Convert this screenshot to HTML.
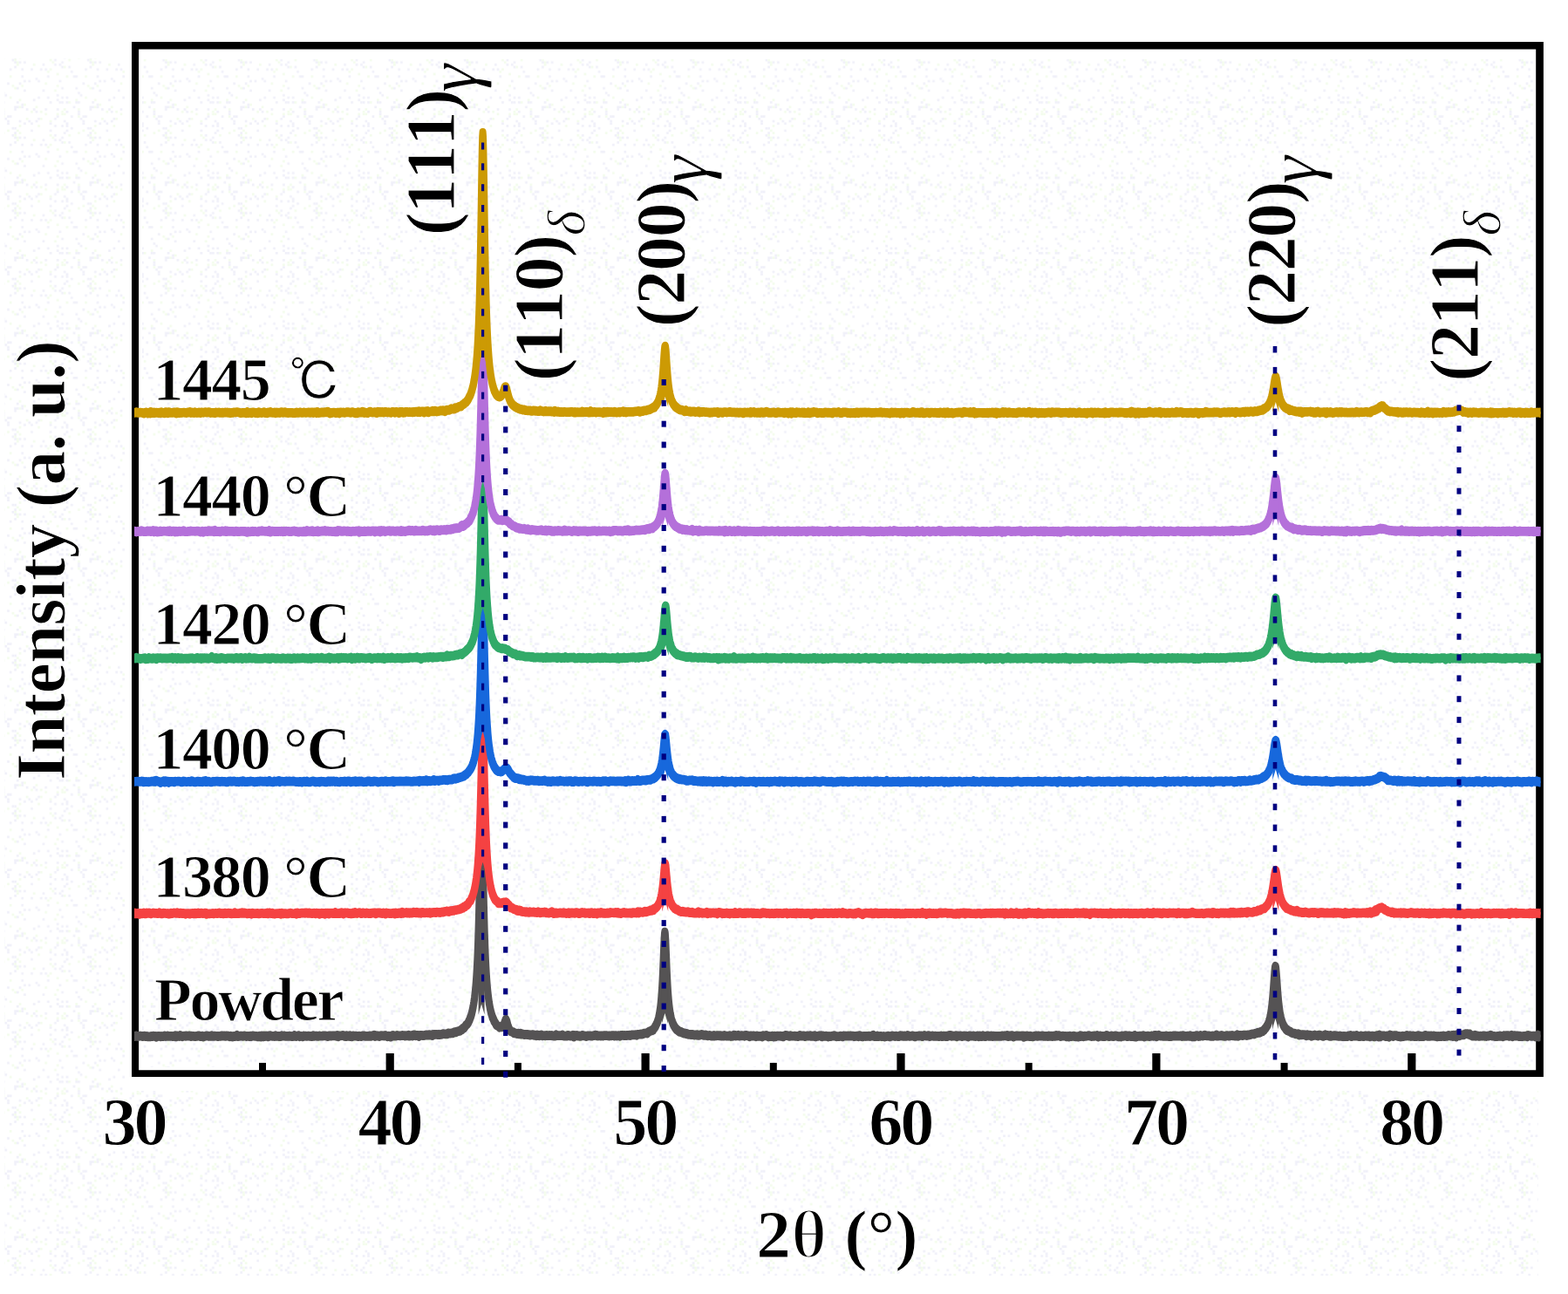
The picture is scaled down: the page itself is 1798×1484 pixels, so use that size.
<!DOCTYPE html>
<html lang="en"><head><meta charset="utf-8"><title>XRD patterns</title>
<style>html,body{margin:0;padding:0;background:#ffffff}body{width:1798px;height:1484px;overflow:hidden}svg{display:block}</style>
</head><body>
<svg width="1798" height="1484" viewBox="0 0 1798 1484">
<rect width="1798" height="1484" fill="#ffffff"/>
<defs><pattern id="dz" patternUnits="userSpaceOnUse" width="86.4" height="86.4"><rect x="0.0" y="0.0" width="2.7" height="2.7" fill="#f0f0f9"/><rect x="10.8" y="0.0" width="2.7" height="2.7" fill="#f3fcec"/><rect x="24.3" y="0.0" width="2.7" height="2.7" fill="#f0f0f9"/><rect x="54.0" y="0.0" width="2.7" height="2.7" fill="#f0f0f9"/><rect x="75.6" y="0.0" width="2.7" height="2.7" fill="#f3fcec"/><rect x="83.7" y="0.0" width="2.7" height="2.7" fill="#f0f0f9"/><rect x="40.5" y="2.7" width="2.7" height="2.7" fill="#f0f0f9"/><rect x="27.0" y="5.4" width="2.7" height="2.7" fill="#f0f0f9"/><rect x="32.4" y="5.4" width="2.7" height="2.7" fill="#f0f0f9"/><rect x="43.2" y="5.4" width="2.7" height="2.7" fill="#f0f0f9"/><rect x="67.5" y="5.4" width="2.7" height="2.7" fill="#f0f0f9"/><rect x="8.1" y="8.1" width="2.7" height="2.7" fill="#f0f0f9"/><rect x="21.6" y="8.1" width="2.7" height="2.7" fill="#f0f0f9"/><rect x="51.3" y="8.1" width="2.7" height="2.7" fill="#f3fcec"/><rect x="13.5" y="10.8" width="2.7" height="2.7" fill="#f3fcec"/><rect x="24.3" y="10.8" width="2.7" height="2.7" fill="#f3fcec"/><rect x="64.8" y="10.8" width="2.7" height="2.7" fill="#f3fcec"/><rect x="0.0" y="13.5" width="2.7" height="2.7" fill="#f0f0f9"/><rect x="16.2" y="13.5" width="2.7" height="2.7" fill="#f3fcec"/><rect x="18.9" y="13.5" width="2.7" height="2.7" fill="#f0f0f9"/><rect x="70.2" y="13.5" width="2.7" height="2.7" fill="#f0f0f9"/><rect x="27.0" y="16.2" width="2.7" height="2.7" fill="#f0f0f9"/><rect x="48.6" y="16.2" width="2.7" height="2.7" fill="#f0f0f9"/><rect x="62.1" y="16.2" width="2.7" height="2.7" fill="#f3fcec"/><rect x="2.7" y="18.9" width="2.7" height="2.7" fill="#f0f0f9"/><rect x="5.4" y="21.6" width="2.7" height="2.7" fill="#f0f0f9"/><rect x="64.8" y="21.6" width="2.7" height="2.7" fill="#f0f0f9"/><rect x="10.8" y="24.3" width="2.7" height="2.7" fill="#f3fcec"/><rect x="43.2" y="24.3" width="2.7" height="2.7" fill="#f0f0f9"/><rect x="54.0" y="24.3" width="2.7" height="2.7" fill="#f0f0f9"/><rect x="70.2" y="24.3" width="2.7" height="2.7" fill="#f0f0f9"/><rect x="75.6" y="24.3" width="2.7" height="2.7" fill="#f0f0f9"/><rect x="0.0" y="27.0" width="2.7" height="2.7" fill="#f3fcec"/><rect x="21.6" y="27.0" width="2.7" height="2.7" fill="#f3fcec"/><rect x="37.8" y="27.0" width="2.7" height="2.7" fill="#f0f0f9"/><rect x="64.8" y="27.0" width="2.7" height="2.7" fill="#f0f0f9"/><rect x="0.0" y="29.7" width="2.7" height="2.7" fill="#f0f0f9"/><rect x="2.7" y="29.7" width="2.7" height="2.7" fill="#f0f0f9"/><rect x="18.9" y="29.7" width="2.7" height="2.7" fill="#f0f0f9"/><rect x="56.7" y="29.7" width="2.7" height="2.7" fill="#f0f0f9"/><rect x="67.5" y="29.7" width="2.7" height="2.7" fill="#f0f0f9"/><rect x="70.2" y="29.7" width="2.7" height="2.7" fill="#f0f0f9"/><rect x="75.6" y="29.7" width="2.7" height="2.7" fill="#f0f0f9"/><rect x="78.3" y="29.7" width="2.7" height="2.7" fill="#f3fcec"/><rect x="24.3" y="32.4" width="2.7" height="2.7" fill="#f0f0f9"/><rect x="27.0" y="32.4" width="2.7" height="2.7" fill="#f3fcec"/><rect x="16.2" y="35.1" width="2.7" height="2.7" fill="#f0f0f9"/><rect x="18.9" y="35.1" width="2.7" height="2.7" fill="#f0f0f9"/><rect x="21.6" y="35.1" width="2.7" height="2.7" fill="#f3fcec"/><rect x="24.3" y="35.1" width="2.7" height="2.7" fill="#f0f0f9"/><rect x="40.5" y="35.1" width="2.7" height="2.7" fill="#f3fcec"/><rect x="83.7" y="35.1" width="2.7" height="2.7" fill="#f0f0f9"/><rect x="2.7" y="37.8" width="2.7" height="2.7" fill="#f3fcec"/><rect x="16.2" y="37.8" width="2.7" height="2.7" fill="#f0f0f9"/><rect x="29.7" y="37.8" width="2.7" height="2.7" fill="#f0f0f9"/><rect x="37.8" y="37.8" width="2.7" height="2.7" fill="#f0f0f9"/><rect x="51.3" y="37.8" width="2.7" height="2.7" fill="#f0f0f9"/><rect x="64.8" y="37.8" width="2.7" height="2.7" fill="#f0f0f9"/><rect x="72.9" y="37.8" width="2.7" height="2.7" fill="#f3fcec"/><rect x="2.7" y="40.5" width="2.7" height="2.7" fill="#f0f0f9"/><rect x="35.1" y="40.5" width="2.7" height="2.7" fill="#f3fcec"/><rect x="40.5" y="40.5" width="2.7" height="2.7" fill="#f0f0f9"/><rect x="45.9" y="40.5" width="2.7" height="2.7" fill="#f3fcec"/><rect x="70.2" y="40.5" width="2.7" height="2.7" fill="#f3fcec"/><rect x="75.6" y="40.5" width="2.7" height="2.7" fill="#f0f0f9"/><rect x="2.7" y="43.2" width="2.7" height="2.7" fill="#f0f0f9"/><rect x="51.3" y="43.2" width="2.7" height="2.7" fill="#f3fcec"/><rect x="64.8" y="43.2" width="2.7" height="2.7" fill="#f3fcec"/><rect x="70.2" y="43.2" width="2.7" height="2.7" fill="#f3fcec"/><rect x="72.9" y="43.2" width="2.7" height="2.7" fill="#f3fcec"/><rect x="2.7" y="45.9" width="2.7" height="2.7" fill="#f3fcec"/><rect x="8.1" y="45.9" width="2.7" height="2.7" fill="#f0f0f9"/><rect x="10.8" y="45.9" width="2.7" height="2.7" fill="#f0f0f9"/><rect x="64.8" y="45.9" width="2.7" height="2.7" fill="#f0f0f9"/><rect x="81.0" y="45.9" width="2.7" height="2.7" fill="#f0f0f9"/><rect x="5.4" y="48.6" width="2.7" height="2.7" fill="#f0f0f9"/><rect x="29.7" y="48.6" width="2.7" height="2.7" fill="#f3fcec"/><rect x="43.2" y="48.6" width="2.7" height="2.7" fill="#f0f0f9"/><rect x="45.9" y="48.6" width="2.7" height="2.7" fill="#f3fcec"/><rect x="62.1" y="48.6" width="2.7" height="2.7" fill="#f0f0f9"/><rect x="8.1" y="51.3" width="2.7" height="2.7" fill="#f0f0f9"/><rect x="21.6" y="51.3" width="2.7" height="2.7" fill="#f0f0f9"/><rect x="32.4" y="51.3" width="2.7" height="2.7" fill="#f0f0f9"/><rect x="40.5" y="51.3" width="2.7" height="2.7" fill="#f0f0f9"/><rect x="56.7" y="51.3" width="2.7" height="2.7" fill="#f3fcec"/><rect x="72.9" y="51.3" width="2.7" height="2.7" fill="#f0f0f9"/><rect x="8.1" y="54.0" width="2.7" height="2.7" fill="#f0f0f9"/><rect x="27.0" y="54.0" width="2.7" height="2.7" fill="#f0f0f9"/><rect x="35.1" y="54.0" width="2.7" height="2.7" fill="#f0f0f9"/><rect x="56.7" y="54.0" width="2.7" height="2.7" fill="#f0f0f9"/><rect x="75.6" y="54.0" width="2.7" height="2.7" fill="#f0f0f9"/><rect x="21.6" y="56.7" width="2.7" height="2.7" fill="#f3fcec"/><rect x="43.2" y="56.7" width="2.7" height="2.7" fill="#f3fcec"/><rect x="62.1" y="56.7" width="2.7" height="2.7" fill="#f0f0f9"/><rect x="70.2" y="56.7" width="2.7" height="2.7" fill="#f0f0f9"/><rect x="75.6" y="56.7" width="2.7" height="2.7" fill="#f0f0f9"/><rect x="13.5" y="59.4" width="2.7" height="2.7" fill="#f0f0f9"/><rect x="16.2" y="59.4" width="2.7" height="2.7" fill="#f0f0f9"/><rect x="81.0" y="59.4" width="2.7" height="2.7" fill="#f0f0f9"/><rect x="8.1" y="62.1" width="2.7" height="2.7" fill="#f3fcec"/><rect x="18.9" y="62.1" width="2.7" height="2.7" fill="#f3fcec"/><rect x="35.1" y="62.1" width="2.7" height="2.7" fill="#f0f0f9"/><rect x="56.7" y="62.1" width="2.7" height="2.7" fill="#f0f0f9"/><rect x="75.6" y="62.1" width="2.7" height="2.7" fill="#f0f0f9"/><rect x="2.7" y="64.8" width="2.7" height="2.7" fill="#f3fcec"/><rect x="16.2" y="64.8" width="2.7" height="2.7" fill="#f0f0f9"/><rect x="21.6" y="64.8" width="2.7" height="2.7" fill="#f3fcec"/><rect x="72.9" y="64.8" width="2.7" height="2.7" fill="#f0f0f9"/><rect x="13.5" y="67.5" width="2.7" height="2.7" fill="#f0f0f9"/><rect x="16.2" y="67.5" width="2.7" height="2.7" fill="#f3fcec"/><rect x="56.7" y="67.5" width="2.7" height="2.7" fill="#f3fcec"/><rect x="62.1" y="67.5" width="2.7" height="2.7" fill="#f0f0f9"/><rect x="78.3" y="67.5" width="2.7" height="2.7" fill="#f3fcec"/><rect x="16.2" y="70.2" width="2.7" height="2.7" fill="#f0f0f9"/><rect x="18.9" y="70.2" width="2.7" height="2.7" fill="#f3fcec"/><rect x="21.6" y="70.2" width="2.7" height="2.7" fill="#f0f0f9"/><rect x="27.0" y="70.2" width="2.7" height="2.7" fill="#f0f0f9"/><rect x="59.4" y="70.2" width="2.7" height="2.7" fill="#f3fcec"/><rect x="70.2" y="70.2" width="2.7" height="2.7" fill="#f0f0f9"/><rect x="18.9" y="72.9" width="2.7" height="2.7" fill="#f3fcec"/><rect x="37.8" y="72.9" width="2.7" height="2.7" fill="#f3fcec"/><rect x="48.6" y="72.9" width="2.7" height="2.7" fill="#f0f0f9"/><rect x="62.1" y="72.9" width="2.7" height="2.7" fill="#f0f0f9"/><rect x="67.5" y="72.9" width="2.7" height="2.7" fill="#f0f0f9"/><rect x="16.2" y="75.6" width="2.7" height="2.7" fill="#f0f0f9"/><rect x="70.2" y="75.6" width="2.7" height="2.7" fill="#f0f0f9"/><rect x="72.9" y="75.6" width="2.7" height="2.7" fill="#f3fcec"/><rect x="78.3" y="75.6" width="2.7" height="2.7" fill="#f0f0f9"/><rect x="10.8" y="78.3" width="2.7" height="2.7" fill="#f0f0f9"/><rect x="24.3" y="78.3" width="2.7" height="2.7" fill="#f0f0f9"/><rect x="35.1" y="78.3" width="2.7" height="2.7" fill="#f0f0f9"/><rect x="45.9" y="78.3" width="2.7" height="2.7" fill="#f0f0f9"/><rect x="51.3" y="78.3" width="2.7" height="2.7" fill="#f0f0f9"/><rect x="56.7" y="78.3" width="2.7" height="2.7" fill="#f3fcec"/><rect x="54.0" y="81.0" width="2.7" height="2.7" fill="#f3fcec"/><rect x="81.0" y="81.0" width="2.7" height="2.7" fill="#f0f0f9"/><rect x="64.8" y="83.7" width="2.7" height="2.7" fill="#f3fcec"/></pattern></defs>
<path d="M5,67H143V1251H1764V1463H5ZM163,68H1758V1224H163Z" fill="url(#dz)"/>
<path d="M151,48H1769.9V1235H151ZM159.1,56.6V1227.2H1761.2V56.6Z" fill="#000" fill-rule="evenodd"/>
<rect x="297.0" y="1218.9" width="8" height="10" fill="#000"/>
<rect x="442.6" y="1208" width="9.2" height="20" fill="#000"/>
<rect x="589.9" y="1218.9" width="8" height="10" fill="#000"/>
<rect x="735.5" y="1208" width="9.2" height="20" fill="#000"/>
<rect x="882.8" y="1218.9" width="8" height="10" fill="#000"/>
<rect x="1028.4" y="1208" width="9.2" height="20" fill="#000"/>
<rect x="1175.7" y="1218.9" width="8" height="10" fill="#000"/>
<rect x="1321.3" y="1208" width="9.2" height="20" fill="#000"/>
<rect x="1468.6" y="1218.9" width="8" height="10" fill="#000"/>
<rect x="1614.2" y="1208" width="9.2" height="20" fill="#000"/>
<clipPath id="cc"><rect x="154" y="40" width="1612.6" height="1200"/></clipPath>
<g clip-path="url(#cc)">
<path d="M148,1186.9L149.2,1186.8L150.4,1187L151.6,1187.3L152.8,1187.1L154,1187.3L155.2,1186.9L156.4,1186.4L157.6,1187.1L158.8,1187.2L160,1186.7L161.2,1186.8L162.4,1186.9L163.6,1187.3L164.8,1186.9L166,1186.7L167.2,1187.4L168.4,1187.1L169.6,1187.6L170.8,1187.4L172,1187.6L173.2,1187L174.4,1187.4L175.6,1186.8L176.8,1186.9L178,1187L179.2,1187.9L180.4,1187.1L181.6,1186.9L182.8,1186.9L184,1187.5L185.2,1187.1L186.4,1187.3L187.6,1187.2L188.8,1186.5L190,1187.2L191.2,1186.9L192.4,1186.6L193.6,1187.1L194.8,1187L196,1186.9L197.2,1186.9L198.4,1187.4L199.6,1186.9L200.8,1186.4L202,1187.5L203.2,1186.6L204.4,1186.9L205.6,1187.2L206.8,1186.1L208,1186.6L209.2,1187.4L210.4,1186.9L211.6,1186.7L212.8,1187L214,1186.6L215.2,1186.9L216.4,1186.7L217.6,1186.4L218.8,1187.2L220,1186.8L221.2,1187.1L222.4,1186.9L223.6,1187.4L224.8,1187.1L226,1187L227.2,1186.6L228.4,1186.5L229.6,1187.4L230.8,1187.2L232,1186.7L233.2,1187.7L234.4,1187.1L235.6,1186.9L236.8,1186.4L238,1186.6L239.2,1187L240.4,1187L241.6,1187L242.8,1186.3L244,1187.1L245.2,1187L246.4,1186.8L247.6,1186.9L248.8,1187L250,1187.3L251.2,1186.9L252.4,1187.1L253.6,1186.5L254.8,1186.6L256,1186.9L257.2,1186.6L258.4,1187L259.6,1186.5L260.8,1186.9L262,1186.7L263.2,1187.4L264.4,1186.8L265.6,1187.5L266.8,1187.7L268,1187L269.2,1187.2L270.4,1186.8L271.6,1186L272.8,1187.2L274,1187.1L275.2,1186.8L276.4,1186.7L277.6,1187L278.8,1187L280,1186.6L281.2,1186.7L282.4,1187.3L283.6,1186.9L284.8,1186.9L286,1187.3L287.2,1186.8L288.4,1187.2L289.6,1186.5L290.8,1186.8L292,1186.8L293.2,1187.1L294.4,1186.9L295.6,1187.6L296.8,1187.3L298,1186.7L299.2,1187.7L300.4,1186.6L301.6,1187.5L302.8,1186.6L304,1187.2L305.2,1186.6L306.4,1186.8L307.6,1187.5L308.8,1186.4L310,1186.3L311.2,1186.9L312.4,1187L313.6,1186.9L314.8,1187.2L316,1186.4L317.2,1187.1L318.4,1186.9L319.6,1187.2L320.8,1187.1L322,1187.3L323.2,1186.4L324.4,1186.9L325.6,1186.5L326.8,1186.8L328,1187.1L329.2,1187L330.4,1187.1L331.6,1186.8L332.8,1187L334,1187L335.2,1187.4L336.4,1187.2L337.6,1186.2L338.8,1187.1L340,1187.2L341.2,1186.7L342.4,1186.3L343.6,1187.4L344.8,1186.9L346,1187.1L347.2,1187.5L348.4,1186.6L349.6,1186.8L350.8,1186.8L352,1187.1L353.2,1186.7L354.4,1187L355.6,1186.9L356.8,1187.2L358,1187.3L359.2,1186.3L360.4,1187L361.6,1186.7L362.8,1186.8L364,1187L365.2,1187L366.4,1186.6L367.6,1186.9L368.8,1186.9L370,1186.8L371.2,1186.4L372.4,1186.5L373.6,1186.7L374.8,1187L376,1187.3L377.2,1186.4L378.4,1186.4L379.6,1186.8L380.8,1186.6L382,1186.5L383.2,1186.5L384.4,1186.4L385.6,1187L386.8,1186.2L388,1187.3L389.2,1186.4L390.4,1186.6L391.6,1186.4L392.8,1186.1L394,1186.2L395.2,1187.2L396.4,1187.4L397.6,1186.4L398.8,1187.1L400,1186.8L401.2,1186.4L402.4,1187.4L403.6,1187.5L404.8,1186.6L406,1186.7L407.2,1186.8L408.4,1186.7L409.6,1187.1L410.8,1187.3L412,1186.8L413.2,1187.1L414.4,1187.3L415.6,1186.5L416.8,1186.7L418,1186.5L419.2,1187.1L420.4,1186.9L421.6,1187.1L422.8,1187L424,1186.6L425.2,1187L426.4,1186.5L427.6,1186.5L428.8,1185.9L430,1187.2L431.2,1186.3L432.4,1186.7L433.6,1186.6L434.8,1187.2L436,1186.8L437.2,1186.3L438.4,1186.6L439.6,1186.6L440.8,1186.7L442,1186.1L443.2,1186.6L444.4,1187.4L445.6,1186.8L446.8,1187.3L448,1187.8L449.2,1186.7L450.4,1186L451.6,1186.5L452.8,1186.9L454,1186.8L455.2,1186L456.4,1186.4L457.6,1186.4L458.8,1186.5L460,1186.4L461.2,1186.1L462.4,1186.2L463.6,1186.3L464.8,1186.8L466,1186.2L467.2,1186.6L468.4,1185.9L469.6,1186.8L470.8,1186.3L472,1186.3L473.2,1186.7L474.4,1185.6L475.6,1185.6L476.8,1186.4L478,1185.9L479.2,1186L480.4,1187.1L481.6,1186L482.8,1186.1L484,1186L485.2,1186.4L486.4,1186L487.6,1186L488.8,1185.4L490,1185.7L491.2,1185.8L492.4,1185.2L493.6,1185.9L494.8,1185.8L496,1186.3L497.2,1184.9L498.4,1185.1L499.6,1185L500.8,1185.1L502,1185.2L503.2,1185.1L504.4,1185.2L505.6,1185.1L506.8,1184.9L508,1184.2L509.2,1184.4L510.4,1184.5L511.6,1184.6L512.8,1184.5L514,1183.5L515.2,1183.7L516.4,1183.7L517.6,1183.6L518.8,1183.6L520,1183L521.2,1182.3L522.4,1182.5L523.6,1182L524.8,1181.6L526,1181L527.2,1181.1L528.4,1180L529.6,1179.5L530.8,1178L532,1177.7L533.2,1176L534.4,1174.3L535.6,1173.4L536.8,1171.6L538,1169L538.1,1168.9L538.5,1168.2L538.9,1166.9L539.2,1165.7L539.3,1166L539.7,1164.8L540.1,1163.8L540.4,1162.5L540.5,1162.5L540.9,1161L541.3,1159L541.6,1158.1L541.7,1157.4L542.1,1155.5L542.5,1153.6L542.8,1151.9L542.9,1151.2L543.3,1148.9L543.7,1146.2L544,1144L544.1,1143.1L544.5,1139.7L544.9,1136L545.2,1132.9L545.3,1131.8L545.7,1127L546.1,1121.5L546.4,1117L546.5,1115.4L546.9,1108.3L547.3,1100.2L547.6,1093.3L547.7,1090.9L548.1,1080.1L548.5,1067.6L548.8,1057L548.9,1053.3L549.3,1036.9L549.7,1018.6L550,1003.7L550.1,998.6L550.5,977.8L550.9,957.8L551.2,944.5L551.3,940.7L551.7,929L552.1,924.8L552.4,927.2L552.5,929L552.9,940.7L553.3,957.8L553.6,972.7L553.7,977.8L554.1,998.6L554.5,1018.5L554.8,1032.5L554.9,1036.9L555.3,1053.2L555.7,1067.5L556,1077L556.1,1080L556.5,1090.8L556.9,1100.1L557.2,1106.3L557.3,1108.2L557.7,1115.3L558.1,1121.5L558.4,1125.6L558.5,1126.8L558.9,1131.6L559.3,1135.8L559.6,1138.7L559.7,1139.7L560.1,1143L560.5,1146L560.8,1148L560.9,1148.8L561.3,1151.1L561.7,1153.4L562,1155.1L562.1,1155.6L562.5,1157.2L562.9,1158.9L563.2,1160.5L563.3,1160.3L563.7,1161.9L564.1,1163L564.4,1164.3L564.5,1164.5L564.9,1165.9L565.3,1166L565.6,1167.4L565.7,1167.2L566.8,1170.1L568,1171.8L569.2,1174.1L570.4,1174.9L571.6,1175.4L572.8,1176.9L574,1176.4L575.2,1176.6L576.4,1176.4L577.6,1174.2L578.8,1170.8L580,1167.8L581.2,1170.3L582.4,1174.9L583.6,1178L584.8,1180.3L586,1181.6L587.2,1182L588.4,1182.2L589.6,1183.6L590.8,1183.4L592,1183.9L593.2,1184.3L594.4,1183.8L595.6,1184.5L596.8,1183.9L598,1184.9L599.2,1184.6L600.4,1185L601.6,1185.3L602.8,1184.9L604,1185.2L605.2,1185L606.4,1185.4L607.6,1185.8L608.8,1185.5L610,1185.5L611.2,1185.2L612.4,1186L613.6,1185.7L614.8,1186.4L616,1185.5L617.2,1186.2L618.4,1186.5L619.6,1185.9L620.8,1185.5L622,1186.5L623.2,1186.4L624.4,1186.3L625.6,1186.5L626.8,1185.9L628,1186.4L629.2,1186.4L630.4,1185.9L631.6,1186.4L632.8,1186L634,1186.6L635.2,1186.7L636.4,1186.9L637.6,1185.5L638.8,1186.4L640,1186.2L641.2,1186.3L642.4,1186.2L643.6,1186.3L644.8,1185.6L646,1186.7L647.2,1186.9L648.4,1186.7L649.6,1186.9L650.8,1186.1L652,1186.1L653.2,1186.7L654.4,1186.9L655.6,1186.5L656.8,1185.9L658,1187.5L659.2,1186.2L660.4,1186.8L661.6,1186L662.8,1186.8L664,1186.5L665.2,1187L666.4,1186.8L667.6,1185.9L668.8,1186.1L670,1186.6L671.2,1186.8L672.4,1187.2L673.6,1186.6L674.8,1186.5L676,1186.5L677.2,1186.5L678.4,1186.9L679.6,1186.5L680.8,1186.4L682,1185.9L683.2,1185.7L684.4,1186.5L685.6,1186.7L686.8,1186.4L688,1186.6L689.2,1186.7L690.4,1186.4L691.6,1186.8L692.8,1186.2L694,1186.4L695.2,1186.3L696.4,1186.4L697.6,1186.6L698.8,1186.7L700,1186.4L701.2,1186.5L702.4,1186.2L703.6,1186.3L704.8,1186.8L706,1186.2L707.2,1186.7L708.4,1186.4L709.6,1186.3L710.8,1186.9L712,1186.1L713.2,1186L714.4,1186.1L715.6,1186.2L716.8,1186.1L718,1186.3L719.2,1186L720.4,1186.1L721.6,1185.8L722.8,1186.2L724,1185.6L725.2,1185.6L726.4,1185.6L727.6,1185.6L728.8,1185.2L730,1185.9L731.2,1185L732.4,1184.9L733.6,1184.8L734.8,1184.6L736,1184.8L737.2,1184.4L738.4,1183.8L739.6,1183.6L740.8,1183.4L742,1183.7L743.2,1182.5L744.4,1181.7L745.6,1181.2L746.8,1180.7L748,1180.4L748.4,1179.3L748.8,1179.2L749.2,1179.4L749.6,1178.3L750,1178.2L750.4,1177.6L750.8,1177L751.2,1176L751.6,1175.7L752,1174.9L752.4,1173.9L752.8,1173.1L753.2,1172.4L753.6,1171.3L754,1170.3L754.4,1168.9L754.8,1167.5L755.2,1165.9L755.6,1164.1L756,1162.1L756.4,1159.8L756.8,1157.2L757.2,1154.2L757.6,1150.7L758,1146.6L758.4,1141.9L758.8,1136.4L759.2,1130L759.6,1122.6L760,1114.1L760.4,1104.7L760.8,1094.6L761.2,1084.7L761.6,1076L762,1070L762.4,1067.8L762.8,1070L763.2,1076L763.6,1084.7L764,1094.6L764.4,1104.7L764.8,1114.1L765.2,1122.6L765.6,1130L766,1136.4L766.4,1141.9L766.8,1146.6L767.2,1150.7L767.6,1154.2L768,1157.2L768.4,1159.8L768.8,1162.1L769.2,1164.1L769.6,1165.9L770,1167.5L770.4,1168.9L770.8,1170.1L771.2,1171.3L771.6,1172.4L772,1173.3L772.4,1174L772.8,1174.9L773.2,1175.4L773.6,1176.4L774,1176.9L774.4,1177.5L774.8,1177.8L775.2,1178.1L775.6,1179.2L776,1179.5L776.8,1179.8L778,1181.1L779.2,1182.1L780.4,1181.8L781.6,1182.5L782.8,1183L784,1183.7L785.2,1183.5L786.4,1184.2L787.6,1184L788.8,1184.9L790,1185.1L791.2,1184.9L792.4,1185.3L793.6,1185L794.8,1185.2L796,1185.8L797.2,1185.5L798.4,1185.7L799.6,1185.3L800.8,1186L802,1186L803.2,1185.4L804.4,1185.1L805.6,1185.2L806.8,1186L808,1186L809.2,1185.5L810.4,1186.2L811.6,1186.6L812.8,1186.2L814,1186.1L815.2,1186.6L816.4,1186.9L817.6,1186.9L818.8,1186.1L820,1186.7L821.2,1186.5L822.4,1186.3L823.6,1186.2L824.8,1186.6L826,1186.3L827.2,1186.8L828.4,1186.6L829.6,1186.9L830.8,1186.1L832,1186.6L833.2,1186.8L834.4,1186.7L835.6,1186.7L836.8,1186.3L838,1187.2L839.2,1187L840.4,1186.8L841.6,1185.7L842.8,1186.3L844,1186.7L845.2,1186.4L846.4,1185.9L847.6,1186.8L848.8,1186.8L850,1186.2L851.2,1186.5L852.4,1186.4L853.6,1186.9L854.8,1186L856,1186.1L857.2,1186.5L858.4,1186.5L859.6,1187.5L860.8,1186.5L862,1186.8L863.2,1186.6L864.4,1186.5L865.6,1186.9L866.8,1187.4L868,1186.6L869.2,1187L870.4,1186.9L871.6,1187L872.8,1186.9L874,1187.6L875.2,1186.3L876.4,1186.7L877.6,1186.4L878.8,1186L880,1186.8L881.2,1187.5L882.4,1187.1L883.6,1187.3L884.8,1187L886,1186.8L887.2,1187.6L888.4,1186.7L889.6,1187.4L890.8,1186.7L892,1186.8L893.2,1186.9L894.4,1186.8L895.6,1187L896.8,1187L898,1187.5L899.2,1186.8L900.4,1186.1L901.6,1186.1L902.8,1186.3L904,1186.6L905.2,1187.1L906.4,1186.3L907.6,1186.9L908.8,1186.9L910,1186.9L911.2,1186.8L912.4,1187L913.6,1186.9L914.8,1187.3L916,1187L917.2,1186L918.4,1186.9L919.6,1186.9L920.8,1186.6L922,1186.6L923.2,1187.3L924.4,1186.9L925.6,1186.5L926.8,1186.7L928,1186.8L929.2,1186.3L930.4,1187.1L931.6,1186.8L932.8,1187.1L934,1186.3L935.2,1187.6L936.4,1187.1L937.6,1187.1L938.8,1186.6L940,1186.6L941.2,1186.3L942.4,1187.5L943.6,1186.6L944.8,1187L946,1187.1L947.2,1186.7L948.4,1187.2L949.6,1187.7L950.8,1187L952,1187.4L953.2,1187.1L954.4,1186.7L955.6,1186.8L956.8,1186.3L958,1186.9L959.2,1187.5L960.4,1187.2L961.6,1187.2L962.8,1187.3L964,1186.7L965.2,1187.1L966.4,1187.6L967.6,1186.6L968.8,1186.9L970,1186.7L971.2,1186.8L972.4,1186.6L973.6,1186.9L974.8,1186.4L976,1186.7L977.2,1186.7L978.4,1186.7L979.6,1187.4L980.8,1186.9L982,1187L983.2,1186.8L984.4,1187.4L985.6,1186.3L986.8,1186.8L988,1187.3L989.2,1187.5L990.4,1187L991.6,1186.9L992.8,1187.2L994,1186.9L995.2,1187.1L996.4,1186.7L997.6,1187.2L998.8,1186.9L1000,1186.5L1001.2,1185.9L1002.4,1187.3L1003.6,1187.1L1004.8,1187.2L1006,1186.6L1007.2,1187.3L1008.4,1187.1L1009.6,1186.9L1010.8,1187.3L1012,1187.3L1013.2,1187.1L1014.4,1187.7L1015.6,1187.4L1016.8,1187.1L1018,1186.8L1019.2,1187L1020.4,1187.6L1021.6,1187.1L1022.8,1186.6L1024,1186.7L1025.2,1186.9L1026.4,1187.2L1027.6,1186.7L1028.8,1187.1L1030,1187.3L1031.2,1187.2L1032.4,1186.3L1033.6,1186.8L1034.8,1186.5L1036,1187.1L1037.2,1186.5L1038.4,1187.1L1039.6,1187L1040.8,1186L1042,1186.6L1043.2,1187.1L1044.4,1186.9L1045.6,1186.8L1046.8,1186.4L1048,1187.1L1049.2,1187.6L1050.4,1187L1051.6,1186.9L1052.8,1186.9L1054,1186.4L1055.2,1186.8L1056.4,1186.6L1057.6,1187.3L1058.8,1186.6L1060,1186.1L1061.2,1186.6L1062.4,1186.8L1063.6,1186.8L1064.8,1186.2L1066,1187.3L1067.2,1186.9L1068.4,1186.7L1069.6,1186.6L1070.8,1187.1L1072,1186.8L1073.2,1187L1074.4,1186.9L1075.6,1187L1076.8,1187.3L1078,1186.9L1079.2,1186.6L1080.4,1187.3L1081.6,1187L1082.8,1186.7L1084,1187.3L1085.2,1186.8L1086.4,1187.3L1087.6,1186.5L1088.8,1186L1090,1186.1L1091.2,1187L1092.4,1186.6L1093.6,1186.9L1094.8,1186.9L1096,1186.3L1097.2,1187.4L1098.4,1186.5L1099.6,1186.9L1100.8,1186.4L1102,1186.8L1103.2,1187.2L1104.4,1186.8L1105.6,1186.6L1106.8,1186.9L1108,1186.7L1109.2,1187.1L1110.4,1187.7L1111.6,1186.6L1112.8,1186.6L1114,1186.9L1115.2,1186.9L1116.4,1186.5L1117.6,1187.1L1118.8,1187.2L1120,1187L1121.2,1186.5L1122.4,1187.4L1123.6,1186.5L1124.8,1187.2L1126,1187.3L1127.2,1186.4L1128.4,1186.9L1129.6,1187.4L1130.8,1187L1132,1186.6L1133.2,1186.5L1134.4,1187.1L1135.6,1186.8L1136.8,1186.6L1138,1187.2L1139.2,1186.8L1140.4,1186.9L1141.6,1187.1L1142.8,1187.1L1144,1186.9L1145.2,1186.9L1146.4,1187.1L1147.6,1187.1L1148.8,1186.5L1150,1186.8L1151.2,1186.6L1152.4,1186.5L1153.6,1186.7L1154.8,1186L1156,1187.2L1157.2,1186.6L1158.4,1187L1159.6,1186.2L1160.8,1186.3L1162,1187.7L1163.2,1187.3L1164.4,1186.7L1165.6,1186.6L1166.8,1186.6L1168,1186.9L1169.2,1186.7L1170.4,1186.7L1171.6,1186.9L1172.8,1186.5L1174,1187.8L1175.2,1186.7L1176.4,1187.3L1177.6,1186.5L1178.8,1187L1180,1187.2L1181.2,1186.8L1182.4,1187.3L1183.6,1187.3L1184.8,1187.5L1186,1186.9L1187.2,1186.7L1188.4,1186.5L1189.6,1187L1190.8,1186.5L1192,1186.9L1193.2,1186.9L1194.4,1186.7L1195.6,1186.5L1196.8,1187L1198,1187L1199.2,1187L1200.4,1186.9L1201.6,1187.2L1202.8,1186.5L1204,1187.1L1205.2,1186.7L1206.4,1187.2L1207.6,1186.8L1208.8,1186.8L1210,1187.1L1211.2,1186.1L1212.4,1186.8L1213.6,1186.2L1214.8,1186.5L1216,1187.2L1217.2,1187.1L1218.4,1186.7L1219.6,1186.9L1220.8,1186.9L1222,1187L1223.2,1187.6L1224.4,1187L1225.6,1187.7L1226.8,1186.8L1228,1187.2L1229.2,1187.2L1230.4,1187L1231.6,1186.8L1232.8,1187.4L1234,1187.6L1235.2,1187.3L1236.4,1187.7L1237.6,1187.3L1238.8,1186.3L1240,1187.3L1241.2,1186.7L1242.4,1187.4L1243.6,1186.8L1244.8,1187L1246,1186.9L1247.2,1186.7L1248.4,1186.2L1249.6,1186.8L1250.8,1186.9L1252,1187.3L1253.2,1186.7L1254.4,1187L1255.6,1186.6L1256.8,1186.9L1258,1186.2L1259.2,1187.6L1260.4,1187L1261.6,1186.6L1262.8,1187L1264,1187.2L1265.2,1187L1266.4,1187.4L1267.6,1186.8L1268.8,1186L1270,1186.5L1271.2,1187.3L1272.4,1187.2L1273.6,1187L1274.8,1186.5L1276,1187.2L1277.2,1187.2L1278.4,1186.6L1279.6,1186.6L1280.8,1187L1282,1187.3L1283.2,1187.5L1284.4,1187.2L1285.6,1187.7L1286.8,1186.6L1288,1187.1L1289.2,1186.7L1290.4,1186.2L1291.6,1186.4L1292.8,1187.3L1294,1186.6L1295.2,1186.4L1296.4,1187.2L1297.6,1187.2L1298.8,1186.9L1300,1187.5L1301.2,1186.3L1302.4,1187.8L1303.6,1187.3L1304.8,1187L1306,1187L1307.2,1186.8L1308.4,1186.8L1309.6,1187L1310.8,1186.4L1312,1187.7L1313.2,1186.9L1314.4,1187.1L1315.6,1186.8L1316.8,1186.8L1318,1187.2L1319.2,1187.1L1320.4,1186.6L1321.6,1186.7L1322.8,1187.1L1324,1186.1L1325.2,1186L1326.4,1187.4L1327.6,1186.7L1328.8,1185.9L1330,1186.6L1331.2,1186.8L1332.4,1186.9L1333.6,1187L1334.8,1186.9L1336,1187L1337.2,1186.6L1338.4,1187L1339.6,1187L1340.8,1187.3L1342,1186.8L1343.2,1187.2L1344.4,1186.9L1345.6,1186.4L1346.8,1186.7L1348,1186.6L1349.2,1186.7L1350.4,1186.8L1351.6,1186.9L1352.8,1186.9L1354,1186.5L1355.2,1187.2L1356.4,1186.3L1357.6,1186.8L1358.8,1187.1L1360,1187L1361.2,1187L1362.4,1186.7L1363.6,1187.1L1364.8,1186.3L1366,1187.1L1367.2,1187.6L1368.4,1187L1369.6,1187.5L1370.8,1186.8L1372,1186.3L1373.2,1186.5L1374.4,1187.2L1375.6,1187L1376.8,1186.1L1378,1186.6L1379.2,1186.7L1380.4,1186.3L1381.6,1185.8L1382.8,1186.2L1384,1186.6L1385.2,1186.5L1386.4,1186.4L1387.6,1186.9L1388.8,1187.1L1390,1186.6L1391.2,1187L1392.4,1186.6L1393.6,1186.6L1394.8,1185.7L1396,1186.9L1397.2,1186.6L1398.4,1186.6L1399.6,1186.4L1400.8,1186.1L1402,1186.7L1403.2,1186.8L1404.4,1187.1L1405.6,1186.8L1406.8,1186.2L1408,1186.4L1409.2,1186.8L1410.4,1186.5L1411.6,1186.3L1412.8,1186.1L1414,1186.5L1415.2,1186.4L1416.4,1186.9L1417.6,1186.6L1418.8,1185.5L1420,1186.9L1421.2,1186.2L1422.4,1185.9L1423.6,1186.1L1424.8,1186.2L1426,1185.8L1427.2,1185.7L1428.4,1185.7L1429.6,1186.3L1430.8,1185.5L1432,1185.7L1433.2,1185.4L1434.4,1185L1435.6,1184.7L1436.8,1184.4L1438,1184.7L1439.2,1183.9L1440.4,1183.6L1441.6,1183.3L1442.8,1182.8L1444,1183L1445.2,1182.5L1446.4,1181.6L1447.6,1181.6L1448.5,1180.4L1448.8,1180.4L1448.9,1180.3L1449.3,1180.3L1449.7,1179.7L1450,1179.2L1450.1,1178.9L1450.5,1178.4L1450.9,1178.2L1451.2,1177.8L1451.3,1177.8L1451.7,1177.1L1452.1,1176.6L1452.4,1176L1452.5,1175.7L1452.9,1175.2L1453.3,1174.6L1453.6,1173.9L1453.7,1173.7L1454.1,1172.7L1454.5,1171.6L1454.8,1170.8L1454.9,1170.5L1455.3,1169.2L1455.7,1167.7L1456,1166.6L1456.1,1166.2L1456.5,1164.4L1456.9,1162.3L1457.2,1160.6L1457.3,1160L1457.7,1157.3L1458.1,1154.3L1458.4,1151.8L1458.5,1150.9L1458.9,1147L1459.3,1142.6L1459.6,1138.9L1459.7,1137.7L1460.1,1132.3L1460.5,1126.6L1460.8,1122.3L1460.9,1120.8L1461.3,1115.5L1461.7,1111L1462,1108.6L1462.1,1108L1462.5,1106.9L1462.9,1108L1463.2,1110.1L1463.3,1111L1463.7,1115.5L1464.1,1120.8L1464.4,1125.1L1464.5,1126.6L1464.9,1132.3L1465.3,1137.7L1465.6,1141.4L1465.7,1142.6L1466.1,1147L1466.5,1150.9L1466.8,1153.5L1466.9,1154.3L1467.3,1157.4L1467.7,1160L1468,1161.8L1468.1,1162.3L1468.5,1164.4L1468.9,1166.2L1469.2,1167.4L1469.3,1167.7L1469.7,1169.2L1470.1,1170.4L1470.4,1171.4L1470.5,1171.6L1470.9,1172.6L1471.3,1173.5L1471.6,1174.1L1471.7,1174.4L1472.1,1175.3L1472.5,1176L1472.8,1176.3L1472.9,1176.5L1473.3,1176.9L1473.7,1177.6L1474,1177.9L1474.1,1177.9L1474.5,1178.6L1474.9,1179.4L1475.2,1179.6L1475.3,1179.8L1475.7,1179.4L1476.1,1180.4L1476.4,1180.1L1477.6,1181.1L1478.8,1181.4L1480,1182.2L1481.2,1183.1L1482.4,1183.5L1483.6,1183.7L1484.8,1184L1486,1184.5L1487.2,1184.6L1488.4,1184.2L1489.6,1185.6L1490.8,1185L1492,1185.6L1493.2,1185.3L1494.4,1185.2L1495.6,1185.6L1496.8,1185.4L1498,1186.4L1499.2,1185.4L1500.4,1186.1L1501.6,1185.7L1502.8,1185.9L1504,1187L1505.2,1186.4L1506.4,1186.1L1507.6,1185.6L1508.8,1186.1L1510,1186.2L1511.2,1186.8L1512.4,1185.8L1513.6,1185.7L1514.8,1186.4L1516,1186.5L1517.2,1187L1518.4,1186.1L1519.6,1185.4L1520.8,1186.2L1522,1186L1523.2,1186.3L1524.4,1186.9L1525.6,1186L1526.8,1187L1528,1186.7L1529.2,1186.5L1530.4,1186.3L1531.6,1186.5L1532.8,1186.5L1534,1186.9L1535.2,1187.1L1536.4,1186.6L1537.6,1186.9L1538.8,1187.2L1540,1187.2L1541.2,1186.9L1542.4,1187.4L1543.6,1187.2L1544.8,1187.3L1546,1186.6L1547.2,1186.6L1548.4,1186L1549.6,1187.3L1550.8,1187L1552,1186.4L1553.2,1186.8L1554.4,1186.9L1555.6,1186.1L1556.8,1186.9L1558,1187.2L1559.2,1187.3L1560.4,1186.6L1561.6,1186.7L1562.8,1187.3L1564,1187.2L1565.2,1186.6L1566.4,1186.6L1567.6,1187L1568.8,1186.6L1570,1186.6L1571.2,1187.5L1572.4,1186.9L1573.6,1186.7L1574.8,1187L1576,1187.6L1577.2,1186.9L1578.4,1186.5L1579.6,1186.2L1580.8,1187.7L1582,1185.8L1583.2,1187.3L1584.4,1186.5L1585.6,1186.4L1586.8,1186.5L1588,1186.8L1589.2,1187.3L1590.4,1186.6L1591.6,1187.1L1592.8,1187.8L1594,1185.8L1595.2,1186.6L1596.4,1186.2L1597.6,1187.2L1598.8,1186.3L1600,1186.2L1601.2,1186.3L1602.4,1186.9L1603.6,1187.3L1604.8,1186.9L1606,1187.7L1607.2,1187.5L1608.4,1186.8L1609.6,1187.2L1610.8,1186.9L1612,1186.9L1613.2,1186.1L1614.4,1186.4L1615.6,1186.9L1616.8,1186.4L1618,1187.2L1619.2,1187L1620.4,1186.5L1621.6,1187.3L1622.8,1187L1624,1187.4L1625.2,1186.8L1626.4,1186.2L1627.6,1187.2L1628.8,1186.8L1630,1187.2L1631.2,1187.3L1632.4,1187.3L1633.6,1186.3L1634.8,1186L1636,1186.7L1637.2,1187.1L1638.4,1186.6L1639.6,1187L1640.8,1186.6L1642,1186.7L1643.2,1186.7L1644.4,1186.6L1645.6,1187.1L1646.8,1187L1648,1187.5L1649.2,1187L1650.4,1187.4L1651.6,1186.9L1652.8,1187.2L1654,1186.8L1655.2,1186.6L1656.4,1187.3L1657.6,1187.1L1658.8,1187.1L1660,1186.5L1661.2,1186.1L1662.4,1186.4L1663.6,1186.8L1664.8,1186.1L1666,1187.2L1667.2,1186L1668.4,1186.8L1669.6,1187.6L1670.8,1185.4L1672,1185.7L1673.2,1186.6L1674.4,1185.9L1675.6,1185.8L1676.8,1185.4L1678,1185.6L1679.2,1185L1680.4,1184.3L1681.6,1184.4L1682.8,1184.2L1684,1185L1685.2,1184.6L1686.4,1186L1687.6,1185.9L1688.8,1186.9L1690,1186.8L1691.2,1185.9L1692.4,1186.9L1693.6,1186.4L1694.8,1186.6L1696,1187.1L1697.2,1186.8L1698.4,1186.9L1699.6,1186.9L1700.8,1186.5L1702,1186.5L1703.2,1187L1704.4,1187.2L1705.6,1186.7L1706.8,1186.9L1708,1186.4L1709.2,1185.8L1710.4,1186.5L1711.6,1186.9L1712.8,1186.9L1714,1187.2L1715.2,1187.2L1716.4,1187.3L1717.6,1187L1718.8,1187L1720,1186.6L1721.2,1187L1722.4,1187L1723.6,1187.4L1724.8,1186.3L1726,1186.7L1727.2,1186.2L1728.4,1186.6L1729.6,1186.3L1730.8,1187L1732,1186.6L1733.2,1185.9L1734.4,1187.4L1735.6,1186.5L1736.8,1186.3L1738,1186.7L1739.2,1186.6L1740.4,1186.4L1741.6,1187.2L1742.8,1186.8L1744,1187.2L1745.2,1187.2L1746.4,1187.2L1747.6,1187L1748.8,1186.9L1750,1186.7L1751.2,1187.5L1752.4,1186.1L1753.6,1186.5L1754.8,1186.6L1756,1187.1L1757.2,1187L1758.4,1186.7L1759.6,1186.8L1760.8,1187.6L1762,1186.6L1763.2,1185.8L1764.4,1187.6L1765.6,1186.5L1766.8,1186.8L1768,1187L1769.2,1186.4L1770.4,1187.4L1771.6,1186.9L1772.8,1186.4L1772.8,1189.1L1771.6,1189.6L1770.4,1190.1L1769.2,1189.1L1768,1189.7L1766.8,1189.5L1765.6,1189.2L1764.4,1190.3L1763.2,1188.5L1762,1189.3L1760.8,1190.3L1759.6,1189.5L1758.4,1189.4L1757.2,1189.7L1756,1189.8L1754.8,1189.3L1753.6,1189.2L1752.4,1188.8L1751.2,1190.2L1750,1189.4L1748.8,1189.6L1747.6,1189.7L1746.4,1189.9L1745.2,1189.9L1744,1189.9L1742.8,1189.5L1741.6,1189.9L1740.4,1189.1L1739.2,1189.3L1738,1189.4L1736.8,1189L1735.6,1189.2L1734.4,1190.1L1733.2,1188.6L1732,1189.3L1730.8,1189.7L1729.6,1189L1728.4,1189.3L1727.2,1188.9L1726,1189.4L1724.8,1189L1723.6,1190.1L1722.4,1189.7L1721.2,1189.7L1720,1189.3L1718.8,1189.7L1717.6,1189.7L1716.4,1190L1715.2,1189.9L1714,1189.9L1712.8,1189.6L1711.6,1189.6L1710.4,1189.2L1709.2,1188.5L1708,1189.1L1706.8,1189.6L1705.6,1189.4L1704.4,1189.9L1703.2,1189.7L1702,1189.2L1700.8,1189.2L1699.6,1189.6L1698.4,1189.6L1697.2,1189.5L1696,1189.8L1694.8,1189.3L1693.6,1189.1L1692.4,1189.6L1691.2,1188.6L1690,1189.5L1688.8,1189.6L1687.6,1188.6L1686.4,1188.7L1685.2,1187.3L1684,1187.7L1682.8,1186.9L1681.6,1187.1L1680.4,1187L1679.2,1187.7L1678,1188.3L1676.8,1188.1L1675.6,1188.5L1674.4,1188.6L1673.2,1189.3L1672,1188.4L1670.8,1188.1L1669.6,1190.3L1668.4,1189.5L1667.2,1188.7L1666,1189.9L1664.8,1188.8L1663.6,1189.5L1662.4,1189.1L1661.2,1188.8L1660,1189.2L1658.8,1189.8L1657.6,1189.8L1656.4,1190L1655.2,1189.3L1654,1189.5L1652.8,1189.9L1651.6,1189.6L1650.4,1190.1L1649.2,1189.7L1648,1190.2L1646.8,1189.7L1645.6,1189.8L1644.4,1189.3L1643.2,1189.4L1642,1189.4L1640.8,1189.3L1639.6,1189.7L1638.4,1189.3L1637.2,1189.8L1636,1189.4L1634.8,1188.7L1633.6,1189L1632.4,1190L1631.2,1190L1630,1189.9L1628.8,1189.5L1627.6,1189.9L1626.4,1188.9L1625.2,1189.5L1624,1190.1L1622.8,1189.7L1621.6,1190L1620.4,1189.2L1619.2,1189.7L1618,1189.9L1616.8,1189.1L1615.6,1189.6L1614.4,1189.1L1613.2,1188.8L1612,1189.6L1610.8,1189.6L1609.6,1189.9L1608.4,1189.5L1607.2,1190.2L1606,1190.4L1604.8,1189.6L1603.6,1190L1602.4,1189.6L1601.2,1189L1600,1188.9L1598.8,1189L1597.6,1189.9L1596.4,1188.9L1595.2,1189.3L1594,1188.5L1592.8,1190.5L1591.6,1189.8L1590.4,1189.3L1589.2,1190L1588,1189.5L1586.8,1189.2L1585.6,1189.1L1584.4,1189.2L1583.2,1190L1582,1188.5L1580.8,1190.4L1579.6,1188.9L1578.4,1189.2L1577.2,1189.6L1576,1190.3L1574.8,1189.7L1573.6,1189.4L1572.4,1189.6L1571.2,1190.2L1570,1189.3L1568.8,1189.3L1567.6,1189.7L1566.4,1189.3L1565.2,1189.3L1564,1189.9L1562.8,1190L1561.6,1189.4L1560.4,1189.3L1559.2,1190L1558,1189.9L1556.8,1189.6L1555.6,1188.8L1554.4,1189.6L1553.2,1189.5L1552,1189.1L1550.8,1189.7L1549.6,1190L1548.4,1188.7L1547.2,1189.3L1546,1189.3L1544.8,1190L1543.6,1189.9L1542.4,1190.1L1541.2,1189.6L1540,1189.9L1538.8,1189.9L1537.6,1189.6L1536.4,1189.3L1535.2,1189.8L1534,1189.6L1532.8,1189.2L1531.6,1189.2L1530.4,1189L1529.2,1189.2L1528,1189.4L1526.8,1189.7L1525.6,1188.7L1524.4,1189.6L1523.2,1189L1522,1188.7L1520.8,1188.9L1519.6,1188.1L1518.4,1188.8L1517.2,1189.7L1516,1189.2L1514.8,1189.1L1513.6,1188.4L1512.4,1188.5L1511.2,1189.5L1510,1188.9L1508.8,1188.8L1507.6,1188.3L1506.4,1188.8L1505.2,1189.1L1504,1189.7L1502.8,1188.6L1501.6,1188.4L1500.4,1188.8L1499.2,1188.1L1498,1189.1L1496.8,1188.1L1495.6,1188.3L1494.4,1187.9L1493.2,1188L1492,1188.3L1490.8,1187.7L1489.6,1188.3L1488.4,1186.9L1487.2,1187.3L1486,1187.2L1484.8,1186.7L1483.6,1186.4L1482.4,1186.2L1481.2,1185.8L1480,1184.9L1478.8,1184.1L1477.6,1183.8L1476.4,1182.8L1476.1,1183.1L1475.7,1182.1L1475.3,1182.5L1475.2,1182.3L1474.9,1182.1L1474.5,1181.3L1474.1,1180.6L1474,1180.6L1473.7,1180.3L1473.3,1179.6L1472.9,1179.2L1472.8,1179L1472.5,1178.7L1472.1,1178L1471.7,1177.1L1471.6,1176.8L1471.3,1176.2L1470.9,1175.3L1470.5,1174.3L1470.4,1174.1L1470.1,1173.1L1469.7,1171.9L1469.3,1170.4L1469.2,1170.1L1468.9,1168.9L1468.5,1167.1L1468.1,1165L1468,1164.5L1467.7,1162.7L1467.3,1160.1L1466.9,1157L1466.8,1156.2L1466.5,1153.6L1466.1,1149.7L1465.7,1145.3L1465.6,1144.1L1465.3,1140.4L1464.9,1135L1464.5,1129.3L1464.4,1127.8L1464.1,1123.5L1463.7,1118.2L1463.3,1113.7L1463.2,1112.8L1462.9,1110.7L1462.5,1109.6L1462.1,1110.7L1462,1111.3L1461.7,1113.7L1461.3,1118.2L1460.9,1123.5L1460.8,1125L1460.5,1129.3L1460.1,1135L1459.7,1140.4L1459.6,1141.6L1459.3,1145.3L1458.9,1149.7L1458.5,1153.6L1458.4,1154.5L1458.1,1157L1457.7,1160L1457.3,1162.7L1457.2,1163.3L1456.9,1165L1456.5,1167.1L1456.1,1168.9L1456,1169.3L1455.7,1170.4L1455.3,1171.9L1454.9,1173.2L1454.8,1173.5L1454.5,1174.3L1454.1,1175.4L1453.7,1176.4L1453.6,1176.6L1453.3,1177.3L1452.9,1177.9L1452.5,1178.4L1452.4,1178.7L1452.1,1179.3L1451.7,1179.8L1451.3,1180.5L1451.2,1180.5L1450.9,1180.9L1450.5,1181.1L1450.1,1181.6L1450,1181.9L1449.7,1182.4L1449.3,1183L1448.9,1183L1448.8,1183.1L1448.5,1183.1L1447.6,1184.3L1446.4,1184.3L1445.2,1185.2L1444,1185.7L1442.8,1185.5L1441.6,1186L1440.4,1186.3L1439.2,1186.6L1438,1187.4L1436.8,1187.1L1435.6,1187.4L1434.4,1187.7L1433.2,1188.1L1432,1188.4L1430.8,1188.2L1429.6,1189L1428.4,1188.4L1427.2,1188.4L1426,1188.5L1424.8,1188.9L1423.6,1188.8L1422.4,1188.6L1421.2,1188.9L1420,1189.6L1418.8,1188.2L1417.6,1189.3L1416.4,1189.6L1415.2,1189.1L1414,1189.2L1412.8,1188.8L1411.6,1189L1410.4,1189.2L1409.2,1189.5L1408,1189.1L1406.8,1188.9L1405.6,1189.5L1404.4,1189.8L1403.2,1189.5L1402,1189.4L1400.8,1188.8L1399.6,1189.1L1398.4,1189.3L1397.2,1189.3L1396,1189.6L1394.8,1188.4L1393.6,1189.3L1392.4,1189.3L1391.2,1189.7L1390,1189.3L1388.8,1189.8L1387.6,1189.6L1386.4,1189.1L1385.2,1189.2L1384,1189.3L1382.8,1188.9L1381.6,1188.5L1380.4,1189L1379.2,1189.4L1378,1189.3L1376.8,1188.8L1375.6,1189.7L1374.4,1189.9L1373.2,1189.2L1372,1189L1370.8,1189.5L1369.6,1190.2L1368.4,1189.7L1367.2,1190.3L1366,1189.8L1364.8,1189L1363.6,1189.8L1362.4,1189.4L1361.2,1189.7L1360,1189.7L1358.8,1189.8L1357.6,1189.5L1356.4,1189L1355.2,1189.9L1354,1189.2L1352.8,1189.6L1351.6,1189.6L1350.4,1189.5L1349.2,1189.4L1348,1189.3L1346.8,1189.4L1345.6,1189.1L1344.4,1189.6L1343.2,1189.9L1342,1189.5L1340.8,1190L1339.6,1189.7L1338.4,1189.7L1337.2,1189.3L1336,1189.7L1334.8,1189.6L1333.6,1189.7L1332.4,1189.6L1331.2,1189.5L1330,1189.3L1328.8,1188.6L1327.6,1189.4L1326.4,1190.1L1325.2,1188.7L1324,1188.8L1322.8,1189.8L1321.6,1189.4L1320.4,1189.3L1319.2,1189.8L1318,1189.9L1316.8,1189.5L1315.6,1189.5L1314.4,1189.8L1313.2,1189.6L1312,1190.4L1310.8,1189.1L1309.6,1189.7L1308.4,1189.5L1307.2,1189.5L1306,1189.7L1304.8,1189.7L1303.6,1190L1302.4,1190.5L1301.2,1189L1300,1190.2L1298.8,1189.6L1297.6,1189.9L1296.4,1189.9L1295.2,1189.1L1294,1189.3L1292.8,1190L1291.6,1189.1L1290.4,1188.9L1289.2,1189.4L1288,1189.8L1286.8,1189.3L1285.6,1190.4L1284.4,1189.9L1283.2,1190.2L1282,1190L1280.8,1189.7L1279.6,1189.3L1278.4,1189.3L1277.2,1189.9L1276,1189.9L1274.8,1189.2L1273.6,1189.7L1272.4,1189.9L1271.2,1190L1270,1189.2L1268.8,1188.7L1267.6,1189.5L1266.4,1190.1L1265.2,1189.7L1264,1189.9L1262.8,1189.7L1261.6,1189.3L1260.4,1189.7L1259.2,1190.3L1258,1188.9L1256.8,1189.6L1255.6,1189.3L1254.4,1189.7L1253.2,1189.4L1252,1190L1250.8,1189.6L1249.6,1189.5L1248.4,1188.9L1247.2,1189.4L1246,1189.6L1244.8,1189.7L1243.6,1189.5L1242.4,1190.1L1241.2,1189.4L1240,1190L1238.8,1189L1237.6,1190L1236.4,1190.4L1235.2,1190L1234,1190.3L1232.8,1190.1L1231.6,1189.5L1230.4,1189.7L1229.2,1189.9L1228,1189.9L1226.8,1189.5L1225.6,1190.4L1224.4,1189.7L1223.2,1190.3L1222,1189.7L1220.8,1189.6L1219.6,1189.6L1218.4,1189.4L1217.2,1189.8L1216,1189.9L1214.8,1189.2L1213.6,1188.9L1212.4,1189.5L1211.2,1188.8L1210,1189.8L1208.8,1189.5L1207.6,1189.5L1206.4,1189.9L1205.2,1189.4L1204,1189.8L1202.8,1189.2L1201.6,1189.9L1200.4,1189.6L1199.2,1189.7L1198,1189.7L1196.8,1189.7L1195.6,1189.2L1194.4,1189.4L1193.2,1189.6L1192,1189.6L1190.8,1189.2L1189.6,1189.7L1188.4,1189.2L1187.2,1189.4L1186,1189.6L1184.8,1190.2L1183.6,1190L1182.4,1190L1181.2,1189.5L1180,1189.9L1178.8,1189.7L1177.6,1189.2L1176.4,1190L1175.2,1189.4L1174,1190.5L1172.8,1189.2L1171.6,1189.6L1170.4,1189.4L1169.2,1189.4L1168,1189.6L1166.8,1189.3L1165.6,1189.3L1164.4,1189.4L1163.2,1190L1162,1190.4L1160.8,1189L1159.6,1188.9L1158.4,1189.7L1157.2,1189.3L1156,1189.9L1154.8,1188.7L1153.6,1189.4L1152.4,1189.2L1151.2,1189.3L1150,1189.5L1148.8,1189.2L1147.6,1189.8L1146.4,1189.8L1145.2,1189.6L1144,1189.6L1142.8,1189.8L1141.6,1189.8L1140.4,1189.6L1139.2,1189.5L1138,1189.9L1136.8,1189.3L1135.6,1189.5L1134.4,1189.8L1133.2,1189.2L1132,1189.3L1130.8,1189.7L1129.6,1190.1L1128.4,1189.6L1127.2,1189.1L1126,1190L1124.8,1189.9L1123.6,1189.2L1122.4,1190.1L1121.2,1189.2L1120,1189.7L1118.8,1189.9L1117.6,1189.8L1116.4,1189.2L1115.2,1189.6L1114,1189.6L1112.8,1189.3L1111.6,1189.3L1110.4,1190.4L1109.2,1189.8L1108,1189.4L1106.8,1189.6L1105.6,1189.3L1104.4,1189.5L1103.2,1189.9L1102,1189.5L1100.8,1189.1L1099.6,1189.6L1098.4,1189.2L1097.2,1190.1L1096,1189L1094.8,1189.6L1093.6,1189.6L1092.4,1189.3L1091.2,1189.7L1090,1188.8L1088.8,1188.7L1087.6,1189.2L1086.4,1190L1085.2,1189.5L1084,1190L1082.8,1189.4L1081.6,1189.7L1080.4,1190L1079.2,1189.3L1078,1189.6L1076.8,1190L1075.6,1189.7L1074.4,1189.6L1073.2,1189.7L1072,1189.5L1070.8,1189.8L1069.6,1189.3L1068.4,1189.4L1067.2,1189.6L1066,1190L1064.8,1188.9L1063.6,1189.5L1062.4,1189.5L1061.2,1189.3L1060,1188.8L1058.8,1189.3L1057.6,1190L1056.4,1189.3L1055.2,1189.5L1054,1189.1L1052.8,1189.6L1051.6,1189.6L1050.4,1189.7L1049.2,1190.3L1048,1189.8L1046.8,1189.1L1045.6,1189.5L1044.4,1189.6L1043.2,1189.8L1042,1189.3L1040.8,1188.7L1039.6,1189.7L1038.4,1189.8L1037.2,1189.2L1036,1189.8L1034.8,1189.2L1033.6,1189.5L1032.4,1189L1031.2,1189.9L1030,1190L1028.8,1189.8L1027.6,1189.4L1026.4,1189.9L1025.2,1189.6L1024,1189.4L1022.8,1189.3L1021.6,1189.8L1020.4,1190.3L1019.2,1189.7L1018,1189.5L1016.8,1189.8L1015.6,1190.1L1014.4,1190.4L1013.2,1189.8L1012,1190L1010.8,1190L1009.6,1189.6L1008.4,1189.8L1007.2,1190L1006,1189.3L1004.8,1189.9L1003.6,1189.8L1002.4,1190L1001.2,1188.6L1000,1189.2L998.8,1189.6L997.6,1189.9L996.4,1189.4L995.2,1189.8L994,1189.6L992.8,1189.9L991.6,1189.6L990.4,1189.7L989.2,1190.2L988,1190L986.8,1189.5L985.6,1189L984.4,1190.1L983.2,1189.5L982,1189.7L980.8,1189.6L979.6,1190.1L978.4,1189.4L977.2,1189.4L976,1189.4L974.8,1189.1L973.6,1189.6L972.4,1189.3L971.2,1189.5L970,1189.4L968.8,1189.6L967.6,1189.3L966.4,1190.3L965.2,1189.8L964,1189.4L962.8,1190L961.6,1189.9L960.4,1189.9L959.2,1190.2L958,1189.6L956.8,1189L955.6,1189.5L954.4,1189.4L953.2,1189.8L952,1190.1L950.8,1189.7L949.6,1190.4L948.4,1189.9L947.2,1189.4L946,1189.8L944.8,1189.7L943.6,1189.3L942.4,1190.2L941.2,1189L940,1189.3L938.8,1189.3L937.6,1189.8L936.4,1189.8L935.2,1190.3L934,1189L932.8,1189.8L931.6,1189.5L930.4,1189.8L929.2,1189L928,1189.5L926.8,1189.4L925.6,1189.2L924.4,1189.6L923.2,1190L922,1189.3L920.8,1189.3L919.6,1189.6L918.4,1189.6L917.2,1188.7L916,1189.7L914.8,1190L913.6,1189.6L912.4,1189.7L911.2,1189.5L910,1189.6L908.8,1189.6L907.6,1189.6L906.4,1189L905.2,1189.8L904,1189.3L902.8,1189L901.6,1188.8L900.4,1188.8L899.2,1189.5L898,1190.2L896.8,1189.7L895.6,1189.7L894.4,1189.5L893.2,1189.6L892,1189.5L890.8,1189.4L889.6,1190.1L888.4,1189.4L887.2,1190.3L886,1189.5L884.8,1189.7L883.6,1190L882.4,1189.8L881.2,1190.2L880,1189.5L878.8,1188.7L877.6,1189.1L876.4,1189.4L875.2,1189L874,1190.3L872.8,1189.6L871.6,1189.7L870.4,1189.6L869.2,1189.7L868,1189.3L866.8,1190.1L865.6,1189.6L864.4,1189.2L863.2,1189.3L862,1189.5L860.8,1189.2L859.6,1190.2L858.4,1189.2L857.2,1189.2L856,1188.8L854.8,1188.7L853.6,1189.6L852.4,1189.1L851.2,1189.2L850,1188.9L848.8,1189.5L847.6,1189.5L846.4,1188.6L845.2,1189.1L844,1189.4L842.8,1189L841.6,1188.4L840.4,1189.5L839.2,1189.7L838,1189.9L836.8,1189L835.6,1189.4L834.4,1189.4L833.2,1189.5L832,1189.3L830.8,1188.8L829.6,1189.6L828.4,1189.3L827.2,1189.5L826,1189L824.8,1189.3L823.6,1188.9L822.4,1189L821.2,1189.2L820,1189.4L818.8,1188.8L817.6,1189.6L816.4,1189.6L815.2,1189.3L814,1188.8L812.8,1188.9L811.6,1189.3L810.4,1188.9L809.2,1188.2L808,1188.7L806.8,1188.7L805.6,1187.9L804.4,1187.8L803.2,1188.1L802,1188.7L800.8,1188.7L799.6,1188L798.4,1188.4L797.2,1188.2L796,1188.5L794.8,1187.9L793.6,1187.7L792.4,1188L791.2,1187.6L790,1187.8L788.8,1187.6L787.6,1186.7L786.4,1186.9L785.2,1186.2L784,1186.4L782.8,1185.7L781.6,1185.2L780.4,1184.5L779.2,1184.8L778,1183.8L776.8,1182.5L776,1182.2L775.6,1181.9L775.2,1180.8L774.8,1180.5L774.4,1180.2L774,1179.6L773.6,1179.1L773.2,1178.1L772.8,1177.6L772.4,1176.7L772,1176L771.6,1175.1L771.2,1174L770.8,1172.8L770.4,1171.6L770,1170.2L769.6,1168.6L769.2,1166.8L768.8,1164.8L768.4,1162.5L768,1159.9L767.6,1156.9L767.2,1153.4L766.8,1149.3L766.4,1144.6L766,1139.1L765.6,1132.7L765.2,1125.3L764.8,1116.8L764.4,1107.4L764,1097.3L763.6,1087.4L763.2,1078.7L762.8,1072.7L762.4,1070.5L762,1072.7L761.6,1078.7L761.2,1087.4L760.8,1097.3L760.4,1107.4L760,1116.8L759.6,1125.3L759.2,1132.7L758.8,1139.1L758.4,1144.6L758,1149.3L757.6,1153.4L757.2,1156.9L756.8,1159.9L756.4,1162.5L756,1164.8L755.6,1166.8L755.2,1168.6L754.8,1170.2L754.4,1171.6L754,1173L753.6,1174L753.2,1175.1L752.8,1175.8L752.4,1176.6L752,1177.6L751.6,1178.4L751.2,1178.7L750.8,1179.7L750.4,1180.3L750,1180.9L749.6,1181L749.2,1182.1L748.8,1181.9L748.4,1182L748,1183.1L746.8,1183.4L745.6,1183.9L744.4,1184.4L743.2,1185.2L742,1186.4L740.8,1186.1L739.6,1186.3L738.4,1186.5L737.2,1187.1L736,1187.5L734.8,1187.3L733.6,1187.5L732.4,1187.6L731.2,1187.7L730,1188.6L728.8,1187.9L727.6,1188.3L726.4,1188.3L725.2,1188.3L724,1188.3L722.8,1188.9L721.6,1188.5L720.4,1188.8L719.2,1188.7L718,1189L716.8,1188.8L715.6,1188.9L714.4,1188.8L713.2,1188.7L712,1188.8L710.8,1189.6L709.6,1189L708.4,1189.1L707.2,1189.4L706,1188.9L704.8,1189.5L703.6,1189L702.4,1188.9L701.2,1189.2L700,1189.1L698.8,1189.4L697.6,1189.3L696.4,1189.1L695.2,1189L694,1189.1L692.8,1188.9L691.6,1189.5L690.4,1189.1L689.2,1189.4L688,1189.3L686.8,1189.1L685.6,1189.4L684.4,1189.2L683.2,1188.4L682,1188.6L680.8,1189.1L679.6,1189.2L678.4,1189.6L677.2,1189.2L676,1189.2L674.8,1189.2L673.6,1189.3L672.4,1189.9L671.2,1189.5L670,1189.3L668.8,1188.8L667.6,1188.6L666.4,1189.5L665.2,1189.7L664,1189.2L662.8,1189.5L661.6,1188.7L660.4,1189.5L659.2,1188.9L658,1190.2L656.8,1188.6L655.6,1189.2L654.4,1189.6L653.2,1189.4L652,1188.8L650.8,1188.8L649.6,1189.6L648.4,1189.4L647.2,1189.6L646,1189.4L644.8,1188.3L643.6,1189L642.4,1188.9L641.2,1189L640,1188.9L638.8,1189.1L637.6,1188.2L636.4,1189.6L635.2,1189.4L634,1189.3L632.8,1188.7L631.6,1189.1L630.4,1188.6L629.2,1189.1L628,1189.1L626.8,1188.6L625.6,1189.2L624.4,1189L623.2,1189.1L622,1189.2L620.8,1188.2L619.6,1188.6L618.4,1189.2L617.2,1188.9L616,1188.2L614.8,1189.1L613.6,1188.4L612.4,1188.7L611.2,1187.9L610,1188.2L608.8,1188.2L607.6,1188.5L606.4,1188.1L605.2,1187.7L604,1187.9L602.8,1187.6L601.6,1188L600.4,1187.7L599.2,1187.3L598,1187.6L596.8,1186.6L595.6,1187.2L594.4,1186.5L593.2,1187L592,1186.6L590.8,1186.1L589.6,1186.3L588.4,1184.9L587.2,1184.7L586,1184.3L584.8,1183L583.6,1180.7L582.4,1177.6L581.2,1173L580,1170.5L578.8,1173.5L577.6,1176.9L576.4,1179.1L575.2,1179.3L574,1179.1L572.8,1179.6L571.6,1178.1L570.4,1177.6L569.2,1176.8L568,1174.5L566.8,1172.8L565.7,1169.9L565.6,1170.1L565.3,1168.7L564.9,1168.6L564.5,1167.2L564.4,1167L564.1,1165.7L563.7,1164.6L563.3,1163L563.2,1163.2L562.9,1161.6L562.5,1159.9L562.1,1158.3L562,1157.8L561.7,1156.1L561.3,1153.8L560.9,1151.5L560.8,1150.7L560.5,1148.7L560.1,1145.7L559.7,1142.4L559.6,1141.4L559.3,1138.5L558.9,1134.3L558.5,1129.5L558.4,1128.3L558.1,1124.2L557.7,1118L557.3,1110.9L557.2,1109L556.9,1102.8L556.5,1093.5L556.1,1082.7L556,1079.7L555.7,1070.2L555.3,1055.9L554.9,1039.6L554.8,1035.2L554.5,1021.2L554.1,1001.3L553.7,980.5L553.6,975.4L553.3,960.5L552.9,943.4L552.5,931.7L552.4,929.9L552.1,927.5L551.7,931.7L551.3,943.4L551.2,947.2L550.9,960.5L550.5,980.5L550.1,1001.3L550,1006.4L549.7,1021.3L549.3,1039.6L548.9,1056L548.8,1059.7L548.5,1070.3L548.1,1082.8L547.7,1093.6L547.6,1096L547.3,1102.9L546.9,1111L546.5,1118.1L546.4,1119.7L546.1,1124.2L545.7,1129.7L545.3,1134.5L545.2,1135.6L544.9,1138.7L544.5,1142.4L544.1,1145.8L544,1146.7L543.7,1148.9L543.3,1151.6L542.9,1153.9L542.8,1154.6L542.5,1156.3L542.1,1158.2L541.7,1160.1L541.6,1160.8L541.3,1161.7L540.9,1163.7L540.5,1165.2L540.4,1165.2L540.1,1166.5L539.7,1167.5L539.3,1168.7L539.2,1168.4L538.9,1169.6L538.5,1170.9L538.1,1171.6L538,1171.7L536.8,1174.3L535.6,1176.1L534.4,1177L533.2,1178.7L532,1180.4L530.8,1180.7L529.6,1182.2L528.4,1182.7L527.2,1183.8L526,1183.7L524.8,1184.3L523.6,1184.7L522.4,1185.2L521.2,1185L520,1185.7L518.8,1186.3L517.6,1186.3L516.4,1186.4L515.2,1186.4L514,1186.2L512.8,1187.2L511.6,1187.3L510.4,1187.2L509.2,1187.1L508,1186.9L506.8,1187.6L505.6,1187.8L504.4,1187.9L503.2,1187.8L502,1187.9L500.8,1187.8L499.6,1187.7L498.4,1187.8L497.2,1187.6L496,1189L494.8,1188.5L493.6,1188.6L492.4,1187.9L491.2,1188.5L490,1188.4L488.8,1188.1L487.6,1188.7L486.4,1188.7L485.2,1189.1L484,1188.7L482.8,1188.8L481.6,1188.7L480.4,1189.8L479.2,1188.7L478,1188.6L476.8,1189.1L475.6,1188.3L474.4,1188.3L473.2,1189.4L472,1189L470.8,1189L469.6,1189.5L468.4,1188.6L467.2,1189.3L466,1188.9L464.8,1189.5L463.6,1189L462.4,1188.9L461.2,1188.8L460,1189.1L458.8,1189.2L457.6,1189.1L456.4,1189.1L455.2,1188.7L454,1189.5L452.8,1189.6L451.6,1189.2L450.4,1188.7L449.2,1189.4L448,1190.5L446.8,1190L445.6,1189.5L444.4,1190.1L443.2,1189.3L442,1188.8L440.8,1189.4L439.6,1189.3L438.4,1189.3L437.2,1189L436,1189.5L434.8,1189.9L433.6,1189.3L432.4,1189.4L431.2,1189L430,1189.9L428.8,1188.6L427.6,1189.2L426.4,1189.2L425.2,1189.7L424,1189.3L422.8,1189.7L421.6,1189.8L420.4,1189.6L419.2,1189.8L418,1189.2L416.8,1189.4L415.6,1189.2L414.4,1190L413.2,1189.8L412,1189.5L410.8,1190L409.6,1189.8L408.4,1189.4L407.2,1189.5L406,1189.4L404.8,1189.3L403.6,1190.2L402.4,1190.1L401.2,1189.1L400,1189.5L398.8,1189.8L397.6,1189.1L396.4,1190.1L395.2,1189.9L394,1188.9L392.8,1188.8L391.6,1189.1L390.4,1189.3L389.2,1189.1L388,1190L386.8,1188.9L385.6,1189.7L384.4,1189.1L383.2,1189.2L382,1189.2L380.8,1189.3L379.6,1189.5L378.4,1189.1L377.2,1189.1L376,1190L374.8,1189.7L373.6,1189.4L372.4,1189.2L371.2,1189.1L370,1189.5L368.8,1189.6L367.6,1189.6L366.4,1189.3L365.2,1189.7L364,1189.7L362.8,1189.5L361.6,1189.4L360.4,1189.7L359.2,1189L358,1190L356.8,1189.9L355.6,1189.6L354.4,1189.7L353.2,1189.4L352,1189.8L350.8,1189.5L349.6,1189.5L348.4,1189.3L347.2,1190.2L346,1189.8L344.8,1189.6L343.6,1190.1L342.4,1189L341.2,1189.4L340,1189.9L338.8,1189.8L337.6,1188.9L336.4,1189.9L335.2,1190.1L334,1189.7L332.8,1189.7L331.6,1189.5L330.4,1189.8L329.2,1189.7L328,1189.8L326.8,1189.5L325.6,1189.2L324.4,1189.6L323.2,1189.1L322,1190L320.8,1189.8L319.6,1189.9L318.4,1189.6L317.2,1189.8L316,1189.1L314.8,1189.9L313.6,1189.6L312.4,1189.7L311.2,1189.6L310,1189L308.8,1189.1L307.6,1190.2L306.4,1189.5L305.2,1189.3L304,1189.9L302.8,1189.3L301.6,1190.2L300.4,1189.3L299.2,1190.4L298,1189.4L296.8,1190L295.6,1190.3L294.4,1189.6L293.2,1189.8L292,1189.5L290.8,1189.5L289.6,1189.2L288.4,1189.9L287.2,1189.5L286,1190L284.8,1189.6L283.6,1189.6L282.4,1190L281.2,1189.4L280,1189.3L278.8,1189.7L277.6,1189.7L276.4,1189.4L275.2,1189.5L274,1189.8L272.8,1189.9L271.6,1188.7L270.4,1189.5L269.2,1189.9L268,1189.7L266.8,1190.4L265.6,1190.2L264.4,1189.5L263.2,1190.1L262,1189.4L260.8,1189.6L259.6,1189.2L258.4,1189.7L257.2,1189.3L256,1189.6L254.8,1189.3L253.6,1189.2L252.4,1189.8L251.2,1189.6L250,1190L248.8,1189.7L247.6,1189.6L246.4,1189.5L245.2,1189.7L244,1189.8L242.8,1189L241.6,1189.7L240.4,1189.7L239.2,1189.7L238,1189.3L236.8,1189.1L235.6,1189.6L234.4,1189.8L233.2,1190.4L232,1189.4L230.8,1189.9L229.6,1190.1L228.4,1189.2L227.2,1189.3L226,1189.7L224.8,1189.8L223.6,1190.1L222.4,1189.6L221.2,1189.8L220,1189.5L218.8,1189.9L217.6,1189.1L216.4,1189.4L215.2,1189.6L214,1189.3L212.8,1189.7L211.6,1189.4L210.4,1189.6L209.2,1190.1L208,1189.3L206.8,1188.8L205.6,1189.9L204.4,1189.6L203.2,1189.3L202,1190.2L200.8,1189.1L199.6,1189.6L198.4,1190.1L197.2,1189.6L196,1189.6L194.8,1189.7L193.6,1189.8L192.4,1189.3L191.2,1189.6L190,1189.9L188.8,1189.2L187.6,1189.9L186.4,1190L185.2,1189.8L184,1190.2L182.8,1189.6L181.6,1189.6L180.4,1189.8L179.2,1190.6L178,1189.7L176.8,1189.6L175.6,1189.5L174.4,1190.1L173.2,1189.7L172,1190.3L170.8,1190.1L169.6,1190.3L168.4,1189.8L167.2,1190.1L166,1189.4L164.8,1189.6L163.6,1190L162.4,1189.6L161.2,1189.5L160,1189.4L158.8,1189.9L157.6,1189.8L156.4,1189.1L155.2,1189.6L154,1190L152.8,1189.8L151.6,1190L150.4,1189.7L149.2,1189.5L148,1189.6Z" fill="#555354" stroke="#555354" stroke-width="8.0" stroke-linejoin="round"/>
<path d="M548.6,926.3H555.6V1163.6L552.1,1151.6L548.6,1163.6Z" fill="#555354"/>
<path d="M758.9,1069.3H765.9V1174.1L762.4,1162.1L758.9,1174.1Z" fill="#555354"/>
<path d="M1459.0,1108.3H1466.0V1180.3L1462.5,1168.3L1459.0,1180.3Z" fill="#555354"/>
<path d="M148,1046.2L149.2,1046.3L150.4,1046.1L151.6,1046.3L152.8,1045.5L154,1046.5L155.2,1045.8L156.4,1046.6L157.6,1045.9L158.8,1046.2L160,1047.1L161.2,1046.1L162.4,1046.5L163.6,1046.3L164.8,1045.5L166,1046.6L167.2,1046.5L168.4,1045.6L169.6,1046.1L170.8,1045.5L172,1046L173.2,1046.5L174.4,1046.1L175.6,1045.6L176.8,1045.8L178,1046.1L179.2,1046.1L180.4,1046.2L181.6,1046.3L182.8,1045.4L184,1046.1L185.2,1046.6L186.4,1046.3L187.6,1045.8L188.8,1045.9L190,1046.2L191.2,1046.4L192.4,1046.1L193.6,1046.8L194.8,1046.6L196,1045.8L197.2,1046.3L198.4,1046L199.6,1045.6L200.8,1045.9L202,1046.1L203.2,1045.3L204.4,1045.9L205.6,1046.3L206.8,1045.8L208,1046L209.2,1046.4L210.4,1046.1L211.6,1046.2L212.8,1046.9L214,1046.2L215.2,1046.2L216.4,1046.3L217.6,1046.8L218.8,1046.3L220,1046.1L221.2,1046.1L222.4,1046.6L223.6,1045.9L224.8,1046.6L226,1046.2L227.2,1045.6L228.4,1046.4L229.6,1046.3L230.8,1045.7L232,1046.3L233.2,1046.2L234.4,1046L235.6,1045.7L236.8,1047L238,1046.4L239.2,1046.5L240.4,1046.5L241.6,1046.4L242.8,1046.4L244,1046L245.2,1046.5L246.4,1046.1L247.6,1045.9L248.8,1046.4L250,1046.1L251.2,1045.5L252.4,1046L253.6,1046.4L254.8,1046.1L256,1046.5L257.2,1046L258.4,1045.8L259.6,1046.4L260.8,1046.2L262,1045.7L263.2,1046.3L264.4,1046L265.6,1046.5L266.8,1046.4L268,1046.3L269.2,1045.3L270.4,1046.3L271.6,1046.3L272.8,1046.3L274,1046.2L275.2,1045.8L276.4,1046L277.6,1045.3L278.8,1046L280,1045.5L281.2,1046L282.4,1045.9L283.6,1046.6L284.8,1046.1L286,1046.1L287.2,1046.2L288.4,1046.9L289.6,1045.8L290.8,1046.2L292,1046.3L293.2,1046.2L294.4,1046.2L295.6,1045.9L296.8,1046.6L298,1046.4L299.2,1046L300.4,1046L301.6,1046.2L302.8,1046.3L304,1046.4L305.2,1046.1L306.4,1045.6L307.6,1046.5L308.8,1045.5L310,1045.8L311.2,1046.3L312.4,1045.8L313.6,1046.6L314.8,1046.7L316,1046.6L317.2,1046.2L318.4,1046.2L319.6,1046.3L320.8,1046L322,1046.9L323.2,1045.9L324.4,1046.6L325.6,1046.3L326.8,1046.2L328,1046.5L329.2,1046.6L330.4,1046.5L331.6,1046.1L332.8,1045.8L334,1045.9L335.2,1046.4L336.4,1046.4L337.6,1046.4L338.8,1045.9L340,1046.8L341.2,1045.6L342.4,1046.2L343.6,1046.4L344.8,1045.9L346,1045.7L347.2,1045.9L348.4,1045.7L349.6,1046L350.8,1045.6L352,1045.6L353.2,1046.1L354.4,1045.5L355.6,1046L356.8,1046L358,1046.4L359.2,1046.2L360.4,1045.7L361.6,1046.5L362.8,1045.8L364,1045.9L365.2,1045.9L366.4,1046.9L367.6,1046.1L368.8,1045.8L370,1046.3L371.2,1046L372.4,1046.9L373.6,1045.8L374.8,1046.3L376,1045.7L377.2,1046.7L378.4,1045.8L379.6,1046.1L380.8,1045.7L382,1046.4L383.2,1046.3L384.4,1045.2L385.6,1046.3L386.8,1046.3L388,1046.1L389.2,1046.4L390.4,1045.6L391.6,1045.3L392.8,1046.3L394,1046.7L395.2,1045.6L396.4,1045.6L397.6,1045.7L398.8,1045.6L400,1046.3L401.2,1046L402.4,1046.5L403.6,1046.5L404.8,1045.6L406,1046.2L407.2,1045.1L408.4,1045.9L409.6,1046.2L410.8,1045.7L412,1045.3L413.2,1045.8L414.4,1046.4L415.6,1045.8L416.8,1045.4L418,1046.1L419.2,1046.2L420.4,1045.6L421.6,1045.9L422.8,1046.3L424,1046.1L425.2,1046.2L426.4,1045.8L427.6,1045.9L428.8,1045.5L430,1045.6L431.2,1046.5L432.4,1045.7L433.6,1045.5L434.8,1045.7L436,1045.5L437.2,1046.1L438.4,1046.2L439.6,1045.5L440.8,1046.3L442,1046.7L443.2,1045.5L444.4,1046.1L445.6,1045.9L446.8,1046.4L448,1046.3L449.2,1046.2L450.4,1045.9L451.6,1045.7L452.8,1046.7L454,1045.5L455.2,1046.2L456.4,1046.2L457.6,1045.5L458.8,1045.8L460,1046.3L461.2,1045L462.4,1046L463.6,1045.6L464.8,1045.6L466,1045.1L467.2,1045.8L468.4,1045.3L469.6,1045.9L470.8,1045.2L472,1045.9L473.2,1045.7L474.4,1044.8L475.6,1045.4L476.8,1045.5L478,1044.7L479.2,1045.4L480.4,1045.8L481.6,1045.2L482.8,1045.9L484,1045L485.2,1044.9L486.4,1045.6L487.6,1045.6L488.8,1045.2L490,1045.3L491.2,1045.6L492.4,1045L493.6,1045.9L494.8,1045.3L496,1045.2L497.2,1045.1L498.4,1044.9L499.6,1045.4L500.8,1044.7L502,1044.9L503.2,1045L504.4,1045.2L505.6,1045.1L506.8,1044.4L508,1044.8L509.2,1044.4L510.4,1043.9L511.6,1043.8L512.8,1043.5L514,1044.1L515.2,1044.2L516.4,1043.3L517.6,1043.4L518.8,1042.9L520,1043.1L521.2,1042.5L522.4,1042.4L523.6,1042.1L524.8,1041.9L526,1041.6L527.2,1041.3L528.4,1040.9L529.6,1040.1L530.8,1040.1L532,1038.6L533.2,1038.5L534.4,1037.2L535.6,1036.6L536.8,1035.4L538,1033.1L539.2,1032.1L539.6,1031.6L540,1030.7L540.4,1029.8L540.8,1028.4L541.2,1027.9L541.6,1026.7L542,1026L542.4,1024.6L542.8,1023.3L543.2,1021.7L543.6,1020.5L544,1018.6L544.4,1016.8L544.8,1014.9L545.2,1012.5L545.6,1010L546,1007.3L546.4,1004.1L546.8,1000.5L547.2,996.6L547.6,992L548,986.8L548.4,980.9L548.8,974.1L549.2,966.2L549.6,957.1L550,946.5L550.4,934.2L550.8,920.1L551.2,904.1L551.6,886.5L552,868L552.4,849.9L552.8,834.3L553.2,823.6L553.6,819.7L554,823.6L554.4,834.3L554.8,849.8L555.2,867.9L555.6,886.4L556,903.9L556.4,919.9L556.8,934L557.2,946.3L557.6,956.8L558,966L558.4,973.8L558.8,980.6L559.2,986.5L559.6,991.6L560,996.1L560.4,1000.1L560.8,1003.5L561.2,1006.7L561.6,1009.4L562,1012L562.4,1014L562.8,1016.2L563.2,1018L563.6,1019.5L564,1021L564.4,1022.6L564.8,1023.8L565.2,1025.1L565.6,1025.9L566,1026.9L566.4,1027.8L566.8,1028.7L567.2,1029.3L568,1030.7L569.2,1031.8L570.4,1032.6L571.6,1034.6L572.8,1034.3L574,1034.6L575.2,1034.1L576.4,1034.2L577.6,1033.5L578.8,1033.6L580,1033.2L581.2,1034.3L582.4,1035.6L583.6,1036.7L584.8,1038.2L586,1039.8L587.2,1039.8L588.4,1040.7L589.6,1041.5L590.8,1041.5L592,1041.9L593.2,1043.1L594.4,1043.3L595.6,1042.6L596.8,1042.9L598,1043.9L599.2,1044.3L600.4,1044.2L601.6,1044.3L602.8,1044.8L604,1044.3L605.2,1044.9L606.4,1045L607.6,1044.3L608.8,1044.9L610,1044.8L611.2,1044.6L612.4,1044.6L613.6,1045.1L614.8,1045L616,1045.3L617.2,1044.4L618.4,1044.9L619.6,1045.6L620.8,1045.2L622,1044.9L623.2,1045.1L624.4,1044.6L625.6,1044.8L626.8,1045.5L628,1045.4L629.2,1045.9L630.4,1045.3L631.6,1045.4L632.8,1044.4L634,1045.4L635.2,1046.3L636.4,1045.8L637.6,1045.5L638.8,1046L640,1045.9L641.2,1045.7L642.4,1045.5L643.6,1045.7L644.8,1045.9L646,1045.3L647.2,1045.8L648.4,1045.8L649.6,1046.2L650.8,1046L652,1045.4L653.2,1046.3L654.4,1045.7L655.6,1045.4L656.8,1045.8L658,1045.6L659.2,1046.1L660.4,1045.2L661.6,1045.3L662.8,1045.6L664,1046.4L665.2,1046.1L666.4,1045.4L667.6,1045.1L668.8,1045.6L670,1045.3L671.2,1046L672.4,1045.8L673.6,1045.8L674.8,1045.6L676,1046.3L677.2,1045.4L678.4,1045.3L679.6,1046.2L680.8,1046.3L682,1045.6L683.2,1046L684.4,1046.7L685.6,1045.5L686.8,1045.7L688,1046L689.2,1045L690.4,1045.7L691.6,1046.1L692.8,1045.7L694,1046.2L695.2,1046L696.4,1045.6L697.6,1046L698.8,1045.9L700,1045.1L701.2,1045.4L702.4,1045.4L703.6,1045.5L704.8,1045.5L706,1045.1L707.2,1045.7L708.4,1045L709.6,1046L710.8,1045.8L712,1046.2L713.2,1045.8L714.4,1045.4L715.6,1045L716.8,1045.8L718,1045.6L719.2,1045.7L720.4,1045.8L721.6,1045.9L722.8,1045.4L724,1046.1L725.2,1045.3L726.4,1045.3L727.6,1045.5L728.8,1045.6L730,1045.7L731.2,1044.4L732.4,1045.6L733.6,1044.4L734.8,1044.7L736,1044.9L737.2,1045.1L738.4,1044.2L739.6,1043.8L740.8,1044.6L742,1044.2L743.2,1043.5L744.4,1043.5L745.6,1042.6L746.8,1043.1L748,1042.3L748.7,1042.5L749.1,1041.4L749.2,1042.1L749.5,1042.3L749.9,1041.5L750.3,1041.3L750.4,1040.8L750.7,1041L751.1,1040.7L751.5,1040.3L751.6,1040L751.9,1040L752.3,1039.5L752.7,1039.2L752.8,1039.2L753.1,1038.8L753.5,1038.3L753.9,1037.9L754,1037.6L754.3,1037.3L754.7,1036.5L755.1,1035.8L755.2,1035.6L755.5,1035L755.9,1034.1L756.3,1033L756.4,1032.7L756.7,1031.8L757.1,1030.5L757.5,1029L757.6,1028.6L757.9,1027.2L758.3,1025.2L758.7,1022.8L758.8,1022.2L759.1,1020.1L759.5,1017L759.9,1013.4L760,1012.5L760.3,1009.5L760.7,1005.1L761.1,1000.6L761.2,999.5L761.5,996.2L761.9,992.5L762.3,990L762.4,989.6L762.7,989.1L763.1,990L763.5,992.5L763.6,993.4L763.9,996.2L764.3,1000.6L764.7,1005.1L764.8,1006.2L765.1,1009.5L765.5,1013.4L765.9,1017L766,1017.8L766.3,1020.1L766.7,1022.8L767.1,1025.2L767.2,1025.7L767.5,1027.2L767.9,1029L768.3,1030.5L768.4,1030.9L768.7,1031.8L769.1,1033L769.5,1034.1L769.6,1034.3L769.9,1035L770.3,1035.8L770.7,1036.6L770.8,1036.8L771.1,1037.2L771.5,1037.9L771.9,1038.3L772,1038.6L772.3,1038.7L772.7,1039.3L773.1,1039.7L773.2,1039.9L773.5,1040.2L773.9,1040.6L774.3,1040.8L774.4,1040.8L774.7,1041L775.1,1041.6L775.5,1041.6L775.6,1041.8L775.9,1041.7L776.3,1041.5L776.8,1042L778,1042.8L779.2,1043.7L780.4,1044L781.6,1044.4L782.8,1043.7L784,1044.5L785.2,1044.4L786.4,1044.8L787.6,1044.7L788.8,1044.3L790,1045.2L791.2,1045.1L792.4,1045.4L793.6,1044.8L794.8,1045.6L796,1045.7L797.2,1045.9L798.4,1045.9L799.6,1045.2L800.8,1044.5L802,1045.9L803.2,1045.2L804.4,1045.5L805.6,1046L806.8,1045.7L808,1045.7L809.2,1045.9L810.4,1045L811.6,1046.4L812.8,1045.6L814,1045.6L815.2,1046L816.4,1045.7L817.6,1045.5L818.8,1045.7L820,1045.7L821.2,1045.6L822.4,1046.6L823.6,1045.3L824.8,1045L826,1045.5L827.2,1045.5L828.4,1046.4L829.6,1045.9L830.8,1046.2L832,1046.1L833.2,1045.5L834.4,1046.2L835.6,1046L836.8,1046.7L838,1046L839.2,1045.9L840.4,1046.2L841.6,1046.2L842.8,1045.2L844,1046.4L845.2,1046.4L846.4,1046.3L847.6,1045.5L848.8,1045.2L850,1045.9L851.2,1046.3L852.4,1046.2L853.6,1045.6L854.8,1046.3L856,1045.4L857.2,1045.5L858.4,1046L859.6,1045.8L860.8,1045.7L862,1045.4L863.2,1046.4L864.4,1045.6L865.6,1046.2L866.8,1046.3L868,1046L869.2,1046.1L870.4,1046.4L871.6,1046.6L872.8,1046.4L874,1045.5L875.2,1045.3L876.4,1045.8L877.6,1045.6L878.8,1046.2L880,1046.1L881.2,1045.9L882.4,1046.5L883.6,1046.4L884.8,1046L886,1046.2L887.2,1046.5L888.4,1045.9L889.6,1046.2L890.8,1045.7L892,1046.1L893.2,1046.2L894.4,1046L895.6,1046.1L896.8,1046.3L898,1046.2L899.2,1045.8L900.4,1045.8L901.6,1045.6L902.8,1046.7L904,1046.2L905.2,1046.2L906.4,1046L907.6,1046.2L908.8,1046.3L910,1045.8L911.2,1046L912.4,1046.5L913.6,1045.6L914.8,1045.7L916,1046.3L917.2,1045.8L918.4,1046.4L919.6,1045.7L920.8,1046.2L922,1046.4L923.2,1046.2L924.4,1046.4L925.6,1046L926.8,1046L928,1046.1L929.2,1046.3L930.4,1047.5L931.6,1046.1L932.8,1046.8L934,1046L935.2,1045.7L936.4,1046L937.6,1046.2L938.8,1046.2L940,1046.1L941.2,1046.3L942.4,1046.3L943.6,1046.4L944.8,1045.6L946,1046.1L947.2,1045.7L948.4,1046.2L949.6,1046.1L950.8,1046.2L952,1045.9L953.2,1045.8L954.4,1046L955.6,1046.4L956.8,1046.4L958,1045.5L959.2,1046.2L960.4,1046.2L961.6,1045.5L962.8,1045.7L964,1045.9L965.2,1046.3L966.4,1045.2L967.6,1046L968.8,1045.9L970,1046.2L971.2,1046.6L972.4,1046.6L973.6,1045.9L974.8,1046L976,1046.2L977.2,1046.5L978.4,1046.7L979.6,1046.2L980.8,1046.7L982,1045.8L983.2,1045.7L984.4,1045L985.6,1045.8L986.8,1046.3L988,1046.4L989.2,1047.4L990.4,1046.3L991.6,1046.2L992.8,1045.7L994,1045.9L995.2,1045.9L996.4,1046L997.6,1045.9L998.8,1045.6L1000,1046.5L1001.2,1046.3L1002.4,1046.6L1003.6,1045.5L1004.8,1045.6L1006,1045.8L1007.2,1046.6L1008.4,1046L1009.6,1046.2L1010.8,1046.1L1012,1046.2L1013.2,1045.9L1014.4,1046.3L1015.6,1045.8L1016.8,1046L1018,1046.2L1019.2,1046.2L1020.4,1046.3L1021.6,1045.8L1022.8,1046.2L1024,1046L1025.2,1046.3L1026.4,1046.7L1027.6,1045.8L1028.8,1046.5L1030,1045.9L1031.2,1046L1032.4,1046.7L1033.6,1046.5L1034.8,1046.3L1036,1046.4L1037.2,1046.6L1038.4,1045.8L1039.6,1046.2L1040.8,1046L1042,1046.3L1043.2,1046L1044.4,1046.4L1045.6,1046.1L1046.8,1045.9L1048,1046.1L1049.2,1046.3L1050.4,1046.5L1051.6,1046.1L1052.8,1046L1054,1046.2L1055.2,1046.4L1056.4,1045.9L1057.6,1045.2L1058.8,1046.2L1060,1046L1061.2,1046L1062.4,1047.1L1063.6,1046.1L1064.8,1046.4L1066,1045.6L1067.2,1046.2L1068.4,1046.4L1069.6,1046.2L1070.8,1046.1L1072,1046.3L1073.2,1046.1L1074.4,1046.6L1075.6,1046.2L1076.8,1045.8L1078,1045.4L1079.2,1045.8L1080.4,1046L1081.6,1045.7L1082.8,1045.7L1084,1045.5L1085.2,1045.7L1086.4,1046.2L1087.6,1046L1088.8,1046L1090,1046L1091.2,1046L1092.4,1046.4L1093.6,1046.9L1094.8,1046.4L1096,1046.9L1097.2,1046.1L1098.4,1046.1L1099.6,1046.8L1100.8,1045.9L1102,1045.8L1103.2,1046.1L1104.4,1045.5L1105.6,1045.4L1106.8,1046.6L1108,1045.7L1109.2,1046L1110.4,1046L1111.6,1045.8L1112.8,1046.4L1114,1046.3L1115.2,1046.4L1116.4,1046.4L1117.6,1046.2L1118.8,1046.7L1120,1046.5L1121.2,1045.9L1122.4,1046.1L1123.6,1046L1124.8,1046.8L1126,1046.4L1127.2,1046.3L1128.4,1046.1L1129.6,1046.3L1130.8,1045.8L1132,1046.1L1133.2,1046.1L1134.4,1046.1L1135.6,1045.8L1136.8,1046.3L1138,1045.7L1139.2,1045.9L1140.4,1046.1L1141.6,1046.1L1142.8,1045.9L1144,1045.7L1145.2,1045.8L1146.4,1046L1147.6,1045.8L1148.8,1046.1L1150,1045.6L1151.2,1046.1L1152.4,1046.9L1153.6,1045.6L1154.8,1046.1L1156,1046.6L1157.2,1046.2L1158.4,1046.5L1159.6,1045.3L1160.8,1045.9L1162,1046.7L1163.2,1045.9L1164.4,1046.3L1165.6,1045.4L1166.8,1046.5L1168,1047L1169.2,1046.1L1170.4,1046.2L1171.6,1046.3L1172.8,1046.9L1174,1046L1175.2,1045.5L1176.4,1046.8L1177.6,1045.7L1178.8,1046.3L1180,1045.2L1181.2,1046L1182.4,1046.2L1183.6,1045.7L1184.8,1045.9L1186,1046.3L1187.2,1045.8L1188.4,1046.3L1189.6,1046.8L1190.8,1045.3L1192,1046.2L1193.2,1046.3L1194.4,1046L1195.6,1046.7L1196.8,1046.6L1198,1046.3L1199.2,1046.3L1200.4,1046.1L1201.6,1045.7L1202.8,1046.3L1204,1045.9L1205.2,1045.9L1206.4,1046.5L1207.6,1046L1208.8,1046.5L1210,1045.7L1211.2,1045.9L1212.4,1046.1L1213.6,1046.6L1214.8,1046.1L1216,1046.4L1217.2,1045.8L1218.4,1046.2L1219.6,1046.4L1220.8,1045.8L1222,1045.8L1223.2,1046.3L1224.4,1045.7L1225.6,1046.2L1226.8,1046.2L1228,1046.1L1229.2,1046.4L1230.4,1046.3L1231.6,1046.2L1232.8,1045.5L1234,1045.5L1235.2,1046.2L1236.4,1045.5L1237.6,1046.1L1238.8,1046L1240,1045.8L1241.2,1046L1242.4,1045.2L1243.6,1046L1244.8,1046.6L1246,1045.6L1247.2,1046.3L1248.4,1046.2L1249.6,1047.2L1250.8,1045.7L1252,1045.8L1253.2,1045.8L1254.4,1045.7L1255.6,1045.5L1256.8,1046.1L1258,1045.7L1259.2,1046.4L1260.4,1046.2L1261.6,1045.7L1262.8,1046L1264,1046.6L1265.2,1046L1266.4,1046.2L1267.6,1046.4L1268.8,1045.9L1270,1046.3L1271.2,1046.7L1272.4,1046.5L1273.6,1045.4L1274.8,1046.7L1276,1046L1277.2,1045.9L1278.4,1045.9L1279.6,1046.6L1280.8,1046.2L1282,1046L1283.2,1045.8L1284.4,1046.3L1285.6,1046.5L1286.8,1045.7L1288,1045.7L1289.2,1046L1290.4,1046.3L1291.6,1045.9L1292.8,1046L1294,1045.8L1295.2,1046.6L1296.4,1046L1297.6,1046.1L1298.8,1046.5L1300,1046L1301.2,1046.1L1302.4,1046.2L1303.6,1045.9L1304.8,1046.6L1306,1046.1L1307.2,1045.9L1308.4,1046L1309.6,1045.7L1310.8,1046.5L1312,1046.6L1313.2,1046L1314.4,1045.9L1315.6,1045.3L1316.8,1045.8L1318,1046.4L1319.2,1045.8L1320.4,1046.4L1321.6,1046.6L1322.8,1045.1L1324,1045.9L1325.2,1045.8L1326.4,1045.8L1327.6,1045.4L1328.8,1046L1330,1045.6L1331.2,1046.4L1332.4,1046.6L1333.6,1045.5L1334.8,1045.5L1336,1045.9L1337.2,1046L1338.4,1046L1339.6,1046.3L1340.8,1045.5L1342,1045.8L1343.2,1045.8L1344.4,1045.9L1345.6,1045.6L1346.8,1045.8L1348,1045.7L1349.2,1046.5L1350.4,1045.8L1351.6,1045.2L1352.8,1046.2L1354,1046.1L1355.2,1045.7L1356.4,1045.7L1357.6,1045.8L1358.8,1046.6L1360,1045.8L1361.2,1046.5L1362.4,1046.3L1363.6,1045.8L1364.8,1046.1L1366,1045.7L1367.2,1044.8L1368.4,1045.7L1369.6,1045.7L1370.8,1046.3L1372,1046.2L1373.2,1046.4L1374.4,1046.2L1375.6,1046.4L1376.8,1046.2L1378,1046L1379.2,1046.3L1380.4,1046.5L1381.6,1046.4L1382.8,1045.7L1384,1045.9L1385.2,1045.5L1386.4,1045.5L1387.6,1046L1388.8,1045.6L1390,1046.4L1391.2,1045L1392.4,1045.4L1393.6,1045.9L1394.8,1046.3L1396,1045.7L1397.2,1046.5L1398.4,1046.1L1399.6,1045.5L1400.8,1045.7L1402,1045.9L1403.2,1045.4L1404.4,1046.1L1405.6,1045.6L1406.8,1045.9L1408,1046L1409.2,1045.5L1410.4,1046L1411.6,1044.9L1412.8,1045.8L1414,1044.8L1415.2,1045.9L1416.4,1045.3L1417.6,1045.9L1418.8,1045.9L1420,1045.3L1421.2,1045.1L1422.4,1045.8L1423.6,1044.8L1424.8,1045.5L1426,1045.1L1427.2,1044.9L1428.4,1044.8L1429.6,1045.6L1430.8,1044.2L1432,1044.5L1433.2,1044.8L1434.4,1044.9L1435.6,1045L1436.8,1044.8L1438,1043.9L1439.2,1044L1440.4,1044.1L1441.6,1043.6L1442.8,1042.5L1444,1042.9L1445.2,1042.6L1446.4,1041.5L1447.6,1041.2L1448.8,1040.7L1449.2,1040.6L1449.6,1040.6L1450,1040.2L1450.4,1039.7L1450.8,1039.3L1451.2,1038.8L1451.6,1038.4L1452,1038.1L1452.4,1037.6L1452.8,1037.3L1453.2,1036.8L1453.6,1036.1L1454,1035.5L1454.4,1034.7L1454.8,1033.9L1455.2,1033.1L1455.6,1032.2L1456,1031.1L1456.4,1029.9L1456.8,1028.7L1457.2,1027.2L1457.6,1025.6L1458,1023.8L1458.4,1021.9L1458.8,1019.7L1459.2,1017.3L1459.6,1014.7L1460,1011.9L1460.4,1009L1460.8,1006.1L1461.2,1003.3L1461.6,1000.8L1462,998.8L1462.4,997.6L1462.8,997.1L1463.2,997.6L1463.6,998.8L1464,1000.8L1464.4,1003.3L1464.8,1006.1L1465.2,1009L1465.6,1011.9L1466,1014.7L1466.4,1017.3L1466.8,1019.7L1467.2,1021.9L1467.6,1023.8L1468,1025.6L1468.4,1027.2L1468.8,1028.6L1469.2,1030L1469.6,1031.1L1470,1032.1L1470.4,1033.1L1470.8,1034L1471.2,1034.6L1471.6,1035.3L1472,1035.9L1472.4,1036.7L1472.8,1037.2L1473.2,1037.5L1473.6,1038.2L1474,1038.6L1474.4,1038.8L1474.8,1039L1475.2,1039.8L1475.6,1040.5L1476,1040.6L1476.4,1040.7L1477.6,1041.2L1478.8,1041.6L1480,1042.3L1481.2,1042.9L1482.4,1043L1483.6,1043.7L1484.8,1043.6L1486,1044.1L1487.2,1043L1488.4,1043.9L1489.6,1044.7L1490.8,1044.9L1492,1044.8L1493.2,1045.3L1494.4,1045.1L1495.6,1045.2L1496.8,1044.6L1498,1045.2L1499.2,1045.4L1500.4,1045.7L1501.6,1045.7L1502.8,1045.3L1504,1045.4L1505.2,1044.9L1506.4,1045.6L1507.6,1045L1508.8,1045.4L1510,1045.5L1511.2,1046.3L1512.4,1046L1513.6,1045.3L1514.8,1045.1L1516,1045.5L1517.2,1045.3L1518.4,1045.8L1519.6,1045.8L1520.8,1045.9L1522,1045.3L1523.2,1045.6L1524.4,1045.8L1525.6,1045.9L1526.8,1045.5L1528,1045.6L1529.2,1046.1L1530.4,1045.1L1531.6,1045.7L1532.8,1045.8L1534,1045.2L1535.2,1045.4L1536.4,1045.8L1537.6,1045.6L1538.8,1046.2L1540,1046.1L1541.2,1046.7L1542.4,1045.3L1543.6,1046.5L1544.8,1045.6L1546,1046.1L1547.2,1046.2L1548.4,1045.9L1549.6,1045.7L1550.8,1045.6L1552,1045.1L1553.2,1045.6L1554.4,1045.4L1555.6,1046L1556.8,1045.5L1558,1045.7L1559.2,1045.9L1560.4,1045.7L1561.6,1045.7L1562.8,1045.5L1564,1045.4L1565.2,1045.7L1566.4,1045.7L1567.6,1045.1L1568.8,1045.9L1570,1045.4L1571.2,1044.4L1572.4,1045.9L1573.6,1044.9L1574.8,1044.1L1576,1044.6L1577.2,1042.5L1578.4,1043.8L1579.6,1041.5L1580.8,1040.6L1582,1040L1583.2,1039.8L1584.4,1039.4L1585.6,1040.4L1586.8,1040.6L1588,1042.2L1589.2,1042.7L1590.4,1042.9L1591.6,1044.2L1592.8,1044.4L1594,1044.5L1595.2,1045.3L1596.4,1044.6L1597.6,1045L1598.8,1045.9L1600,1045.4L1601.2,1045.8L1602.4,1045.8L1603.6,1045.6L1604.8,1045.9L1606,1045.3L1607.2,1046L1608.4,1045.4L1609.6,1045.8L1610.8,1045.5L1612,1046L1613.2,1046.1L1614.4,1046.3L1615.6,1045.7L1616.8,1045.6L1618,1045.1L1619.2,1045.4L1620.4,1045.8L1621.6,1046L1622.8,1045.8L1624,1046L1625.2,1045.4L1626.4,1045.6L1627.6,1046.3L1628.8,1046.3L1630,1045.5L1631.2,1045.9L1632.4,1046.1L1633.6,1045.6L1634.8,1046.2L1636,1046.1L1637.2,1046.2L1638.4,1046.8L1639.6,1045.7L1640.8,1046.5L1642,1046.3L1643.2,1046.3L1644.4,1045.8L1645.6,1046.1L1646.8,1046L1648,1046.7L1649.2,1046.1L1650.4,1046.6L1651.6,1045.9L1652.8,1045.9L1654,1046.1L1655.2,1045.3L1656.4,1045.9L1657.6,1045.8L1658.8,1046L1660,1046.1L1661.2,1045.7L1662.4,1045.7L1663.6,1046.6L1664.8,1045.7L1666,1045.9L1667.2,1045.7L1668.4,1045.9L1669.6,1046.6L1670.8,1046.5L1672,1045.4L1673.2,1046L1674.4,1046.6L1675.6,1046L1676.8,1046.2L1678,1046.8L1679.2,1047L1680.4,1046.7L1681.6,1046L1682.8,1046.1L1684,1046.2L1685.2,1046L1686.4,1045.9L1687.6,1046.9L1688.8,1046.2L1690,1046.4L1691.2,1046.6L1692.4,1046.3L1693.6,1046.1L1694.8,1046.2L1696,1046.7L1697.2,1046.3L1698.4,1045.3L1699.6,1046.5L1700.8,1046.7L1702,1046L1703.2,1045.9L1704.4,1045.9L1705.6,1046.5L1706.8,1045.7L1708,1046.4L1709.2,1046.5L1710.4,1046.3L1711.6,1046.2L1712.8,1045.8L1714,1045.9L1715.2,1046.1L1716.4,1045.8L1717.6,1046.1L1718.8,1045.8L1720,1046.6L1721.2,1046.7L1722.4,1045.8L1723.6,1046.6L1724.8,1046.2L1726,1046.2L1727.2,1046.3L1728.4,1046.3L1729.6,1045.6L1730.8,1047.1L1732,1045.8L1733.2,1045.2L1734.4,1046.1L1735.6,1046.1L1736.8,1045.8L1738,1045.4L1739.2,1046.6L1740.4,1046.1L1741.6,1046.2L1742.8,1045.9L1744,1046.1L1745.2,1045.9L1746.4,1046.3L1747.6,1046.1L1748.8,1046.4L1750,1046.4L1751.2,1046.2L1752.4,1046.2L1753.6,1046.6L1754.8,1045.5L1756,1046.2L1757.2,1046.6L1758.4,1045.7L1759.6,1046.4L1760.8,1045.9L1762,1046.1L1763.2,1046L1764.4,1046.1L1765.6,1046.3L1766.8,1046.1L1768,1045.4L1769.2,1047L1770.4,1046.1L1771.6,1046L1772.8,1046.5L1772.8,1049.2L1771.6,1048.7L1770.4,1048.8L1769.2,1049.7L1768,1048.1L1766.8,1048.8L1765.6,1049L1764.4,1048.8L1763.2,1048.7L1762,1048.8L1760.8,1048.6L1759.6,1049.1L1758.4,1048.4L1757.2,1049.3L1756,1048.9L1754.8,1048.2L1753.6,1049.3L1752.4,1048.9L1751.2,1048.9L1750,1049.1L1748.8,1049.1L1747.6,1048.8L1746.4,1049L1745.2,1048.6L1744,1048.8L1742.8,1048.6L1741.6,1048.9L1740.4,1048.8L1739.2,1049.3L1738,1048.1L1736.8,1048.5L1735.6,1048.8L1734.4,1048.8L1733.2,1047.9L1732,1048.5L1730.8,1049.8L1729.6,1048.3L1728.4,1049L1727.2,1049L1726,1048.9L1724.8,1048.9L1723.6,1049.3L1722.4,1048.5L1721.2,1049.4L1720,1049.3L1718.8,1048.5L1717.6,1048.8L1716.4,1048.5L1715.2,1048.8L1714,1048.6L1712.8,1048.5L1711.6,1048.9L1710.4,1049L1709.2,1049.2L1708,1049.1L1706.8,1048.4L1705.6,1049.2L1704.4,1048.6L1703.2,1048.6L1702,1048.7L1700.8,1049.4L1699.6,1049.2L1698.4,1048L1697.2,1049L1696,1049.4L1694.8,1048.9L1693.6,1048.8L1692.4,1049L1691.2,1049.3L1690,1049.1L1688.8,1048.9L1687.6,1049.6L1686.4,1048.6L1685.2,1048.7L1684,1048.9L1682.8,1048.8L1681.6,1048.7L1680.4,1049.4L1679.2,1049.7L1678,1049.5L1676.8,1048.9L1675.6,1048.7L1674.4,1049.3L1673.2,1048.7L1672,1048.1L1670.8,1049.2L1669.6,1049.3L1668.4,1048.6L1667.2,1048.4L1666,1048.6L1664.8,1048.4L1663.6,1049.3L1662.4,1048.4L1661.2,1048.4L1660,1048.8L1658.8,1048.7L1657.6,1048.5L1656.4,1048.6L1655.2,1048L1654,1048.8L1652.8,1048.6L1651.6,1048.6L1650.4,1049.3L1649.2,1048.8L1648,1049.4L1646.8,1048.7L1645.6,1048.8L1644.4,1048.5L1643.2,1049L1642,1049L1640.8,1049.2L1639.6,1048.4L1638.4,1049.5L1637.2,1048.9L1636,1048.8L1634.8,1048.9L1633.6,1048.3L1632.4,1048.8L1631.2,1048.6L1630,1048.2L1628.8,1049L1627.6,1049L1626.4,1048.3L1625.2,1048.1L1624,1048.7L1622.8,1048.5L1621.6,1048.7L1620.4,1048.5L1619.2,1048.1L1618,1047.8L1616.8,1048.3L1615.6,1048.4L1614.4,1049L1613.2,1048.8L1612,1048.7L1610.8,1048.2L1609.6,1048.5L1608.4,1048.1L1607.2,1048.7L1606,1048L1604.8,1048.6L1603.6,1048.3L1602.4,1048.5L1601.2,1048.5L1600,1048.1L1598.8,1048.6L1597.6,1047.7L1596.4,1047.3L1595.2,1048L1594,1047.2L1592.8,1047.1L1591.6,1046.9L1590.4,1045.6L1589.2,1045.4L1588,1044.9L1586.8,1043.3L1585.6,1043.1L1584.4,1042.1L1583.2,1042.5L1582,1042.7L1580.8,1043.3L1579.6,1044.2L1578.4,1046.5L1577.2,1045.2L1576,1047.3L1574.8,1046.8L1573.6,1047.6L1572.4,1048.6L1571.2,1047.1L1570,1048.1L1568.8,1048.6L1567.6,1047.8L1566.4,1048.4L1565.2,1048.4L1564,1048.1L1562.8,1048.2L1561.6,1048.4L1560.4,1048.4L1559.2,1048.6L1558,1048.4L1556.8,1048.2L1555.6,1048.7L1554.4,1048.1L1553.2,1048.3L1552,1047.8L1550.8,1048.3L1549.6,1048.4L1548.4,1048.6L1547.2,1048.9L1546,1048.8L1544.8,1048.3L1543.6,1049.2L1542.4,1048L1541.2,1049.4L1540,1048.8L1538.8,1048.9L1537.6,1048.3L1536.4,1048.5L1535.2,1048.1L1534,1047.9L1532.8,1048.5L1531.6,1048.4L1530.4,1047.8L1529.2,1048.8L1528,1048.3L1526.8,1048.2L1525.6,1048.6L1524.4,1048.5L1523.2,1048.3L1522,1048L1520.8,1048.6L1519.6,1048.5L1518.4,1048.5L1517.2,1048L1516,1048.2L1514.8,1047.8L1513.6,1048L1512.4,1048.7L1511.2,1049L1510,1048.2L1508.8,1048.1L1507.6,1047.7L1506.4,1048.3L1505.2,1047.6L1504,1048.1L1502.8,1048L1501.6,1048.4L1500.4,1048.4L1499.2,1048.1L1498,1047.9L1496.8,1047.3L1495.6,1047.9L1494.4,1047.8L1493.2,1048L1492,1047.5L1490.8,1047.6L1489.6,1047.4L1488.4,1046.6L1487.2,1045.7L1486,1046.8L1484.8,1046.3L1483.6,1046.4L1482.4,1045.7L1481.2,1045.6L1480,1045L1478.8,1044.3L1477.6,1043.9L1476.4,1043.4L1476,1043.3L1475.6,1043.2L1475.2,1042.5L1474.8,1041.7L1474.4,1041.5L1474,1041.3L1473.6,1040.9L1473.2,1040.2L1472.8,1039.9L1472.4,1039.4L1472,1038.6L1471.6,1038L1471.2,1037.3L1470.8,1036.7L1470.4,1035.8L1470,1034.8L1469.6,1033.8L1469.2,1032.7L1468.8,1031.3L1468.4,1029.9L1468,1028.3L1467.6,1026.5L1467.2,1024.6L1466.8,1022.4L1466.4,1020L1466,1017.4L1465.6,1014.6L1465.2,1011.7L1464.8,1008.8L1464.4,1006L1464,1003.5L1463.6,1001.5L1463.2,1000.3L1462.8,999.8L1462.4,1000.3L1462,1001.5L1461.6,1003.5L1461.2,1006L1460.8,1008.8L1460.4,1011.7L1460,1014.6L1459.6,1017.4L1459.2,1020L1458.8,1022.4L1458.4,1024.6L1458,1026.5L1457.6,1028.3L1457.2,1029.9L1456.8,1031.4L1456.4,1032.6L1456,1033.8L1455.6,1034.9L1455.2,1035.8L1454.8,1036.6L1454.4,1037.4L1454,1038.2L1453.6,1038.8L1453.2,1039.5L1452.8,1040L1452.4,1040.3L1452,1040.8L1451.6,1041.1L1451.2,1041.5L1450.8,1042L1450.4,1042.4L1450,1042.9L1449.6,1043.3L1449.2,1043.3L1448.8,1043.4L1447.6,1043.9L1446.4,1044.2L1445.2,1045.3L1444,1045.6L1442.8,1045.2L1441.6,1046.3L1440.4,1046.8L1439.2,1046.7L1438,1046.6L1436.8,1047.5L1435.6,1047.7L1434.4,1047.6L1433.2,1047.5L1432,1047.2L1430.8,1046.9L1429.6,1048.3L1428.4,1047.5L1427.2,1047.6L1426,1047.8L1424.8,1048.2L1423.6,1047.5L1422.4,1048.5L1421.2,1047.8L1420,1048L1418.8,1048.6L1417.6,1048.6L1416.4,1048L1415.2,1048.6L1414,1047.5L1412.8,1048.5L1411.6,1047.6L1410.4,1048.7L1409.2,1048.2L1408,1048.7L1406.8,1048.6L1405.6,1048.3L1404.4,1048.8L1403.2,1048.1L1402,1048.6L1400.8,1048.4L1399.6,1048.2L1398.4,1048.8L1397.2,1049.2L1396,1048.4L1394.8,1049L1393.6,1048.6L1392.4,1048.1L1391.2,1047.7L1390,1049.1L1388.8,1048.3L1387.6,1048.7L1386.4,1048.2L1385.2,1048.2L1384,1048.6L1382.8,1048.4L1381.6,1049.1L1380.4,1049.2L1379.2,1049L1378,1048.7L1376.8,1048.9L1375.6,1049.1L1374.4,1048.9L1373.2,1049.1L1372,1048.9L1370.8,1049L1369.6,1048.4L1368.4,1048.4L1367.2,1047.5L1366,1048.4L1364.8,1048.8L1363.6,1048.5L1362.4,1049L1361.2,1049.2L1360,1048.5L1358.8,1049.3L1357.6,1048.5L1356.4,1048.4L1355.2,1048.4L1354,1048.8L1352.8,1048.9L1351.6,1047.9L1350.4,1048.5L1349.2,1049.2L1348,1048.4L1346.8,1048.5L1345.6,1048.3L1344.4,1048.6L1343.2,1048.5L1342,1048.5L1340.8,1048.2L1339.6,1049L1338.4,1048.7L1337.2,1048.7L1336,1048.6L1334.8,1048.2L1333.6,1048.2L1332.4,1049.3L1331.2,1049.1L1330,1048.3L1328.8,1048.7L1327.6,1048.1L1326.4,1048.5L1325.2,1048.5L1324,1048.6L1322.8,1047.8L1321.6,1049.3L1320.4,1049.1L1319.2,1048.5L1318,1049.1L1316.8,1048.5L1315.6,1048L1314.4,1048.6L1313.2,1048.7L1312,1049.3L1310.8,1049.2L1309.6,1048.4L1308.4,1048.7L1307.2,1048.6L1306,1048.8L1304.8,1049.3L1303.6,1048.6L1302.4,1048.9L1301.2,1048.8L1300,1048.7L1298.8,1049.2L1297.6,1048.8L1296.4,1048.7L1295.2,1049.3L1294,1048.5L1292.8,1048.7L1291.6,1048.6L1290.4,1049L1289.2,1048.7L1288,1048.4L1286.8,1048.4L1285.6,1049.2L1284.4,1049L1283.2,1048.5L1282,1048.7L1280.8,1048.9L1279.6,1049.3L1278.4,1048.6L1277.2,1048.6L1276,1048.7L1274.8,1049.4L1273.6,1048.1L1272.4,1049.2L1271.2,1049.4L1270,1049L1268.8,1048.6L1267.6,1049.1L1266.4,1048.9L1265.2,1048.7L1264,1049.3L1262.8,1048.7L1261.6,1048.4L1260.4,1048.9L1259.2,1049.1L1258,1048.4L1256.8,1048.8L1255.6,1048.2L1254.4,1048.4L1253.2,1048.5L1252,1048.5L1250.8,1048.4L1249.6,1049.9L1248.4,1048.9L1247.2,1049L1246,1048.3L1244.8,1049.3L1243.6,1048.7L1242.4,1047.9L1241.2,1048.7L1240,1048.5L1238.8,1048.7L1237.6,1048.8L1236.4,1048.2L1235.2,1048.9L1234,1048.2L1232.8,1048.2L1231.6,1048.9L1230.4,1049L1229.2,1049.1L1228,1048.8L1226.8,1048.9L1225.6,1048.9L1224.4,1048.4L1223.2,1049L1222,1048.5L1220.8,1048.5L1219.6,1049.1L1218.4,1048.9L1217.2,1048.5L1216,1049.1L1214.8,1048.8L1213.6,1049.3L1212.4,1048.8L1211.2,1048.6L1210,1048.4L1208.8,1049.2L1207.6,1048.7L1206.4,1049.2L1205.2,1048.6L1204,1048.6L1202.8,1049L1201.6,1048.4L1200.4,1048.8L1199.2,1049L1198,1049L1196.8,1049.3L1195.6,1049.4L1194.4,1048.7L1193.2,1049L1192,1048.9L1190.8,1048L1189.6,1049.5L1188.4,1049L1187.2,1048.5L1186,1049L1184.8,1048.6L1183.6,1048.4L1182.4,1048.9L1181.2,1048.7L1180,1047.9L1178.8,1049L1177.6,1048.4L1176.4,1049.5L1175.2,1048.2L1174,1048.7L1172.8,1049.6L1171.6,1049L1170.4,1048.9L1169.2,1048.8L1168,1049.7L1166.8,1049.2L1165.6,1048.1L1164.4,1049L1163.2,1048.6L1162,1049.4L1160.8,1048.6L1159.6,1048L1158.4,1049.2L1157.2,1048.9L1156,1049.3L1154.8,1048.8L1153.6,1048.3L1152.4,1049.6L1151.2,1048.8L1150,1048.3L1148.8,1048.8L1147.6,1048.5L1146.4,1048.7L1145.2,1048.5L1144,1048.4L1142.8,1048.6L1141.6,1048.8L1140.4,1048.8L1139.2,1048.6L1138,1048.4L1136.8,1049L1135.6,1048.5L1134.4,1048.8L1133.2,1048.8L1132,1048.8L1130.8,1048.5L1129.6,1049L1128.4,1048.8L1127.2,1049L1126,1049.1L1124.8,1049.5L1123.6,1048.7L1122.4,1048.8L1121.2,1048.6L1120,1049.2L1118.8,1049.4L1117.6,1048.9L1116.4,1049.1L1115.2,1049.1L1114,1049L1112.8,1049.1L1111.6,1048.5L1110.4,1048.7L1109.2,1048.7L1108,1048.4L1106.8,1049.3L1105.6,1048.1L1104.4,1048.2L1103.2,1048.8L1102,1048.5L1100.8,1048.6L1099.6,1049.5L1098.4,1048.8L1097.2,1048.8L1096,1049.6L1094.8,1049.1L1093.6,1049.6L1092.4,1049.1L1091.2,1048.7L1090,1048.7L1088.8,1048.7L1087.6,1048.7L1086.4,1048.9L1085.2,1048.4L1084,1048.2L1082.8,1048.4L1081.6,1048.4L1080.4,1048.7L1079.2,1048.5L1078,1048.1L1076.8,1048.5L1075.6,1048.9L1074.4,1049.3L1073.2,1048.8L1072,1049L1070.8,1048.8L1069.6,1048.9L1068.4,1049.1L1067.2,1048.9L1066,1048.3L1064.8,1049.1L1063.6,1048.8L1062.4,1049.8L1061.2,1048.7L1060,1048.7L1058.8,1048.9L1057.6,1047.9L1056.4,1048.6L1055.2,1049.1L1054,1048.9L1052.8,1048.7L1051.6,1048.8L1050.4,1049.2L1049.2,1049L1048,1048.8L1046.8,1048.6L1045.6,1048.8L1044.4,1049.1L1043.2,1048.7L1042,1049L1040.8,1048.7L1039.6,1048.9L1038.4,1048.5L1037.2,1049.3L1036,1049.1L1034.8,1049L1033.6,1049.2L1032.4,1049.4L1031.2,1048.7L1030,1048.6L1028.8,1049.2L1027.6,1048.5L1026.4,1049.4L1025.2,1049L1024,1048.7L1022.8,1048.9L1021.6,1048.5L1020.4,1049L1019.2,1048.9L1018,1048.9L1016.8,1048.7L1015.6,1048.5L1014.4,1049L1013.2,1048.6L1012,1048.9L1010.8,1048.8L1009.6,1048.9L1008.4,1048.7L1007.2,1049.3L1006,1048.5L1004.8,1048.3L1003.6,1048.2L1002.4,1049.3L1001.2,1049L1000,1049.2L998.8,1048.3L997.6,1048.6L996.4,1048.7L995.2,1048.6L994,1048.6L992.8,1048.4L991.6,1048.9L990.4,1049L989.2,1050.1L988,1049.1L986.8,1049L985.6,1048.5L984.4,1047.7L983.2,1048.4L982,1048.5L980.8,1049.4L979.6,1048.9L978.4,1049.4L977.2,1049.2L976,1048.9L974.8,1048.7L973.6,1048.6L972.4,1049.3L971.2,1049.3L970,1048.9L968.8,1048.6L967.6,1048.7L966.4,1047.9L965.2,1049L964,1048.6L962.8,1048.4L961.6,1048.2L960.4,1048.9L959.2,1048.9L958,1048.2L956.8,1049.1L955.6,1049.1L954.4,1048.7L953.2,1048.5L952,1048.6L950.8,1048.9L949.6,1048.8L948.4,1048.9L947.2,1048.4L946,1048.8L944.8,1048.3L943.6,1049.1L942.4,1049L941.2,1049L940,1048.8L938.8,1048.9L937.6,1048.9L936.4,1048.7L935.2,1048.4L934,1048.7L932.8,1049.5L931.6,1048.8L930.4,1050.2L929.2,1049L928,1048.8L926.8,1048.7L925.6,1048.7L924.4,1049.1L923.2,1048.9L922,1049.1L920.8,1048.9L919.6,1048.4L918.4,1049.1L917.2,1048.5L916,1049L914.8,1048.4L913.6,1048.3L912.4,1049.2L911.2,1048.7L910,1048.5L908.8,1049L907.6,1048.9L906.4,1048.7L905.2,1048.9L904,1048.9L902.8,1049.4L901.6,1048.3L900.4,1048.5L899.2,1048.5L898,1048.9L896.8,1049L895.6,1048.8L894.4,1048.7L893.2,1048.9L892,1048.8L890.8,1048.4L889.6,1048.9L888.4,1048.6L887.2,1049.2L886,1048.9L884.8,1048.7L883.6,1049.1L882.4,1049.2L881.2,1048.6L880,1048.8L878.8,1048.9L877.6,1048.3L876.4,1048.5L875.2,1048L874,1048.2L872.8,1049.1L871.6,1049.3L870.4,1049.1L869.2,1048.8L868,1048.7L866.8,1049L865.6,1048.9L864.4,1048.3L863.2,1049.1L862,1048.1L860.8,1048.4L859.6,1048.5L858.4,1048.7L857.2,1048.2L856,1048.1L854.8,1049L853.6,1048.3L852.4,1048.9L851.2,1049L850,1048.6L848.8,1047.9L847.6,1048.2L846.4,1049L845.2,1049.1L844,1049.1L842.8,1047.9L841.6,1048.9L840.4,1048.9L839.2,1048.6L838,1048.7L836.8,1049.4L835.6,1048.7L834.4,1048.9L833.2,1048.2L832,1048.8L830.8,1048.9L829.6,1048.6L828.4,1049.1L827.2,1048.2L826,1048.2L824.8,1047.7L823.6,1048L822.4,1049.3L821.2,1048.3L820,1048.4L818.8,1048.4L817.6,1048.2L816.4,1048.4L815.2,1048.7L814,1048.3L812.8,1048.3L811.6,1049.1L810.4,1047.7L809.2,1048.6L808,1048.4L806.8,1048.4L805.6,1048.7L804.4,1048.2L803.2,1047.9L802,1048.6L800.8,1047.2L799.6,1047.9L798.4,1048.6L797.2,1048.6L796,1048.4L794.8,1048.3L793.6,1047.5L792.4,1048.1L791.2,1047.8L790,1047.9L788.8,1047L787.6,1047.4L786.4,1047.5L785.2,1047.1L784,1047.2L782.8,1046.4L781.6,1047.1L780.4,1046.7L779.2,1046.4L778,1045.5L776.8,1044.7L776.3,1044.2L775.9,1044.4L775.6,1044.5L775.5,1044.3L775.1,1044.3L774.7,1043.7L774.4,1043.5L774.3,1043.5L773.9,1043.3L773.5,1042.9L773.2,1042.6L773.1,1042.4L772.7,1042L772.3,1041.4L772,1041.3L771.9,1041L771.5,1040.6L771.1,1039.9L770.8,1039.5L770.7,1039.3L770.3,1038.5L769.9,1037.7L769.6,1037L769.5,1036.8L769.1,1035.7L768.7,1034.5L768.4,1033.6L768.3,1033.2L767.9,1031.7L767.5,1029.9L767.2,1028.4L767.1,1027.9L766.7,1025.5L766.3,1022.8L766,1020.5L765.9,1019.7L765.5,1016.1L765.1,1012.2L764.8,1008.9L764.7,1007.8L764.3,1003.3L763.9,998.9L763.6,996.1L763.5,995.2L763.1,992.7L762.7,991.8L762.4,992.3L762.3,992.7L761.9,995.2L761.5,998.9L761.2,1002.2L761.1,1003.3L760.7,1007.8L760.3,1012.2L760,1015.2L759.9,1016.1L759.5,1019.7L759.1,1022.8L758.8,1024.9L758.7,1025.5L758.3,1027.9L757.9,1029.9L757.6,1031.3L757.5,1031.7L757.1,1033.2L756.7,1034.5L756.4,1035.4L756.3,1035.7L755.9,1036.8L755.5,1037.7L755.2,1038.3L755.1,1038.5L754.7,1039.2L754.3,1040L754,1040.3L753.9,1040.6L753.5,1041L753.1,1041.5L752.8,1041.9L752.7,1041.9L752.3,1042.2L751.9,1042.7L751.6,1042.7L751.5,1043L751.1,1043.4L750.7,1043.7L750.4,1043.5L750.3,1044L749.9,1044.2L749.5,1045L749.2,1044.8L749.1,1044.1L748.7,1045.2L748,1045L746.8,1045.8L745.6,1045.3L744.4,1046.2L743.2,1046.2L742,1046.9L740.8,1047.3L739.6,1046.5L738.4,1046.9L737.2,1047.8L736,1047.6L734.8,1047.4L733.6,1047.1L732.4,1048.3L731.2,1047.1L730,1048.4L728.8,1048.3L727.6,1048.2L726.4,1048L725.2,1048L724,1048.8L722.8,1048.1L721.6,1048.6L720.4,1048.5L719.2,1048.4L718,1048.3L716.8,1048.5L715.6,1047.7L714.4,1048.1L713.2,1048.5L712,1048.9L710.8,1048.5L709.6,1048.7L708.4,1047.7L707.2,1048.4L706,1047.8L704.8,1048.2L703.6,1048.2L702.4,1048.1L701.2,1048.1L700,1047.8L698.8,1048.6L697.6,1048.7L696.4,1048.3L695.2,1048.7L694,1048.9L692.8,1048.4L691.6,1048.8L690.4,1048.4L689.2,1047.7L688,1048.7L686.8,1048.4L685.6,1048.2L684.4,1049.4L683.2,1048.7L682,1048.3L680.8,1049L679.6,1048.9L678.4,1048L677.2,1048.1L676,1049L674.8,1048.3L673.6,1048.5L672.4,1048.5L671.2,1048.7L670,1048L668.8,1048.3L667.6,1047.8L666.4,1048.1L665.2,1048.8L664,1049.1L662.8,1048.3L661.6,1048L660.4,1047.9L659.2,1048.8L658,1048.3L656.8,1048.5L655.6,1048.1L654.4,1048.4L653.2,1049L652,1048.1L650.8,1048.7L649.6,1048.9L648.4,1048.5L647.2,1048.5L646,1048L644.8,1048.6L643.6,1048.4L642.4,1048.2L641.2,1048.4L640,1048.6L638.8,1048.7L637.6,1048.2L636.4,1048.5L635.2,1049L634,1048.1L632.8,1047.1L631.6,1048.1L630.4,1048L629.2,1048.6L628,1048.1L626.8,1048.2L625.6,1047.5L624.4,1047.3L623.2,1047.8L622,1047.6L620.8,1047.9L619.6,1048.3L618.4,1047.6L617.2,1047.1L616,1048L614.8,1047.7L613.6,1047.8L612.4,1047.3L611.2,1047.3L610,1047.5L608.8,1047.6L607.6,1047L606.4,1047.7L605.2,1047.6L604,1047L602.8,1047.5L601.6,1047L600.4,1046.9L599.2,1047L598,1046.6L596.8,1045.6L595.6,1045.3L594.4,1046L593.2,1045.8L592,1044.6L590.8,1044.2L589.6,1044.2L588.4,1043.4L587.2,1042.5L586,1042.5L584.8,1040.9L583.6,1039.4L582.4,1038.3L581.2,1037L580,1035.9L578.8,1036.3L577.6,1036.2L576.4,1036.9L575.2,1036.8L574,1037.3L572.8,1037L571.6,1037.3L570.4,1035.3L569.2,1034.5L568,1033.4L567.2,1032L566.8,1031.4L566.4,1030.5L566,1029.6L565.6,1028.6L565.2,1027.8L564.8,1026.5L564.4,1025.3L564,1023.7L563.6,1022.2L563.2,1020.7L562.8,1018.9L562.4,1016.7L562,1014.7L561.6,1012.1L561.2,1009.4L560.8,1006.2L560.4,1002.8L560,998.8L559.6,994.3L559.2,989.2L558.8,983.3L558.4,976.5L558,968.7L557.6,959.5L557.2,949L556.8,936.7L556.4,922.6L556,906.6L555.6,889.1L555.2,870.6L554.8,852.5L554.4,837L554,826.3L553.6,822.4L553.2,826.3L552.8,837L552.4,852.6L552,870.7L551.6,889.2L551.2,906.8L550.8,922.8L550.4,936.9L550,949.2L549.6,959.8L549.2,968.9L548.8,976.8L548.4,983.6L548,989.5L547.6,994.7L547.2,999.3L546.8,1003.2L546.4,1006.8L546,1010L545.6,1012.7L545.2,1015.2L544.8,1017.6L544.4,1019.5L544,1021.3L543.6,1023.2L543.2,1024.4L542.8,1026L542.4,1027.3L542,1028.7L541.6,1029.4L541.2,1030.6L540.8,1031.1L540.4,1032.5L540,1033.4L539.6,1034.3L539.2,1034.8L538,1035.8L536.8,1038.1L535.6,1039.3L534.4,1039.9L533.2,1041.2L532,1041.3L530.8,1042.8L529.6,1042.8L528.4,1043.6L527.2,1044L526,1044.3L524.8,1044.6L523.6,1044.8L522.4,1045.1L521.2,1045.2L520,1045.8L518.8,1045.6L517.6,1046.1L516.4,1046L515.2,1046.9L514,1046.8L512.8,1046.2L511.6,1046.5L510.4,1046.6L509.2,1047.1L508,1047.5L506.8,1047.1L505.6,1047.8L504.4,1047.9L503.2,1047.7L502,1047.6L500.8,1047.4L499.6,1048.1L498.4,1047.6L497.2,1047.8L496,1047.9L494.8,1048L493.6,1048.6L492.4,1047.7L491.2,1048.3L490,1048L488.8,1047.9L487.6,1048.3L486.4,1048.3L485.2,1047.6L484,1047.7L482.8,1048.6L481.6,1047.9L480.4,1048.5L479.2,1048.1L478,1047.4L476.8,1048.2L475.6,1048.1L474.4,1047.5L473.2,1048.4L472,1048.6L470.8,1047.9L469.6,1048.6L468.4,1048L467.2,1048.5L466,1047.8L464.8,1048.3L463.6,1048.3L462.4,1048.7L461.2,1047.7L460,1049L458.8,1048.5L457.6,1048.2L456.4,1048.9L455.2,1048.9L454,1048.2L452.8,1049.4L451.6,1048.4L450.4,1048.6L449.2,1048.9L448,1049L446.8,1049.1L445.6,1048.6L444.4,1048.8L443.2,1048.2L442,1049.4L440.8,1049L439.6,1048.2L438.4,1048.9L437.2,1048.8L436,1048.2L434.8,1048.4L433.6,1048.2L432.4,1048.4L431.2,1049.2L430,1048.3L428.8,1048.2L427.6,1048.6L426.4,1048.5L425.2,1048.9L424,1048.8L422.8,1049L421.6,1048.6L420.4,1048.3L419.2,1048.9L418,1048.8L416.8,1048.1L415.6,1048.5L414.4,1049.1L413.2,1048.5L412,1048L410.8,1048.4L409.6,1048.9L408.4,1048.6L407.2,1047.8L406,1048.9L404.8,1048.3L403.6,1049.2L402.4,1049.2L401.2,1048.7L400,1049L398.8,1048.3L397.6,1048.4L396.4,1048.3L395.2,1048.3L394,1049.4L392.8,1049L391.6,1048L390.4,1048.3L389.2,1049.1L388,1048.8L386.8,1049L385.6,1049L384.4,1047.9L383.2,1049L382,1049.1L380.8,1048.4L379.6,1048.8L378.4,1048.5L377.2,1049.4L376,1048.4L374.8,1049L373.6,1048.5L372.4,1049.6L371.2,1048.7L370,1049L368.8,1048.5L367.6,1048.8L366.4,1049.6L365.2,1048.6L364,1048.6L362.8,1048.5L361.6,1049.2L360.4,1048.4L359.2,1048.9L358,1049.1L356.8,1048.7L355.6,1048.7L354.4,1048.2L353.2,1048.8L352,1048.3L350.8,1048.3L349.6,1048.7L348.4,1048.4L347.2,1048.6L346,1048.4L344.8,1048.6L343.6,1049.1L342.4,1048.9L341.2,1048.3L340,1049.5L338.8,1048.6L337.6,1049.1L336.4,1049.1L335.2,1049.1L334,1048.6L332.8,1048.5L331.6,1048.8L330.4,1049.2L329.2,1049.3L328,1049.2L326.8,1048.9L325.6,1049L324.4,1049.3L323.2,1048.6L322,1049.6L320.8,1048.7L319.6,1049L318.4,1048.9L317.2,1048.9L316,1049.3L314.8,1049.4L313.6,1049.3L312.4,1048.5L311.2,1049L310,1048.5L308.8,1048.2L307.6,1049.2L306.4,1048.3L305.2,1048.8L304,1049.1L302.8,1049L301.6,1048.9L300.4,1048.7L299.2,1048.7L298,1049.1L296.8,1049.3L295.6,1048.6L294.4,1048.9L293.2,1048.9L292,1049L290.8,1048.9L289.6,1048.5L288.4,1049.6L287.2,1048.9L286,1048.8L284.8,1048.8L283.6,1049.3L282.4,1048.6L281.2,1048.7L280,1048.2L278.8,1048.7L277.6,1048L276.4,1048.7L275.2,1048.5L274,1048.9L272.8,1049L271.6,1049L270.4,1049L269.2,1048L268,1049L266.8,1049.1L265.6,1049.2L264.4,1048.7L263.2,1049L262,1048.4L260.8,1048.9L259.6,1049.1L258.4,1048.5L257.2,1048.7L256,1049.2L254.8,1048.8L253.6,1049.1L252.4,1048.7L251.2,1048.2L250,1048.8L248.8,1049.1L247.6,1048.6L246.4,1048.8L245.2,1049.2L244,1048.7L242.8,1049.1L241.6,1049.1L240.4,1049.2L239.2,1049.2L238,1049.1L236.8,1049.7L235.6,1048.4L234.4,1048.7L233.2,1048.9L232,1049L230.8,1048.4L229.6,1049L228.4,1049.1L227.2,1048.3L226,1048.9L224.8,1049.3L223.6,1048.6L222.4,1049.3L221.2,1048.8L220,1048.8L218.8,1049L217.6,1049.5L216.4,1049L215.2,1048.9L214,1048.9L212.8,1049.6L211.6,1048.9L210.4,1048.8L209.2,1049.1L208,1048.7L206.8,1048.5L205.6,1049L204.4,1048.6L203.2,1048L202,1048.8L200.8,1048.6L199.6,1048.3L198.4,1048.7L197.2,1049L196,1048.5L194.8,1049.3L193.6,1049.5L192.4,1048.8L191.2,1049.1L190,1048.9L188.8,1048.6L187.6,1048.5L186.4,1049L185.2,1049.3L184,1048.8L182.8,1048.1L181.6,1049L180.4,1048.9L179.2,1048.8L178,1048.8L176.8,1048.5L175.6,1048.3L174.4,1048.8L173.2,1049.2L172,1048.7L170.8,1048.2L169.6,1048.8L168.4,1048.3L167.2,1049.2L166,1049.3L164.8,1048.2L163.6,1049L162.4,1049.2L161.2,1048.8L160,1049.8L158.8,1048.9L157.6,1048.6L156.4,1049.3L155.2,1048.5L154,1049.2L152.8,1048.2L151.6,1049L150.4,1048.8L149.2,1049L148,1048.9Z" fill="#f54242" stroke="#f54242" stroke-width="8.0" stroke-linejoin="round"/>
<path d="M550.1,821.5H557.1V1000.7L553.6,988.7L550.1,1000.7Z" fill="#f54242"/>
<path d="M759.2,990.5H766.2V1045.2L762.7,1033.2L759.2,1045.2Z" fill="#f54242"/>
<path d="M1459.3,998.5H1466.3V1044.8L1462.8,1032.8L1459.3,1044.8Z" fill="#f54242"/>
<path d="M148,895.6L149.2,894.3L150.4,895.3L151.6,894.3L152.8,894.9L154,895.1L155.2,894.9L156.4,894.9L157.6,894.7L158.8,895L160,895.1L161.2,895.1L162.4,894.6L163.6,894.8L164.8,895.5L166,895.4L167.2,895L168.4,895.4L169.6,895.3L170.8,895.5L172,895.2L173.2,895L174.4,894.7L175.6,895.1L176.8,894.3L178,895.2L179.2,893.9L180.4,894.7L181.6,894.9L182.8,895.3L184,896.2L185.2,895.2L186.4,895.1L187.6,894.4L188.8,895.6L190,894.4L191.2,895.2L192.4,894.8L193.6,896.1L194.8,895.1L196,895.2L197.2,894.9L198.4,895.1L199.6,895.6L200.8,894.8L202,894.9L203.2,894.9L204.4,894.7L205.6,894.7L206.8,895.1L208,895.6L209.2,895.6L210.4,894.6L211.6,894.8L212.8,895.1L214,895.3L215.2,895.1L216.4,895.1L217.6,895.2L218.8,895.4L220,894.3L221.2,895L222.4,895.3L223.6,895.6L224.8,895.4L226,894.8L227.2,894.8L228.4,895.2L229.6,895.1L230.8,895.2L232,895.5L233.2,894.6L234.4,895L235.6,894.2L236.8,895.4L238,895.2L239.2,894.8L240.4,895.2L241.6,895.6L242.8,895.5L244,895.1L245.2,895L246.4,895.1L247.6,894.7L248.8,894.7L250,895L251.2,895.1L252.4,895.2L253.6,894.9L254.8,894.8L256,895.1L257.2,894.9L258.4,895.2L259.6,895.6L260.8,895.5L262,894.8L263.2,894.9L264.4,894.5L265.6,895.1L266.8,894.8L268,894.6L269.2,894.7L270.4,895.3L271.6,895.2L272.8,895.1L274,895.5L275.2,894.9L276.4,894.7L277.6,895.3L278.8,894.3L280,895.2L281.2,895.2L282.4,895.2L283.6,895.4L284.8,894.9L286,895.1L287.2,894.5L288.4,894.9L289.6,894.9L290.8,895.2L292,895.6L293.2,895.1L294.4,895.4L295.6,894.7L296.8,895.1L298,894.5L299.2,894.8L300.4,894.8L301.6,895L302.8,895L304,894.8L305.2,894.7L306.4,895.4L307.6,894.9L308.8,894.1L310,895.1L311.2,895.2L312.4,895.3L313.6,895.6L314.8,894.6L316,895.1L317.2,895L318.4,894.4L319.6,894.1L320.8,895.4L322,894.7L323.2,894.8L324.4,894.9L325.6,894.9L326.8,895.1L328,894.5L329.2,894.8L330.4,894.9L331.6,894.6L332.8,894.7L334,894.9L335.2,894.9L336.4,894.4L337.6,894.9L338.8,895.1L340,895.4L341.2,895.2L342.4,895.5L343.6,895L344.8,895L346,895.8L347.2,895.1L348.4,894.8L349.6,895L350.8,895.4L352,894.6L353.2,895.3L354.4,895.5L355.6,895.5L356.8,895.1L358,894.7L359.2,894.6L360.4,895L361.6,895.5L362.8,895.3L364,895.4L365.2,895.1L366.4,895.7L367.6,895L368.8,894.8L370,895.1L371.2,894.9L372.4,895.4L373.6,895.6L374.8,895.3L376,894.6L377.2,894.6L378.4,895.2L379.6,894.6L380.8,895.1L382,894.4L383.2,894.8L384.4,895.2L385.6,894.7L386.8,895.3L388,895.4L389.2,895.6L390.4,894.9L391.6,895L392.8,895L394,895.2L395.2,894.5L396.4,895.2L397.6,895.3L398.8,894.5L400,894.5L401.2,894.9L402.4,895.6L403.6,895.2L404.8,894.7L406,895L407.2,894.4L408.4,895.5L409.6,894.7L410.8,895.2L412,894.5L413.2,895L414.4,894.6L415.6,895.2L416.8,895.5L418,895.4L419.2,895.2L420.4,895.3L421.6,894.5L422.8,894.4L424,894.8L425.2,895.3L426.4,895L427.6,895.2L428.8,894.4L430,894.8L431.2,894.7L432.4,895.1L433.6,895.7L434.8,895.2L436,895.3L437.2,894.7L438.4,894.8L439.6,895.2L440.8,895L442,894.3L443.2,895.2L444.4,895.2L445.6,894.9L446.8,895.1L448,895L449.2,894.6L450.4,894.2L451.6,895.5L452.8,894.8L454,894.8L455.2,894.8L456.4,894.8L457.6,894.9L458.8,894.4L460,894.9L461.2,894.8L462.4,894.7L463.6,894.7L464.8,894.8L466,894.3L467.2,894.7L468.4,894.6L469.6,894.7L470.8,895L472,894.9L473.2,895L474.4,894.5L475.6,894.8L476.8,894.9L478,894.4L479.2,894.3L480.4,895.2L481.6,893.8L482.8,894.4L484,894.5L485.2,894L486.4,894.3L487.6,894.6L488.8,893.5L490,894.7L491.2,894.3L492.4,893.9L493.6,894.6L494.8,894.2L496,894L497.2,893.1L498.4,894.3L499.6,894L500.8,893.7L502,893.8L503.2,894.2L504.4,893.6L505.6,893.6L506.8,893.4L508,893.1L509.2,893L510.4,893.2L511.6,893.1L512.8,893.5L514,893L515.2,892.8L516.4,892.9L517.6,892.5L518.8,892.7L520,891.6L521.2,891.2L522.4,891.9L523.6,891.3L524.8,891.3L526,890.4L527.2,890.3L528.4,890L529.6,889.7L530.8,889L532,888.8L533.2,887.4L534.4,887L535.6,885.5L536.8,884.5L538,882.7L539.2,881.3L539.6,880.3L540,880.1L540.4,878.9L540.8,878.2L541.2,877.2L541.6,876.3L542,875L542.4,874.4L542.8,872.7L543.2,871.6L543.6,869.7L544,868.4L544.4,866.5L544.8,864.5L545.2,862L545.6,859.7L546,856.9L546.4,853.9L546.8,850.4L547.2,846.5L547.6,842L548,836.9L548.4,831.1L548.8,824.4L549.2,816.7L549.6,807.7L550,797.3L550.4,785.2L550.8,771.3L551.2,755.6L551.6,738.3L552,720.2L552.4,702.4L552.8,687.1L553.2,676.6L553.6,672.8L554,676.5L554.4,687.1L554.8,702.4L555.2,720.1L555.6,738.2L556,755.5L556.4,771.2L556.8,785L557.2,797.1L557.6,807.5L558,816.4L558.4,824.1L558.8,830.8L559.2,836.6L559.6,841.7L560,846L560.4,850L560.8,853.4L561.2,856.5L561.6,859.2L562,861.7L562.4,863.7L562.8,865.7L563.2,867.8L563.6,869.3L564,870.4L564.4,872.1L564.8,873.4L565.2,874.3L565.6,875.4L566,876.3L566.4,877.3L566.8,878L567.2,878.8L568,879.8L569.2,881.7L570.4,882.7L571.6,883.4L572.8,883.2L574,883.7L575.2,883.6L576.4,882.6L577.6,881.6L578.8,880.1L580,879.6L581.2,879.4L582.4,880.9L583.6,883.3L584.8,885.4L586,886.5L587.2,888L588.4,889.2L589.6,890.5L590.8,891.3L592,891L593.2,891.2L594.4,891.5L595.6,892.6L596.8,892L598,892.8L599.2,892.6L600.4,892.8L601.6,893.4L602.8,893.4L604,894.1L605.2,893.8L606.4,894.2L607.6,893.4L608.8,893.7L610,893.4L611.2,893.7L612.4,894.1L613.6,893.8L614.8,894.1L616,893.8L617.2,894L618.4,894.5L619.6,894.2L620.8,894.2L622,894.3L623.2,893.9L624.4,893.6L625.6,894.5L626.8,894.5L628,895.2L629.2,894.4L630.4,894.6L631.6,895.3L632.8,894.4L634,894.3L635.2,894.8L636.4,894.7L637.6,894.9L638.8,894.3L640,895.1L641.2,894.7L642.4,893.9L643.6,894.6L644.8,894.4L646,894.7L647.2,895.1L648.4,894.7L649.6,894.5L650.8,895.1L652,894.5L653.2,894.2L654.4,894.3L655.6,895.3L656.8,895.1L658,895.3L659.2,894.3L660.4,894.5L661.6,894.5L662.8,895.1L664,895.2L665.2,894.7L666.4,894.7L667.6,895.1L668.8,894.7L670,894.5L671.2,894.7L672.4,895.2L673.6,895.6L674.8,894.9L676,894.7L677.2,894.9L678.4,894.9L679.6,895L680.8,894.5L682,894.8L683.2,894.7L684.4,895.2L685.6,895L686.8,894.7L688,895.2L689.2,895.3L690.4,894.9L691.6,894.3L692.8,894.7L694,894.2L695.2,894.8L696.4,894.9L697.6,895.3L698.8,895L700,894.2L701.2,894.6L702.4,894.5L703.6,894.5L704.8,894.7L706,894.8L707.2,894.7L708.4,894.4L709.6,894.5L710.8,894.5L712,894.6L713.2,894.9L714.4,894.7L715.6,895L716.8,894.2L718,895.4L719.2,894.6L720.4,893.6L721.6,894.6L722.8,894.9L724,894.5L725.2,893.9L726.4,894.4L727.6,894.1L728.8,894.3L730,894.4L731.2,893L732.4,894.1L733.6,894.3L734.8,894.2L736,893.7L737.2,893.6L738.4,893.4L739.6,893.5L740.8,893.9L742,893L743.2,893.1L744.4,892.8L745.6,893L746.8,892.3L748,891.9L748.7,891.3L749.1,891.5L749.2,891.1L749.5,890.9L749.9,891L750.3,890.6L750.4,890.6L750.7,890.1L751.1,890.4L751.5,889.7L751.6,889.9L751.9,889.4L752.3,888.9L752.7,888.7L752.8,888.5L753.1,888.3L753.5,887.6L753.9,887.2L754,887L754.3,886.8L754.7,886.1L755.1,885.3L755.2,885.2L755.5,884.6L755.9,883.7L756.3,882.7L756.4,882.4L756.7,881.6L757.1,880.3L757.5,878.9L757.6,878.5L757.9,877.2L758.3,875.3L758.7,873L758.8,872.4L759.1,870.5L759.5,867.5L759.9,864.2L760,863.3L760.3,860.4L760.7,856.3L761.1,852L761.2,850.9L761.5,847.9L761.9,844.3L762.3,841.9L762.4,841.5L762.7,841.1L763.1,841.9L763.5,844.3L763.6,845.1L763.9,847.9L764.3,852L764.7,856.3L764.8,857.3L765.1,860.4L765.5,864.2L765.9,867.5L766,868.3L766.3,870.5L766.7,873.1L767.1,875.3L767.2,875.8L767.5,877.2L767.9,878.9L768.3,880.3L768.4,880.7L768.7,881.6L769.1,882.7L769.5,883.7L769.6,883.9L769.9,884.7L770.3,885.4L770.7,886.1L770.8,886.1L771.1,886.6L771.5,887.3L771.9,887.7L772,888L772.3,888.3L772.7,888.8L773.1,888.8L773.2,889L773.5,889.5L773.9,889.7L774.3,889.8L774.4,890L774.7,890.2L775.1,890.7L775.5,890.9L775.6,890.8L775.9,890.7L776.3,891.4L776.8,891.7L778,891.5L779.2,892.6L780.4,892.2L781.6,892.8L782.8,892.8L784,892.7L785.2,893.2L786.4,893.3L787.6,894.1L788.8,894.1L790,893.7L791.2,893.5L792.4,893.6L793.6,893.3L794.8,894.2L796,894.2L797.2,894L798.4,894.4L799.6,894.5L800.8,894.9L802,894.2L803.2,895L804.4,894.4L805.6,895.2L806.8,894.2L808,895.1L809.2,894.4L810.4,895.3L811.6,894.9L812.8,894.3L814,895.1L815.2,894.8L816.4,895L817.6,895.7L818.8,894.7L820,894.7L821.2,895.3L822.4,894.6L823.6,895.2L824.8,895.3L826,894.9L827.2,895.1L828.4,894L829.6,895.5L830.8,894.6L832,894.5L833.2,895.7L834.4,895.6L835.6,894.7L836.8,895.1L838,894.8L839.2,894.5L840.4,895.1L841.6,895.4L842.8,896L844,894.9L845.2,895.3L846.4,894.9L847.6,894.9L848.8,895.5L850,894.3L851.2,894.6L852.4,894.7L853.6,895.4L854.8,895.2L856,895.2L857.2,895.2L858.4,895.4L859.6,894.8L860.8,894.9L862,894.9L863.2,895.2L864.4,894.5L865.6,895L866.8,896.1L868,895.3L869.2,895.1L870.4,894.7L871.6,895.2L872.8,895.1L874,895.3L875.2,894.8L876.4,895.2L877.6,895.3L878.8,895.3L880,894.8L881.2,895.3L882.4,895.7L883.6,894.8L884.8,895.3L886,894.9L887.2,894.9L888.4,894.6L889.6,894.7L890.8,895.3L892,895.1L893.2,895.6L894.4,894.4L895.6,894.9L896.8,894.5L898,895.2L899.2,895.8L900.4,894.5L901.6,895L902.8,895L904,895.1L905.2,894.8L906.4,894.9L907.6,895.7L908.8,894.7L910,895.3L911.2,895.3L912.4,894.4L913.6,894.7L914.8,895.2L916,895.8L917.2,895L918.4,894.9L919.6,895.1L920.8,895.6L922,895.4L923.2,895.6L924.4,895L925.6,894.8L926.8,894.7L928,895.4L929.2,895L930.4,894.9L931.6,895.3L932.8,895.1L934,894.3L935.2,895L936.4,894.8L937.6,895.3L938.8,895.1L940,895.7L941.2,895.1L942.4,894.6L943.6,894.3L944.8,894.6L946,894.8L947.2,895.1L948.4,895.3L949.6,895.2L950.8,894.9L952,895.4L953.2,894.7L954.4,895.5L955.6,895.8L956.8,895.5L958,895.7L959.2,895.6L960.4,894.7L961.6,895.2L962.8,895L964,894.7L965.2,894.6L966.4,895.3L967.6,894.6L968.8,895L970,895.1L971.2,894.9L972.4,895.6L973.6,895.4L974.8,895.1L976,894.9L977.2,895.2L978.4,895.2L979.6,894.7L980.8,894.6L982,894.8L983.2,894.6L984.4,895.3L985.6,895.2L986.8,895L988,895.2L989.2,895.3L990.4,894.5L991.6,895.2L992.8,895.5L994,894.9L995.2,894.4L996.4,895.1L997.6,894.6L998.8,895.3L1000,895.3L1001.2,895.4L1002.4,895.2L1003.6,894.4L1004.8,895.5L1006,894.5L1007.2,895.5L1008.4,895.2L1009.6,894.8L1010.8,894.9L1012,895L1013.2,895.7L1014.4,895L1015.6,895.5L1016.8,894.1L1018,895.2L1019.2,895L1020.4,895.5L1021.6,895.3L1022.8,895.6L1024,894.7L1025.2,895.2L1026.4,894.9L1027.6,895.4L1028.8,895.3L1030,894.6L1031.2,895.5L1032.4,895.8L1033.6,895L1034.8,895.5L1036,895.3L1037.2,894.8L1038.4,895.4L1039.6,894.8L1040.8,895.4L1042,894.5L1043.2,894.6L1044.4,895.3L1045.6,895.2L1046.8,895.4L1048,895L1049.2,894.7L1050.4,895.7L1051.6,894.8L1052.8,895.6L1054,895.4L1055.2,895.8L1056.4,894.3L1057.6,895.1L1058.8,895L1060,895.4L1061.2,894.7L1062.4,895.9L1063.6,895.1L1064.8,894.3L1066,895.3L1067.2,895.1L1068.4,894.9L1069.6,895.4L1070.8,895.1L1072,894.8L1073.2,895L1074.4,895L1075.6,895.3L1076.8,895L1078,895.1L1079.2,894.6L1080.4,894.8L1081.6,895.2L1082.8,896L1084,894.8L1085.2,894.8L1086.4,895.5L1087.6,895.9L1088.8,895.6L1090,894.8L1091.2,895.5L1092.4,895.3L1093.6,895L1094.8,894.7L1096,895.1L1097.2,895.2L1098.4,895.3L1099.6,894.5L1100.8,894.7L1102,895.2L1103.2,895.6L1104.4,895.4L1105.6,894.9L1106.8,895.4L1108,894.8L1109.2,895L1110.4,895L1111.6,894.9L1112.8,894.9L1114,895.4L1115.2,895.2L1116.4,894.2L1117.6,895.6L1118.8,895.3L1120,894.7L1121.2,895.2L1122.4,895.4L1123.6,895.6L1124.8,894.9L1126,894.7L1127.2,894.6L1128.4,895.1L1129.6,894.7L1130.8,895.5L1132,895.1L1133.2,895.4L1134.4,895.1L1135.6,894.8L1136.8,894.7L1138,895.5L1139.2,894.6L1140.4,895.3L1141.6,895.5L1142.8,895.2L1144,895.7L1145.2,895.1L1146.4,895L1147.6,895.2L1148.8,894.9L1150,895.2L1151.2,895.1L1152.4,895.7L1153.6,895.1L1154.8,895.4L1156,895.3L1157.2,895.2L1158.4,895L1159.6,895.7L1160.8,895.7L1162,895.2L1163.2,894.9L1164.4,895L1165.6,894.8L1166.8,894.6L1168,894.9L1169.2,895.1L1170.4,895.5L1171.6,895.5L1172.8,895.3L1174,895L1175.2,895L1176.4,895.1L1177.6,895.2L1178.8,894.9L1180,895L1181.2,895L1182.4,895L1183.6,895.3L1184.8,895.5L1186,894.9L1187.2,895L1188.4,895.2L1189.6,895.3L1190.8,894.3L1192,895.4L1193.2,895.2L1194.4,895L1195.6,895.6L1196.8,895.1L1198,894.4L1199.2,894.8L1200.4,894.9L1201.6,894.9L1202.8,895.1L1204,894.8L1205.2,895.2L1206.4,895.3L1207.6,895.1L1208.8,894.8L1210,895L1211.2,894.9L1212.4,895.9L1213.6,894.7L1214.8,894.2L1216,894.6L1217.2,895.2L1218.4,895.4L1219.6,895L1220.8,895.5L1222,894.8L1223.2,895.3L1224.4,894.7L1225.6,894.6L1226.8,895.9L1228,895L1229.2,895.4L1230.4,895.6L1231.6,895.3L1232.8,895.2L1234,894.7L1235.2,895.7L1236.4,894.7L1237.6,894.3L1238.8,894.9L1240,894.9L1241.2,895.1L1242.4,895.6L1243.6,894.9L1244.8,895L1246,894.8L1247.2,894.1L1248.4,894.8L1249.6,894.9L1250.8,894.5L1252,895.6L1253.2,895.5L1254.4,895.2L1255.6,895.4L1256.8,894.8L1258,895.2L1259.2,894.4L1260.4,894.5L1261.6,894.8L1262.8,895.3L1264,894.9L1265.2,894.8L1266.4,895.5L1267.6,895L1268.8,894.8L1270,895L1271.2,894.5L1272.4,894.6L1273.6,895.4L1274.8,895.1L1276,895.4L1277.2,894.9L1278.4,895.4L1279.6,894.7L1280.8,894.9L1282,894.7L1283.2,895.2L1284.4,895.6L1285.6,894.4L1286.8,895.2L1288,894.6L1289.2,894.9L1290.4,894.8L1291.6,894.4L1292.8,895L1294,894.6L1295.2,895.7L1296.4,894.8L1297.6,895.2L1298.8,895.1L1300,895.1L1301.2,895L1302.4,894.5L1303.6,895.8L1304.8,895.1L1306,895.4L1307.2,894.6L1308.4,895.2L1309.6,894.9L1310.8,895.2L1312,894.8L1313.2,894.7L1314.4,895.2L1315.6,895.1L1316.8,895.6L1318,895L1319.2,894.7L1320.4,895.3L1321.6,894.6L1322.8,895.9L1324,895.8L1325.2,895.6L1326.4,895.2L1327.6,895.1L1328.8,895.1L1330,895.1L1331.2,894.8L1332.4,895.2L1333.6,895.5L1334.8,895.5L1336,894.3L1337.2,895.9L1338.4,895.1L1339.6,894.5L1340.8,894.9L1342,895.4L1343.2,895L1344.4,894.7L1345.6,894.6L1346.8,895.4L1348,894.7L1349.2,894.9L1350.4,894.6L1351.6,894.5L1352.8,895.2L1354,895.6L1355.2,894.9L1356.4,894.3L1357.6,894.8L1358.8,894.9L1360,894.1L1361.2,895.4L1362.4,894.7L1363.6,895.2L1364.8,895L1366,895L1367.2,894.4L1368.4,895.3L1369.6,895.2L1370.8,895.6L1372,894.8L1373.2,895.1L1374.4,894.8L1375.6,895.4L1376.8,895.1L1378,894.6L1379.2,895L1380.4,894.7L1381.6,894.7L1382.8,895.1L1384,895.5L1385.2,894.5L1386.4,894.8L1387.6,894.5L1388.8,895.7L1390,895.5L1391.2,895.7L1392.4,895.2L1393.6,894.5L1394.8,894.6L1396,894.9L1397.2,894.8L1398.4,894.5L1399.6,894.9L1400.8,894.6L1402,894.7L1403.2,895.6L1404.4,894.9L1405.6,894.2L1406.8,894.9L1408,894.8L1409.2,894.9L1410.4,894.8L1411.6,894.2L1412.8,894.7L1414,895L1415.2,895.7L1416.4,894.7L1417.6,895.2L1418.8,895.2L1420,894.1L1421.2,894.1L1422.4,895.1L1423.6,894L1424.8,894.1L1426,894.5L1427.2,893.8L1428.4,894.7L1429.6,894.4L1430.8,894.5L1432,894.2L1433.2,893.4L1434.4,894.1L1435.6,893.9L1436.8,893.7L1438,893.1L1439.2,893.1L1440.4,892.5L1441.6,892.8L1442.8,892.8L1444,892.1L1445.2,891.6L1446.4,891.4L1447.6,890.5L1448.8,889.4L1449.2,889.9L1449.6,889.4L1450,888.9L1450.4,889L1450.8,888.7L1451.2,888.4L1451.6,887.8L1452,887.4L1452.4,887L1452.8,886.5L1453.2,885.9L1453.6,885.4L1454,884.9L1454.4,884.2L1454.8,883.4L1455.2,882.6L1455.6,881.7L1456,880.7L1456.4,879.6L1456.8,878.4L1457.2,877L1457.6,875.5L1458,873.7L1458.4,871.9L1458.8,869.8L1459.2,867.5L1459.6,865L1460,862.3L1460.4,859.5L1460.8,856.7L1461.2,854L1461.6,851.7L1462,849.8L1462.4,848.6L1462.8,848.1L1463.2,848.6L1463.6,849.8L1464,851.7L1464.4,854L1464.8,856.7L1465.2,859.5L1465.6,862.3L1466,864.9L1466.4,867.4L1466.8,869.7L1467.2,871.8L1467.6,873.7L1468,875.4L1468.4,877L1468.8,878.4L1469.2,879.6L1469.6,880.7L1470,881.7L1470.4,882.6L1470.8,883.4L1471.2,884.2L1471.6,884.8L1472,885.5L1472.4,886L1472.8,886.3L1473.2,886.8L1473.6,887.3L1474,887.8L1474.4,888.4L1474.8,888.4L1475.2,888.9L1475.6,889.1L1476,889.6L1476.4,889.7L1477.6,890.5L1478.8,890.9L1480,890.9L1481.2,891.7L1482.4,892.8L1483.6,892.8L1484.8,893.3L1486,893.2L1487.2,892.9L1488.4,893.1L1489.6,893.7L1490.8,893.5L1492,894L1493.2,894.3L1494.4,894.4L1495.6,894.3L1496.8,893.5L1498,894.6L1499.2,893.7L1500.4,893.7L1501.6,894.3L1502.8,894.3L1504,894.6L1505.2,894.4L1506.4,894.2L1507.6,894.5L1508.8,894.1L1510,894.1L1511.2,894.4L1512.4,894.5L1513.6,894.6L1514.8,894.5L1516,895.1L1517.2,894.5L1518.4,894.6L1519.6,895L1520.8,893.9L1522,895.1L1523.2,895.1L1524.4,894.7L1525.6,895.5L1526.8,895.1L1528,895.4L1529.2,895.2L1530.4,894.9L1531.6,894.7L1532.8,894.4L1534,894.5L1535.2,894.4L1536.4,894.6L1537.6,895L1538.8,894.4L1540,895L1541.2,895.1L1542.4,894.3L1543.6,894.5L1544.8,894.8L1546,894.6L1547.2,894.5L1548.4,895.3L1549.6,894.9L1550.8,895.3L1552,894.8L1553.2,895.1L1554.4,894.3L1555.6,894.6L1556.8,895.1L1558,894.7L1559.2,895.2L1560.4,894.7L1561.6,894.5L1562.8,894.5L1564,895.3L1565.2,894.7L1566.4,894.3L1567.6,894.3L1568.8,893.9L1570,894.7L1571.2,893.8L1572.4,894.1L1573.6,893.6L1574.8,893.2L1576,892.7L1577.2,892.7L1578.4,891.8L1579.6,891.5L1580.8,890.7L1582,889.1L1583.2,888.7L1584.4,889.2L1585.6,889.4L1586.8,889.9L1588,890.2L1589.2,891.3L1590.4,892L1591.6,893.5L1592.8,893.3L1594,893.4L1595.2,893.7L1596.4,893.9L1597.6,894.3L1598.8,893.6L1600,893.8L1601.2,894.5L1602.4,894.9L1603.6,893.8L1604.8,894.9L1606,894.3L1607.2,894L1608.4,895.1L1609.6,894.7L1610.8,895L1612,894.7L1613.2,894.8L1614.4,894.2L1615.6,894.7L1616.8,894.9L1618,894.5L1619.2,895.1L1620.4,895.1L1621.6,894.1L1622.8,895.3L1624,895.2L1625.2,895L1626.4,895.4L1627.6,895.8L1628.8,894.6L1630,895.3L1631.2,895.2L1632.4,895.2L1633.6,895.4L1634.8,895.5L1636,895L1637.2,894.1L1638.4,894.8L1639.6,894.8L1640.8,895.6L1642,895.1L1643.2,895.5L1644.4,894.8L1645.6,895.2L1646.8,895.1L1648,895.1L1649.2,895.3L1650.4,895.7L1651.6,894.9L1652.8,895.6L1654,895.5L1655.2,895.2L1656.4,895.4L1657.6,895L1658.8,894.7L1660,895L1661.2,895L1662.4,895.1L1663.6,894.8L1664.8,895.8L1666,895L1667.2,895.5L1668.4,895.6L1669.6,895.1L1670.8,895.3L1672,894.9L1673.2,894.7L1674.4,896L1675.6,895.1L1676.8,894.4L1678,894.8L1679.2,894.6L1680.4,895.1L1681.6,895.7L1682.8,895.5L1684,894.9L1685.2,894.8L1686.4,895.4L1687.6,895.2L1688.8,895L1690,895.8L1691.2,895.3L1692.4,894.5L1693.6,894.3L1694.8,895.2L1696,894.4L1697.2,895.3L1698.4,895.4L1699.6,896L1700.8,894.8L1702,895.3L1703.2,894.2L1704.4,895L1705.6,895.1L1706.8,895.8L1708,894.6L1709.2,895.3L1710.4,895.2L1711.6,896L1712.8,894.8L1714,894.8L1715.2,895.4L1716.4,895.1L1717.6,895L1718.8,894.8L1720,895.1L1721.2,894.5L1722.4,895.2L1723.6,895.4L1724.8,895.3L1726,896.1L1727.2,895.4L1728.4,894.8L1729.6,895L1730.8,895.5L1732,895L1733.2,895.9L1734.4,895.2L1735.6,894.9L1736.8,894.9L1738,895.4L1739.2,894.8L1740.4,894.4L1741.6,895.3L1742.8,894.9L1744,895.7L1745.2,895.9L1746.4,894.9L1747.6,895.1L1748.8,895.1L1750,895.4L1751.2,895.3L1752.4,894.8L1753.6,894.5L1754.8,895.2L1756,895.8L1757.2,894.7L1758.4,894.9L1759.6,894.9L1760.8,895.1L1762,894.3L1763.2,895.1L1764.4,894.9L1765.6,895.8L1766.8,895.4L1768,895.4L1769.2,895.2L1770.4,895L1771.6,895.4L1772.8,894.5L1772.8,897.2L1771.6,898.1L1770.4,897.7L1769.2,897.9L1768,898.1L1766.8,898.1L1765.6,898.5L1764.4,897.6L1763.2,897.8L1762,897L1760.8,897.8L1759.6,897.6L1758.4,897.6L1757.2,897.4L1756,898.5L1754.8,897.9L1753.6,897.2L1752.4,897.5L1751.2,898L1750,898.1L1748.8,897.8L1747.6,897.8L1746.4,897.6L1745.2,898.6L1744,898.4L1742.8,897.6L1741.6,898L1740.4,897.1L1739.2,897.5L1738,898.1L1736.8,897.6L1735.6,897.6L1734.4,897.9L1733.2,898.6L1732,897.7L1730.8,898.2L1729.6,897.7L1728.4,897.5L1727.2,898.1L1726,898.8L1724.8,898L1723.6,898.1L1722.4,897.9L1721.2,897.2L1720,897.8L1718.8,897.5L1717.6,897.7L1716.4,897.8L1715.2,898.1L1714,897.5L1712.8,897.5L1711.6,898.7L1710.4,897.9L1709.2,898L1708,897.3L1706.8,898.5L1705.6,897.8L1704.4,897.7L1703.2,896.9L1702,898L1700.8,897.5L1699.6,898.7L1698.4,898.1L1697.2,898L1696,897.1L1694.8,897.9L1693.6,897L1692.4,897.2L1691.2,898L1690,898.5L1688.8,897.7L1687.6,897.9L1686.4,898.1L1685.2,897.5L1684,897.6L1682.8,898.2L1681.6,898.4L1680.4,897.8L1679.2,897.3L1678,897.5L1676.8,897.1L1675.6,897.8L1674.4,898.7L1673.2,897.4L1672,897.6L1670.8,898L1669.6,897.8L1668.4,898.3L1667.2,898.2L1666,897.7L1664.8,898.5L1663.6,897.5L1662.4,897.8L1661.2,897.7L1660,897.7L1658.8,897.4L1657.6,897.7L1656.4,898.1L1655.2,897.9L1654,898.2L1652.8,898.3L1651.6,897.6L1650.4,898.4L1649.2,898L1648,897.8L1646.8,897.8L1645.6,897.9L1644.4,897.5L1643.2,898.2L1642,897.8L1640.8,898.3L1639.6,897.5L1638.4,897.5L1637.2,896.8L1636,897.7L1634.8,898.2L1633.6,898.1L1632.4,897.9L1631.2,897.9L1630,898L1628.8,897.3L1627.6,898.5L1626.4,898.1L1625.2,897.7L1624,897.9L1622.8,898L1621.6,896.8L1620.4,897.8L1619.2,897.8L1618,897.2L1616.8,897.6L1615.6,897.4L1614.4,896.9L1613.2,897.5L1612,897.4L1610.8,897.7L1609.6,897.4L1608.4,897.8L1607.2,896.7L1606,897L1604.8,897.6L1603.6,896.5L1602.4,897.6L1601.2,897.2L1600,896.5L1598.8,896.3L1597.6,897L1596.4,896.6L1595.2,896.4L1594,896.1L1592.8,896L1591.6,896.2L1590.4,894.7L1589.2,894L1588,892.9L1586.8,892.6L1585.6,892.1L1584.4,891.9L1583.2,891.4L1582,891.8L1580.8,893.4L1579.6,894.2L1578.4,894.5L1577.2,895.4L1576,895.4L1574.8,895.9L1573.6,896.3L1572.4,896.8L1571.2,896.5L1570,897.4L1568.8,896.6L1567.6,897L1566.4,897L1565.2,897.4L1564,898L1562.8,897.2L1561.6,897.2L1560.4,897.4L1559.2,897.9L1558,897.4L1556.8,897.8L1555.6,897.3L1554.4,897L1553.2,897.8L1552,897.5L1550.8,898L1549.6,897.6L1548.4,898L1547.2,897.2L1546,897.3L1544.8,897.5L1543.6,897.2L1542.4,897L1541.2,897.8L1540,897.7L1538.8,897.1L1537.6,897.7L1536.4,897.3L1535.2,897.1L1534,897.2L1532.8,897.1L1531.6,897.4L1530.4,897.6L1529.2,897.9L1528,898.1L1526.8,897.8L1525.6,898.2L1524.4,897.4L1523.2,897.8L1522,897.8L1520.8,896.6L1519.6,897.7L1518.4,897.3L1517.2,897.2L1516,897.8L1514.8,897.2L1513.6,897.3L1512.4,897.2L1511.2,897.1L1510,896.8L1508.8,896.8L1507.6,897.2L1506.4,896.9L1505.2,897.1L1504,897.3L1502.8,897L1501.6,897L1500.4,896.4L1499.2,896.4L1498,897.3L1496.8,896.2L1495.6,897L1494.4,897.1L1493.2,897L1492,896.7L1490.8,896.2L1489.6,896.4L1488.4,895.8L1487.2,895.6L1486,895.9L1484.8,896L1483.6,895.5L1482.4,895.5L1481.2,894.4L1480,893.6L1478.8,893.6L1477.6,893.2L1476.4,892.4L1476,892.3L1475.6,891.8L1475.2,891.6L1474.8,891.1L1474.4,891.1L1474,890.5L1473.6,890L1473.2,889.5L1472.8,889L1472.4,888.7L1472,888.2L1471.6,887.5L1471.2,886.9L1470.8,886.1L1470.4,885.3L1470,884.4L1469.6,883.4L1469.2,882.3L1468.8,881.1L1468.4,879.7L1468,878.1L1467.6,876.4L1467.2,874.5L1466.8,872.4L1466.4,870.1L1466,867.6L1465.6,865L1465.2,862.2L1464.8,859.4L1464.4,856.7L1464,854.4L1463.6,852.5L1463.2,851.3L1462.8,850.8L1462.4,851.3L1462,852.5L1461.6,854.4L1461.2,856.7L1460.8,859.4L1460.4,862.2L1460,865L1459.6,867.7L1459.2,870.2L1458.8,872.5L1458.4,874.6L1458,876.4L1457.6,878.2L1457.2,879.7L1456.8,881.1L1456.4,882.3L1456,883.4L1455.6,884.4L1455.2,885.3L1454.8,886.1L1454.4,886.9L1454,887.6L1453.6,888.1L1453.2,888.6L1452.8,889.2L1452.4,889.7L1452,890.1L1451.6,890.5L1451.2,891.1L1450.8,891.4L1450.4,891.7L1450,891.6L1449.6,892.1L1449.2,892.6L1448.8,892.1L1447.6,893.2L1446.4,894.1L1445.2,894.3L1444,894.8L1442.8,895.5L1441.6,895.5L1440.4,895.2L1439.2,895.8L1438,895.8L1436.8,896.4L1435.6,896.6L1434.4,896.8L1433.2,896.1L1432,896.9L1430.8,897.2L1429.6,897.1L1428.4,897.4L1427.2,896.5L1426,897.2L1424.8,896.8L1423.6,896.7L1422.4,897.8L1421.2,896.8L1420,896.8L1418.8,897.9L1417.6,897.9L1416.4,897.4L1415.2,898.4L1414,897.7L1412.8,897.4L1411.6,896.9L1410.4,897.5L1409.2,897.6L1408,897.5L1406.8,897.6L1405.6,896.9L1404.4,897.6L1403.2,898.3L1402,897.4L1400.8,897.3L1399.6,897.6L1398.4,897.2L1397.2,897.5L1396,897.6L1394.8,897.3L1393.6,897.2L1392.4,897.9L1391.2,898.4L1390,898.2L1388.8,898.4L1387.6,897.2L1386.4,897.5L1385.2,897.2L1384,898.2L1382.8,897.8L1381.6,897.4L1380.4,897.4L1379.2,897.7L1378,897.3L1376.8,897.8L1375.6,898.1L1374.4,897.5L1373.2,897.8L1372,897.5L1370.8,898.3L1369.6,897.9L1368.4,898L1367.2,897.1L1366,897.7L1364.8,897.7L1363.6,897.9L1362.4,897.4L1361.2,898.1L1360,896.8L1358.8,897.6L1357.6,897.5L1356.4,897L1355.2,897.6L1354,898.3L1352.8,897.9L1351.6,897.2L1350.4,897.3L1349.2,897.6L1348,897.4L1346.8,898.1L1345.6,897.3L1344.4,897.4L1343.2,897.7L1342,898.1L1340.8,897.6L1339.6,897.2L1338.4,897.8L1337.2,898.6L1336,897L1334.8,898.2L1333.6,898.2L1332.4,897.9L1331.2,897.5L1330,897.8L1328.8,897.8L1327.6,897.8L1326.4,897.9L1325.2,898.3L1324,898.5L1322.8,898.6L1321.6,897.3L1320.4,898L1319.2,897.4L1318,897.7L1316.8,898.3L1315.6,897.8L1314.4,897.9L1313.2,897.4L1312,897.5L1310.8,897.9L1309.6,897.6L1308.4,897.9L1307.2,897.3L1306,898.1L1304.8,897.8L1303.6,898.5L1302.4,897.2L1301.2,897.7L1300,897.8L1298.8,897.8L1297.6,897.9L1296.4,897.5L1295.2,898.4L1294,897.3L1292.8,897.7L1291.6,897.1L1290.4,897.5L1289.2,897.6L1288,897.3L1286.8,897.9L1285.6,897.1L1284.4,898.3L1283.2,897.9L1282,897.4L1280.8,897.6L1279.6,897.4L1278.4,898.1L1277.2,897.6L1276,898.1L1274.8,897.8L1273.6,898.1L1272.4,897.3L1271.2,897.2L1270,897.7L1268.8,897.5L1267.6,897.7L1266.4,898.2L1265.2,897.5L1264,897.6L1262.8,898L1261.6,897.5L1260.4,897.2L1259.2,897.1L1258,897.9L1256.8,897.5L1255.6,898.1L1254.4,897.9L1253.2,898.2L1252,898.3L1250.8,897.2L1249.6,897.6L1248.4,897.5L1247.2,896.8L1246,897.5L1244.8,897.7L1243.6,897.6L1242.4,898.3L1241.2,897.8L1240,897.6L1238.8,897.6L1237.6,897L1236.4,897.4L1235.2,898.4L1234,897.4L1232.8,897.9L1231.6,898L1230.4,898.3L1229.2,898.1L1228,897.7L1226.8,898.6L1225.6,897.3L1224.4,897.4L1223.2,898L1222,897.5L1220.8,898.2L1219.6,897.7L1218.4,898.1L1217.2,897.9L1216,897.3L1214.8,896.9L1213.6,897.4L1212.4,898.6L1211.2,897.6L1210,897.7L1208.8,897.5L1207.6,897.8L1206.4,898L1205.2,897.9L1204,897.5L1202.8,897.8L1201.6,897.6L1200.4,897.6L1199.2,897.5L1198,897.1L1196.8,897.8L1195.6,898.3L1194.4,897.7L1193.2,897.9L1192,898.1L1190.8,897L1189.6,898L1188.4,897.9L1187.2,897.7L1186,897.6L1184.8,898.2L1183.6,898L1182.4,897.7L1181.2,897.7L1180,897.7L1178.8,897.6L1177.6,897.9L1176.4,897.8L1175.2,897.7L1174,897.7L1172.8,898L1171.6,898.2L1170.4,898.2L1169.2,897.8L1168,897.6L1166.8,897.3L1165.6,897.5L1164.4,897.7L1163.2,897.6L1162,897.9L1160.8,898.4L1159.6,898.4L1158.4,897.7L1157.2,897.9L1156,898L1154.8,898.1L1153.6,897.8L1152.4,898.4L1151.2,897.8L1150,897.9L1148.8,897.6L1147.6,897.9L1146.4,897.7L1145.2,897.8L1144,898.4L1142.8,897.9L1141.6,898.2L1140.4,898L1139.2,897.3L1138,898.2L1136.8,897.4L1135.6,897.5L1134.4,897.8L1133.2,898.1L1132,897.8L1130.8,898.2L1129.6,897.4L1128.4,897.8L1127.2,897.3L1126,897.4L1124.8,897.6L1123.6,898.3L1122.4,898.1L1121.2,897.9L1120,897.4L1118.8,898L1117.6,898.3L1116.4,896.9L1115.2,897.9L1114,898.1L1112.8,897.6L1111.6,897.6L1110.4,897.7L1109.2,897.7L1108,897.5L1106.8,898.1L1105.6,897.6L1104.4,898.1L1103.2,898.3L1102,897.9L1100.8,897.4L1099.6,897.2L1098.4,898L1097.2,897.9L1096,897.8L1094.8,897.4L1093.6,897.7L1092.4,898L1091.2,898.2L1090,897.5L1088.8,898.3L1087.6,898.6L1086.4,898.2L1085.2,897.5L1084,897.5L1082.8,898.7L1081.6,897.9L1080.4,897.5L1079.2,897.3L1078,897.8L1076.8,897.7L1075.6,898L1074.4,897.7L1073.2,897.7L1072,897.5L1070.8,897.8L1069.6,898.1L1068.4,897.6L1067.2,897.8L1066,898L1064.8,897L1063.6,897.8L1062.4,898.6L1061.2,897.4L1060,898.1L1058.8,897.7L1057.6,897.8L1056.4,897L1055.2,898.5L1054,898.1L1052.8,898.3L1051.6,897.5L1050.4,898.4L1049.2,897.4L1048,897.7L1046.8,898.1L1045.6,897.9L1044.4,898L1043.2,897.3L1042,897.2L1040.8,898.1L1039.6,897.5L1038.4,898.1L1037.2,897.5L1036,898L1034.8,898.2L1033.6,897.7L1032.4,898.5L1031.2,898.2L1030,897.3L1028.8,898L1027.6,898.1L1026.4,897.6L1025.2,897.9L1024,897.4L1022.8,898.3L1021.6,898L1020.4,898.2L1019.2,897.7L1018,897.9L1016.8,896.8L1015.6,898.2L1014.4,897.7L1013.2,898.4L1012,897.7L1010.8,897.6L1009.6,897.5L1008.4,897.9L1007.2,898.2L1006,897.2L1004.8,898.2L1003.6,897.1L1002.4,897.9L1001.2,898.1L1000,898L998.8,898L997.6,897.3L996.4,897.8L995.2,897.1L994,897.6L992.8,898.2L991.6,897.9L990.4,897.2L989.2,898L988,897.9L986.8,897.7L985.6,897.9L984.4,898L983.2,897.3L982,897.5L980.8,897.3L979.6,897.4L978.4,897.9L977.2,897.9L976,897.6L974.8,897.8L973.6,898.1L972.4,898.3L971.2,897.6L970,897.8L968.8,897.7L967.6,897.3L966.4,898L965.2,897.3L964,897.4L962.8,897.7L961.6,897.9L960.4,897.4L959.2,898.3L958,898.4L956.8,898.2L955.6,898.5L954.4,898.2L953.2,897.4L952,898.1L950.8,897.6L949.6,897.9L948.4,898L947.2,897.8L946,897.5L944.8,897.3L943.6,897L942.4,897.3L941.2,897.8L940,898.4L938.8,897.8L937.6,898L936.4,897.5L935.2,897.7L934,897L932.8,897.8L931.6,898L930.4,897.6L929.2,897.7L928,898.1L926.8,897.4L925.6,897.5L924.4,897.7L923.2,898.3L922,898.1L920.8,898.3L919.6,897.8L918.4,897.6L917.2,897.7L916,898.5L914.8,897.9L913.6,897.4L912.4,897.1L911.2,898L910,898L908.8,897.4L907.6,898.4L906.4,897.6L905.2,897.5L904,897.8L902.8,897.7L901.6,897.7L900.4,897.2L899.2,898.5L898,897.9L896.8,897.2L895.6,897.6L894.4,897.1L893.2,898.3L892,897.8L890.8,898L889.6,897.4L888.4,897.3L887.2,897.6L886,897.6L884.8,898L883.6,897.5L882.4,898.4L881.2,898L880,897.5L878.8,898L877.6,898L876.4,897.9L875.2,897.5L874,898L872.8,897.8L871.6,897.9L870.4,897.4L869.2,897.8L868,898L866.8,898.8L865.6,897.7L864.4,897.2L863.2,897.9L862,897.6L860.8,897.6L859.6,897.5L858.4,898.1L857.2,897.9L856,897.9L854.8,897.9L853.6,898.1L852.4,897.4L851.2,897.3L850,897L848.8,898.2L847.6,897.6L846.4,897.6L845.2,898L844,897.6L842.8,898.7L841.6,898.1L840.4,897.8L839.2,897.2L838,897.5L836.8,897.8L835.6,897.4L834.4,898.3L833.2,898.4L832,897.2L830.8,897.3L829.6,898.2L828.4,896.7L827.2,897.8L826,897.6L824.8,898L823.6,897.9L822.4,897.3L821.2,898L820,897.4L818.8,897.4L817.6,898.4L816.4,897.7L815.2,897.5L814,897.8L812.8,897L811.6,897.6L810.4,898L809.2,897.1L808,897.8L806.8,896.9L805.6,897.9L804.4,897.1L803.2,897.7L802,896.9L800.8,897.6L799.6,897.2L798.4,897.1L797.2,896.7L796,896.9L794.8,896.9L793.6,896L792.4,896.3L791.2,896.2L790,896.4L788.8,896.8L787.6,896.8L786.4,896L785.2,895.9L784,895.4L782.8,895.5L781.6,895.5L780.4,894.9L779.2,895.3L778,894.2L776.8,894.4L776.3,894.1L775.9,893.4L775.6,893.5L775.5,893.6L775.1,893.4L774.7,892.9L774.4,892.7L774.3,892.5L773.9,892.4L773.5,892.2L773.2,891.7L773.1,891.5L772.7,891.5L772.3,891L772,890.7L771.9,890.4L771.5,890L771.1,889.3L770.8,888.8L770.7,888.8L770.3,888.1L769.9,887.4L769.6,886.6L769.5,886.4L769.1,885.4L768.7,884.3L768.4,883.4L768.3,883L767.9,881.6L767.5,879.9L767.2,878.5L767.1,878L766.7,875.8L766.3,873.2L766,871L765.9,870.2L765.5,866.9L765.1,863.1L764.8,860L764.7,859L764.3,854.7L763.9,850.6L763.6,847.8L763.5,847L763.1,844.6L762.7,843.8L762.4,844.2L762.3,844.6L761.9,847L761.5,850.6L761.2,853.6L761.1,854.7L760.7,859L760.3,863.1L760,866L759.9,866.9L759.5,870.2L759.1,873.2L758.8,875.1L758.7,875.7L758.3,878L757.9,879.9L757.6,881.2L757.5,881.6L757.1,883L756.7,884.3L756.4,885.1L756.3,885.4L755.9,886.4L755.5,887.3L755.2,887.9L755.1,888L754.7,888.8L754.3,889.5L754,889.7L753.9,889.9L753.5,890.3L753.1,891L752.8,891.2L752.7,891.4L752.3,891.6L751.9,892.1L751.6,892.6L751.5,892.4L751.1,893.1L750.7,892.8L750.4,893.3L750.3,893.3L749.9,893.7L749.5,893.6L749.2,893.8L749.1,894.2L748.7,894L748,894.6L746.8,895L745.6,895.7L744.4,895.5L743.2,895.8L742,895.7L740.8,896.6L739.6,896.2L738.4,896.1L737.2,896.3L736,896.4L734.8,896.9L733.6,897L732.4,896.8L731.2,895.7L730,897.1L728.8,897L727.6,896.8L726.4,897.1L725.2,896.6L724,897.2L722.8,897.6L721.6,897.3L720.4,896.3L719.2,897.3L718,898.1L716.8,896.9L715.6,897.7L714.4,897.4L713.2,897.6L712,897.3L710.8,897.2L709.6,897.2L708.4,897.1L707.2,897.4L706,897.5L704.8,897.4L703.6,897.2L702.4,897.2L701.2,897.3L700,896.9L698.8,897.7L697.6,898L696.4,897.6L695.2,897.5L694,896.9L692.8,897.4L691.6,897L690.4,897.6L689.2,898L688,897.9L686.8,897.4L685.6,897.7L684.4,897.9L683.2,897.4L682,897.5L680.8,897.2L679.6,897.7L678.4,897.6L677.2,897.6L676,897.4L674.8,897.6L673.6,898.3L672.4,897.9L671.2,897.4L670,897.2L668.8,897.4L667.6,897.8L666.4,897.4L665.2,897.4L664,897.9L662.8,897.8L661.6,897.2L660.4,897.2L659.2,897L658,898L656.8,897.8L655.6,898L654.4,897L653.2,896.9L652,897.2L650.8,897.8L649.6,897.2L648.4,897.4L647.2,897.8L646,897.4L644.8,897.1L643.6,897.3L642.4,896.6L641.2,897.4L640,897.8L638.8,897L637.6,897.6L636.4,897.4L635.2,897.5L634,897L632.8,897.1L631.6,898L630.4,897.3L629.2,897.1L628,897.9L626.8,897.2L625.6,897.2L624.4,896.3L623.2,896.6L622,897L620.8,896.9L619.6,896.9L618.4,897.2L617.2,896.7L616,896.5L614.8,896.8L613.6,896.5L612.4,896.8L611.2,896.4L610,896.1L608.8,896.4L607.6,896.1L606.4,896.9L605.2,896.5L604,896.8L602.8,896.1L601.6,896.1L600.4,895.5L599.2,895.3L598,895.5L596.8,894.7L595.6,895.3L594.4,894.2L593.2,893.9L592,893.7L590.8,894L589.6,893.2L588.4,891.9L587.2,890.7L586,889.2L584.8,888.1L583.6,886L582.4,883.6L581.2,882.1L580,882.3L578.8,882.8L577.6,884.3L576.4,885.3L575.2,886.3L574,886.4L572.8,885.9L571.6,886.1L570.4,885.4L569.2,884.4L568,882.5L567.2,881.5L566.8,880.7L566.4,880L566,879L565.6,878.1L565.2,877L564.8,876.1L564.4,874.8L564,873.1L563.6,872L563.2,870.5L562.8,868.4L562.4,866.4L562,864.4L561.6,861.9L561.2,859.2L560.8,856.1L560.4,852.7L560,848.7L559.6,844.4L559.2,839.3L558.8,833.5L558.4,826.8L558,819.1L557.6,810.2L557.2,799.8L556.8,787.7L556.4,773.9L556,758.2L555.6,740.9L555.2,722.8L554.8,705.1L554.4,689.8L554,679.2L553.6,675.5L553.2,679.3L552.8,689.8L552.4,705.1L552,722.9L551.6,741L551.2,758.3L550.8,774L550.4,787.9L550,800L549.6,810.4L549.2,819.4L548.8,827.1L548.4,833.8L548,839.6L547.6,844.7L547.2,849.2L546.8,853.1L546.4,856.6L546,859.6L545.6,862.4L545.2,864.7L544.8,867.2L544.4,869.2L544,871.1L543.6,872.4L543.2,874.3L542.8,875.4L542.4,877.1L542,877.7L541.6,879L541.2,879.9L540.8,880.9L540.4,881.6L540,882.8L539.6,883L539.2,884L538,885.4L536.8,887.2L535.6,888.2L534.4,889.7L533.2,890.1L532,891.5L530.8,891.7L529.6,892.4L528.4,892.7L527.2,893L526,893.1L524.8,894L523.6,894L522.4,894.6L521.2,893.9L520,894.3L518.8,895.4L517.6,895.2L516.4,895.6L515.2,895.5L514,895.7L512.8,896.2L511.6,895.8L510.4,895.9L509.2,895.7L508,895.8L506.8,896.1L505.6,896.3L504.4,896.3L503.2,896.9L502,896.5L500.8,896.4L499.6,896.7L498.4,897L497.2,895.8L496,896.7L494.8,896.9L493.6,897.3L492.4,896.6L491.2,897L490,897.4L488.8,896.2L487.6,897.3L486.4,897L485.2,896.7L484,897.2L482.8,897.1L481.6,896.5L480.4,897.9L479.2,897L478,897.1L476.8,897.6L475.6,897.5L474.4,897.2L473.2,897.7L472,897.6L470.8,897.7L469.6,897.4L468.4,897.3L467.2,897.4L466,897L464.8,897.5L463.6,897.4L462.4,897.4L461.2,897.5L460,897.6L458.8,897.1L457.6,897.6L456.4,897.5L455.2,897.5L454,897.5L452.8,897.5L451.6,898.2L450.4,896.9L449.2,897.3L448,897.7L446.8,897.8L445.6,897.6L444.4,897.9L443.2,897.9L442,897L440.8,897.7L439.6,897.9L438.4,897.5L437.2,897.4L436,898L434.8,897.9L433.6,898.4L432.4,897.8L431.2,897.4L430,897.5L428.8,897.1L427.6,897.9L426.4,897.7L425.2,898L424,897.5L422.8,897.1L421.6,897.2L420.4,898L419.2,897.9L418,898.1L416.8,898.2L415.6,897.9L414.4,897.3L413.2,897.7L412,897.2L410.8,897.9L409.6,897.4L408.4,898.2L407.2,897.1L406,897.7L404.8,897.4L403.6,897.9L402.4,898.3L401.2,897.6L400,897.2L398.8,897.2L397.6,898L396.4,897.9L395.2,897.2L394,897.9L392.8,897.7L391.6,897.7L390.4,897.6L389.2,898.3L388,898.1L386.8,898L385.6,897.4L384.4,897.9L383.2,897.5L382,897.1L380.8,897.8L379.6,897.3L378.4,897.9L377.2,897.3L376,897.3L374.8,898L373.6,898.3L372.4,898.1L371.2,897.6L370,897.8L368.8,897.5L367.6,897.7L366.4,898.4L365.2,897.8L364,898.1L362.8,898L361.6,898.2L360.4,897.7L359.2,897.3L358,897.4L356.8,897.8L355.6,898.2L354.4,898.2L353.2,898L352,897.3L350.8,898.1L349.6,897.7L348.4,897.5L347.2,897.8L346,898.5L344.8,897.7L343.6,897.7L342.4,898.2L341.2,897.9L340,898.1L338.8,897.8L337.6,897.6L336.4,897.1L335.2,897.6L334,897.6L332.8,897.4L331.6,897.3L330.4,897.6L329.2,897.5L328,897.2L326.8,897.8L325.6,897.6L324.4,897.6L323.2,897.5L322,897.4L320.8,898.1L319.6,896.8L318.4,897.1L317.2,897.7L316,897.8L314.8,897.3L313.6,898.3L312.4,898L311.2,897.9L310,897.8L308.8,896.8L307.6,897.6L306.4,898.1L305.2,897.4L304,897.5L302.8,897.7L301.6,897.7L300.4,897.5L299.2,897.5L298,897.2L296.8,897.8L295.6,897.4L294.4,898.1L293.2,897.8L292,898.3L290.8,897.9L289.6,897.6L288.4,897.6L287.2,897.2L286,897.8L284.8,897.6L283.6,898.1L282.4,897.9L281.2,897.9L280,897.9L278.8,897L277.6,898L276.4,897.4L275.2,897.6L274,898.2L272.8,897.8L271.6,897.9L270.4,898L269.2,897.4L268,897.3L266.8,897.5L265.6,897.8L264.4,897.2L263.2,897.6L262,897.5L260.8,898.2L259.6,898.3L258.4,897.9L257.2,897.6L256,897.8L254.8,897.5L253.6,897.6L252.4,897.9L251.2,897.8L250,897.7L248.8,897.4L247.6,897.4L246.4,897.8L245.2,897.7L244,897.8L242.8,898.2L241.6,898.3L240.4,897.9L239.2,897.5L238,897.9L236.8,898.1L235.6,896.9L234.4,897.7L233.2,897.3L232,898.2L230.8,897.9L229.6,897.8L228.4,897.9L227.2,897.5L226,897.5L224.8,898.1L223.6,898.3L222.4,898L221.2,897.7L220,897L218.8,898.1L217.6,897.9L216.4,897.8L215.2,897.8L214,898L212.8,897.8L211.6,897.5L210.4,897.3L209.2,898.3L208,898.3L206.8,897.8L205.6,897.4L204.4,897.4L203.2,897.6L202,897.6L200.8,897.5L199.6,898.3L198.4,897.8L197.2,897.6L196,897.9L194.8,897.8L193.6,898.8L192.4,897.5L191.2,897.9L190,897.1L188.8,898.3L187.6,897.1L186.4,897.8L185.2,897.9L184,898.9L182.8,898L181.6,897.6L180.4,897.4L179.2,896.6L178,897.9L176.8,897L175.6,897.8L174.4,897.4L173.2,897.7L172,897.9L170.8,898.2L169.6,898L168.4,898.1L167.2,897.7L166,898.1L164.8,898.2L163.6,897.5L162.4,897.3L161.2,897.8L160,897.8L158.8,897.7L157.6,897.4L156.4,897.6L155.2,897.6L154,897.8L152.8,897.6L151.6,897L150.4,898L149.2,897L148,898.3Z" fill="#1768dc" stroke="#1768dc" stroke-width="8.0" stroke-linejoin="round"/>
<path d="M550.1,674.5H557.1V850.8L553.6,838.8L550.1,850.8Z" fill="#1768dc"/>
<path d="M759.2,842.5H766.2V895.0L762.7,883.0L759.2,895.0Z" fill="#1768dc"/>
<path d="M1459.3,849.5H1466.3V894.4L1462.8,882.4L1459.3,894.4Z" fill="#1768dc"/>
<path d="M148,754L149.2,753.8L150.4,753.6L151.6,754.1L152.8,753.4L154,753.4L155.2,753.8L156.4,752.9L157.6,753.6L158.8,753.5L160,754L161.2,754.3L162.4,753.9L163.6,753.8L164.8,753.8L166,753.3L167.2,754.5L168.4,754.1L169.6,754.3L170.8,753.1L172,753.9L173.2,753.8L174.4,754.1L175.6,753.3L176.8,753.8L178,753.6L179.2,754.4L180.4,753.2L181.6,753.5L182.8,753.4L184,753.2L185.2,753.7L186.4,753.7L187.6,753.4L188.8,753.5L190,753.7L191.2,753.6L192.4,753.8L193.6,753.4L194.8,753.3L196,753.6L197.2,752.9L198.4,754.2L199.6,753.7L200.8,753L202,753.8L203.2,754.2L204.4,753.1L205.6,753.4L206.8,754.1L208,753.3L209.2,754L210.4,754.1L211.6,753.7L212.8,753.8L214,754L215.2,753.8L216.4,754L217.6,753.6L218.8,753.6L220,753.3L221.2,753.8L222.4,754.1L223.6,754.1L224.8,753.7L226,753L227.2,753.3L228.4,753.9L229.6,753.3L230.8,754.1L232,753.2L233.2,753.8L234.4,753.3L235.6,753.4L236.8,753.7L238,753.5L239.2,754L240.4,753.7L241.6,753.2L242.8,752.1L244,753.4L245.2,753.6L246.4,754L247.6,753.2L248.8,754.3L250,753.9L251.2,753.5L252.4,754.1L253.6,753L254.8,753.2L256,753.8L257.2,753.8L258.4,754.1L259.6,754.2L260.8,753.5L262,753.4L263.2,753.5L264.4,753.5L265.6,753.8L266.8,753.5L268,754.2L269.2,753.6L270.4,753.1L271.6,753.1L272.8,753.8L274,753.7L275.2,753.1L276.4,752.9L277.6,754.2L278.8,753.8L280,753.5L281.2,753.1L282.4,753.9L283.6,753.4L284.8,753.7L286,752.7L287.2,753.4L288.4,753.7L289.6,753.7L290.8,753.2L292,753.3L293.2,754L294.4,753.5L295.6,754.1L296.8,753.9L298,754.1L299.2,754.1L300.4,753.9L301.6,754L302.8,753.4L304,753.3L305.2,753.7L306.4,754L307.6,753.3L308.8,754.4L310,754.3L311.2,753.3L312.4,753.3L313.6,753.2L314.8,753.7L316,754.1L317.2,753.8L318.4,753.4L319.6,753.9L320.8,753.9L322,754.1L323.2,754L324.4,753.3L325.6,753.4L326.8,754L328,754L329.2,753.8L330.4,753.4L331.6,754L332.8,753.6L334,754.4L335.2,754.1L336.4,753.4L337.6,753.2L338.8,754L340,753.9L341.2,753.3L342.4,753.7L343.6,753.8L344.8,753.4L346,753.5L347.2,753.1L348.4,753.3L349.6,753.8L350.8,753.6L352,753.6L353.2,754.1L354.4,753.9L355.6,753.2L356.8,754.2L358,753.2L359.2,753.5L360.4,753.6L361.6,753.4L362.8,753.4L364,753.1L365.2,753.7L366.4,753.6L367.6,753.6L368.8,752.8L370,753.2L371.2,753.9L372.4,753.7L373.6,753.8L374.8,753.5L376,753.5L377.2,752.7L378.4,754.2L379.6,753.1L380.8,753.4L382,753.8L383.2,753.6L384.4,753.7L385.6,753.5L386.8,753.1L388,754.1L389.2,753L390.4,753.7L391.6,752.9L392.8,753.4L394,753L395.2,753.3L396.4,753.1L397.6,753.5L398.8,753.8L400,753.2L401.2,753.2L402.4,752.7L403.6,754.3L404.8,753.6L406,753.1L407.2,754L408.4,753.6L409.6,752.7L410.8,752.9L412,753.8L413.2,752.9L414.4,753L415.6,753.2L416.8,753.3L418,753.4L419.2,753.8L420.4,753.6L421.6,753.2L422.8,753.4L424,752.7L425.2,753.6L426.4,754.3L427.6,753.6L428.8,753.3L430,753.3L431.2,753.4L432.4,753.7L433.6,752.8L434.8,753.6L436,753.1L437.2,753.5L438.4,753.8L439.6,752.8L440.8,754.3L442,753.7L443.2,753.2L444.4,753.5L445.6,753.1L446.8,753.4L448,753.5L449.2,752.5L450.4,753.4L451.6,753.4L452.8,753.7L454,753.6L455.2,753L456.4,753.1L457.6,753.3L458.8,753.5L460,753L461.2,753.9L462.4,753.3L463.6,753.3L464.8,753.5L466,753.1L467.2,753.4L468.4,753.5L469.6,752.5L470.8,752.8L472,752.7L473.2,753.1L474.4,752.7L475.6,752.8L476.8,752.6L478,752.1L479.2,753.1L480.4,752.9L481.6,753L482.8,754.3L484,753.4L485.2,752.9L486.4,752.6L487.6,753L488.8,752.4L490,752.3L491.2,752.9L492.4,752.2L493.6,752L494.8,752.4L496,753L497.2,752L498.4,752.6L499.6,752.6L500.8,752.3L502,752.5L503.2,751.9L504.4,751.9L505.6,751.7L506.8,751.8L508,752.3L509.2,751.9L510.4,751.5L511.6,751.8L512.8,750.5L514,751.5L515.2,751.5L516.4,750.7L517.6,750.7L518.8,750.9L520,750.7L521.2,750.3L522.4,749.9L523.6,749.6L524.8,749.8L526,749.1L527.2,748.6L528.4,748.2L529.6,749.2L530.8,747.8L532,747.1L533.2,746.2L534.4,745.1L535.6,743.8L536.8,742.7L538,741.5L539.2,739.7L539.6,738.5L540,738.4L540.4,737.4L540.8,736.3L541.2,735.6L541.6,735.1L542,733.6L542.4,732.5L542.8,731.2L543.2,729.7L543.6,728.2L544,726.6L544.4,724.7L544.8,722.8L545.2,720.5L545.6,718.1L546,715.3L546.4,712.2L546.8,708.8L547.2,704.8L547.6,700.4L548,695.3L548.4,689.5L548.8,682.8L549.2,675.1L549.6,666.1L550,655.6L550.4,643.6L550.8,629.7L551.2,614L551.6,596.7L552,578.5L552.4,560.8L552.8,545.5L553.2,534.9L553.6,531.1L554,534.9L554.4,545.4L554.8,560.7L555.2,578.4L555.6,596.5L556,613.8L556.4,629.5L556.8,643.3L557.2,655.4L557.6,665.8L558,674.7L558.4,682.4L558.8,689.1L559.2,694.9L559.6,700L560,704.3L560.4,708.2L560.8,711.7L561.2,714.7L561.6,717.5L562,719.8L562.4,722L562.8,723.8L563.2,725.8L563.6,727.6L564,728.7L564.4,730.2L564.8,731.4L565.2,732.2L565.6,733.5L566,734.2L566.4,735.3L566.8,736.2L567.2,736.6L568,738.2L569.2,739.1L570.4,740.3L571.6,741.4L572.8,741.7L574,742.1L575.2,742.5L576.4,742.1L577.6,742.6L578.8,742.5L580,743.4L581.2,743.6L582.4,744.2L583.6,745.5L584.8,746.2L586,747L587.2,747.3L588.4,748.5L589.6,748.6L590.8,748.6L592,749.5L593.2,750.6L594.4,750.2L595.6,750.1L596.8,750.9L598,750.6L599.2,750.9L600.4,751.2L601.6,751.6L602.8,751.8L604,751.8L605.2,751.8L606.4,751.7L607.6,751.9L608.8,752.2L610,752.1L611.2,752.1L612.4,752.9L613.6,752.7L614.8,752.7L616,752.5L617.2,752.6L618.4,752.7L619.6,752.9L620.8,752.4L622,752.6L623.2,753.3L624.4,752.7L625.6,753.2L626.8,752.2L628,753L629.2,753L630.4,752.8L631.6,753L632.8,752.9L634,752.4L635.2,752.9L636.4,752.7L637.6,752.6L638.8,753.4L640,752.4L641.2,752.8L642.4,752.7L643.6,753.4L644.8,752.8L646,752.9L647.2,753.3L648.4,752.2L649.6,752.9L650.8,753.2L652,753.1L653.2,752.8L654.4,752.7L655.6,752.9L656.8,752.7L658,752.6L659.2,753.7L660.4,753.4L661.6,753.6L662.8,753.2L664,752.7L665.2,753L666.4,753.6L667.6,753.3L668.8,752.8L670,753.4L671.2,753.3L672.4,753.1L673.6,753.9L674.8,752.9L676,753.1L677.2,753L678.4,753.6L679.6,753.5L680.8,753.5L682,753.2L683.2,753.2L684.4,753.2L685.6,752.6L686.8,752.8L688,753.5L689.2,753.5L690.4,752.6L691.6,753.4L692.8,752.7L694,752.6L695.2,753.4L696.4,753.3L697.6,753.2L698.8,753.5L700,753.6L701.2,753.4L702.4,752.9L703.6,753.4L704.8,753.3L706,753.4L707.2,753.7L708.4,752.6L709.6,754L710.8,753.4L712,752.9L713.2,753.6L714.4,752.9L715.6,752.6L716.8,753.4L718,752.9L719.2,753.4L720.4,752.8L721.6,752.9L722.8,752.8L724,752.4L725.2,752.7L726.4,752.3L727.6,752.5L728.8,753.2L730,752.6L731.2,752.4L732.4,753.1L733.6,752L734.8,752.4L736,752.1L737.2,752.5L738.4,752L739.6,751.8L740.8,751.9L742,751.5L743.2,752.1L744.4,750.6L745.6,751.2L746.8,751.2L748,750.3L749.2,749.6L749.6,749.1L750,749.2L750.4,748.7L750.8,748.7L751.2,747.8L751.6,747.8L752,747.3L752.4,747.4L752.8,746.7L753.2,746.5L753.6,745.9L754,745.4L754.4,745L754.8,744.3L755.2,743.6L755.6,742.8L756,741.9L756.4,741L756.8,739.9L757.2,738.6L757.6,737.2L758,735.6L758.4,733.7L758.8,731.6L759.2,729.1L759.6,726.3L760,723L760.4,719.2L760.8,715L761.2,710.5L761.6,705.7L762,701.1L762.4,697.2L762.8,694.5L763.2,693.6L763.6,694.5L764,697.2L764.4,701.1L764.8,705.7L765.2,710.5L765.6,715L766,719.2L766.4,723L766.8,726.3L767.2,729.1L767.6,731.6L768,733.7L768.4,735.6L768.8,737.2L769.2,738.6L769.6,739.8L770,741L770.4,741.9L770.8,742.8L771.2,743.6L771.6,744.3L772,744.8L772.4,745.4L772.8,746.1L773.2,746.2L773.6,746.7L774,747.3L774.4,747.7L774.8,747.9L775.2,748L775.6,748.6L776,749L776.4,748.9L776.8,749.8L778,749.8L779.2,749.9L780.4,750.6L781.6,750.7L782.8,751.1L784,751.3L785.2,751.7L786.4,752.2L787.6,752.1L788.8,752.2L790,751.8L791.2,751.8L792.4,752.3L793.6,752.9L794.8,752.9L796,752.8L797.2,752.2L798.4,752.7L799.6,752.9L800.8,753.2L802,752.6L803.2,752.9L804.4,753L805.6,753L806.8,752.4L808,753.2L809.2,752.5L810.4,752.7L811.6,753.2L812.8,752.9L814,753.3L815.2,753.6L816.4,753.4L817.6,753.6L818.8,753.1L820,753.3L821.2,753.1L822.4,753L823.6,754.5L824.8,753.2L826,754L827.2,753.3L828.4,753.7L829.6,753.3L830.8,752.9L832,754L833.2,753.3L834.4,753.4L835.6,754.1L836.8,753.2L838,753.4L839.2,753.6L840.4,753.7L841.6,752.2L842.8,753.6L844,754.1L845.2,753.8L846.4,753.6L847.6,753.6L848.8,753.5L850,753.9L851.2,753.3L852.4,753.7L853.6,754L854.8,753.8L856,753.6L857.2,753.2L858.4,753.3L859.6,753.6L860.8,753.5L862,753.4L863.2,752.7L864.4,753.7L865.6,753.3L866.8,753.2L868,753.9L869.2,753.4L870.4,753.5L871.6,753.7L872.8,753.3L874,753.1L875.2,753.1L876.4,753.6L877.6,753.5L878.8,752.6L880,754L881.2,753.5L882.4,753.2L883.6,753.5L884.8,753.3L886,753.5L887.2,753.3L888.4,753.1L889.6,753.6L890.8,753.5L892,753.6L893.2,753.7L894.4,753.6L895.6,754L896.8,753.3L898,752.9L899.2,752.9L900.4,753.1L901.6,753.9L902.8,753L904,753.8L905.2,753.6L906.4,752.9L907.6,754L908.8,753.2L910,753.5L911.2,753.6L912.4,753.9L913.6,753.4L914.8,753.7L916,753.2L917.2,753.1L918.4,754.1L919.6,753.8L920.8,753.7L922,754L923.2,754L924.4,753.5L925.6,753.7L926.8,754.2L928,753.8L929.2,753.4L930.4,754L931.6,753.9L932.8,753L934,753.1L935.2,754.2L936.4,754.1L937.6,753.4L938.8,754L940,753.7L941.2,753.8L942.4,753.4L943.6,754.5L944.8,754.4L946,754.1L947.2,753.2L948.4,753.6L949.6,754.2L950.8,753.4L952,753.3L953.2,753.7L954.4,753.7L955.6,753.4L956.8,753.1L958,753.5L959.2,753.4L960.4,753.6L961.6,753.7L962.8,753.9L964,753.5L965.2,753.7L966.4,753.7L967.6,753.2L968.8,753.4L970,753.3L971.2,754.2L972.4,753.4L973.6,753.8L974.8,753.9L976,753.9L977.2,753.1L978.4,753.3L979.6,753.9L980.8,754L982,753.6L983.2,753.8L984.4,753L985.6,754.2L986.8,754.3L988,753.7L989.2,753.6L990.4,753.6L991.6,753.3L992.8,752.8L994,753.7L995.2,753.8L996.4,754.3L997.6,753.5L998.8,753.3L1000,753.7L1001.2,753.2L1002.4,753.6L1003.6,753L1004.8,753.5L1006,754L1007.2,753.8L1008.4,754.2L1009.6,754.3L1010.8,753.5L1012,753.3L1013.2,752.9L1014.4,753.6L1015.6,753.7L1016.8,754L1018,753.2L1019.2,753.5L1020.4,753.8L1021.6,753.3L1022.8,753.4L1024,754.3L1025.2,753.3L1026.4,753.6L1027.6,753.8L1028.8,753.8L1030,752.9L1031.2,753L1032.4,752.9L1033.6,754L1034.8,753.9L1036,753.3L1037.2,754.1L1038.4,753.9L1039.6,754.3L1040.8,752.9L1042,753.2L1043.2,753.4L1044.4,753.5L1045.6,753.8L1046.8,753.8L1048,753.4L1049.2,753.9L1050.4,753.1L1051.6,753.8L1052.8,753.9L1054,753.1L1055.2,753.7L1056.4,753.4L1057.6,753.8L1058.8,754.5L1060,753.4L1061.2,754.1L1062.4,753.2L1063.6,754.2L1064.8,754.3L1066,753.5L1067.2,753.5L1068.4,753.6L1069.6,754.1L1070.8,753.3L1072,754.2L1073.2,753.8L1074.4,753.9L1075.6,753.8L1076.8,753.3L1078,753.9L1079.2,753.4L1080.4,753.4L1081.6,754.3L1082.8,754.1L1084,753.8L1085.2,753.8L1086.4,753.5L1087.6,754.3L1088.8,753.3L1090,753.3L1091.2,753.7L1092.4,754.1L1093.6,753.6L1094.8,753.8L1096,753.4L1097.2,753.6L1098.4,753.3L1099.6,753.8L1100.8,753.1L1102,754.5L1103.2,754L1104.4,753.4L1105.6,754.2L1106.8,753.3L1108,754.1L1109.2,753.6L1110.4,754L1111.6,753.8L1112.8,753.5L1114,753.7L1115.2,753.8L1116.4,752.8L1117.6,753.6L1118.8,754L1120,753.3L1121.2,753.3L1122.4,753.2L1123.6,752.9L1124.8,754L1126,753.2L1127.2,753.2L1128.4,753.6L1129.6,753.5L1130.8,754.8L1132,753.8L1133.2,752.9L1134.4,754.3L1135.6,753.8L1136.8,753.5L1138,753.4L1139.2,753L1140.4,754.3L1141.6,753.6L1142.8,753.3L1144,754.1L1145.2,753.6L1146.4,752.9L1147.6,753.1L1148.8,753.4L1150,754.6L1151.2,753.7L1152.4,753.5L1153.6,753.7L1154.8,753.6L1156,752.4L1157.2,753.7L1158.4,754L1159.6,753.5L1160.8,753.7L1162,753.7L1163.2,753.6L1164.4,753.3L1165.6,753.5L1166.8,754.1L1168,753.7L1169.2,753.4L1170.4,753.8L1171.6,753.2L1172.8,753.3L1174,754L1175.2,753.5L1176.4,752.9L1177.6,753L1178.8,753.6L1180,753.3L1181.2,753.9L1182.4,754.2L1183.6,753.4L1184.8,753.5L1186,753.4L1187.2,753.6L1188.4,753.5L1189.6,753.8L1190.8,753.4L1192,753.3L1193.2,753.6L1194.4,753.3L1195.6,754.3L1196.8,753.9L1198,753.1L1199.2,752.9L1200.4,753.5L1201.6,753.6L1202.8,754.1L1204,753.5L1205.2,753.3L1206.4,754.2L1207.6,753.4L1208.8,753.4L1210,753.4L1211.2,754L1212.4,753.4L1213.6,754.2L1214.8,753L1216,753.6L1217.2,754L1218.4,753.1L1219.6,753.2L1220.8,753.9L1222,752.8L1223.2,754L1224.4,753.5L1225.6,753.2L1226.8,754.5L1228,753.2L1229.2,753.6L1230.4,753.6L1231.6,754L1232.8,753.5L1234,754L1235.2,754L1236.4,753.8L1237.6,754.1L1238.8,753L1240,754.1L1241.2,753.9L1242.4,753.7L1243.6,753.6L1244.8,753.3L1246,753.3L1247.2,753.7L1248.4,753.7L1249.6,753.6L1250.8,753.3L1252,753.3L1253.2,753.8L1254.4,754.4L1255.6,752.8L1256.8,753.2L1258,753.5L1259.2,753.5L1260.4,753.8L1261.6,754L1262.8,753.7L1264,753.7L1265.2,753.8L1266.4,754.1L1267.6,753.7L1268.8,753.4L1270,753.8L1271.2,753.6L1272.4,754.4L1273.6,753.7L1274.8,753.6L1276,754.1L1277.2,754.2L1278.4,753.4L1279.6,753.9L1280.8,753.4L1282,753.7L1283.2,753.3L1284.4,753.7L1285.6,754.2L1286.8,753.6L1288,753.7L1289.2,753.3L1290.4,753.8L1291.6,753.7L1292.8,753.3L1294,753.1L1295.2,753.3L1296.4,753.2L1297.6,753.4L1298.8,753.3L1300,753.2L1301.2,753.4L1302.4,753.5L1303.6,753.5L1304.8,752.7L1306,753.6L1307.2,753.7L1308.4,753.7L1309.6,753.6L1310.8,753.5L1312,754L1313.2,754.3L1314.4,753.4L1315.6,754.2L1316.8,753.5L1318,753.5L1319.2,753.1L1320.4,752.9L1321.6,753.4L1322.8,753.8L1324,754L1325.2,753.8L1326.4,753.5L1327.6,754.3L1328.8,753.5L1330,753.5L1331.2,753.3L1332.4,753.7L1333.6,753.5L1334.8,753.8L1336,753.7L1337.2,754.2L1338.4,753.5L1339.6,752.9L1340.8,753.5L1342,753.4L1343.2,753.9L1344.4,753L1345.6,753.8L1346.8,753.2L1348,753.5L1349.2,753.9L1350.4,753.1L1351.6,753.5L1352.8,753.4L1354,753.3L1355.2,753.5L1356.4,753.6L1357.6,753.3L1358.8,753.6L1360,753.4L1361.2,753.7L1362.4,754L1363.6,753.7L1364.8,753.6L1366,753.4L1367.2,753L1368.4,754.1L1369.6,753.4L1370.8,754.3L1372,753.8L1373.2,753.6L1374.4,754.3L1375.6,754.1L1376.8,753.3L1378,753.4L1379.2,753.4L1380.4,753.7L1381.6,752.6L1382.8,753.4L1384,753.7L1385.2,752.7L1386.4,753.1L1387.6,753.5L1388.8,752.9L1390,753.3L1391.2,753.1L1392.4,753.2L1393.6,753.7L1394.8,752.9L1396,753.2L1397.2,753.6L1398.4,753.5L1399.6,752.8L1400.8,753.3L1402,753.2L1403.2,752.9L1404.4,753.1L1405.6,753.7L1406.8,752.9L1408,752.7L1409.2,752.7L1410.4,752.4L1411.6,752.8L1412.8,752.7L1414,752.3L1415.2,753L1416.4,752.2L1417.6,752.2L1418.8,752.5L1420,752L1421.2,752.3L1422.4,752.9L1423.6,752.1L1424.8,752.4L1426,752.3L1427.2,752.3L1428.4,751.7L1429.6,751.9L1430.8,752.3L1432,751.7L1433.2,751.5L1434.4,751.9L1435.6,751.6L1436.8,751.4L1438,751.3L1439.2,750.7L1440.4,750.2L1441.6,749.5L1442.8,749.4L1444,749.1L1445.2,748.5L1446.4,747.9L1447.6,747.8L1448.8,746.6L1449.2,746.4L1449.6,746.1L1450,745.8L1450.4,745.4L1450.8,744.9L1451.2,744.6L1451.6,743.8L1452,743.4L1452.4,742.8L1452.8,742.1L1453.2,741.3L1453.6,740.7L1454,739.8L1454.4,739L1454.8,738L1455.2,736.8L1455.6,735.4L1456,734.1L1456.4,732.5L1456.8,730.8L1457.2,728.9L1457.6,726.7L1458,724.2L1458.4,721.5L1458.8,718.5L1459.2,715.1L1459.6,711.3L1460,707.3L1460.4,703L1460.8,698.6L1461.2,694.3L1461.6,690.5L1462,687.4L1462.4,685.3L1462.8,684.6L1463.2,685.3L1463.6,687.4L1464,690.5L1464.4,694.3L1464.8,698.6L1465.2,703L1465.6,707.3L1466,711.3L1466.4,715.1L1466.8,718.5L1467.2,721.5L1467.6,724.3L1468,726.7L1468.4,728.9L1468.8,730.9L1469.2,732.6L1469.6,734.1L1470,735.5L1470.4,736.7L1470.8,737.9L1471.2,739L1471.6,739.8L1472,740.7L1472.4,741.3L1472.8,741.9L1473.2,742.9L1473.6,743.4L1474,743.9L1474.4,744.5L1474.8,745.1L1475.2,745.3L1475.6,745.6L1476,746L1476.4,746.8L1477.6,747.4L1478.8,748.7L1480,748.4L1481.2,749.6L1482.4,749.8L1483.6,750.3L1484.8,750.7L1486,751.1L1487.2,751.6L1488.4,750.5L1489.6,751.3L1490.8,751.5L1492,750.9L1493.2,751.9L1494.4,751.8L1495.6,752.1L1496.8,751.7L1498,752.1L1499.2,752.2L1500.4,752.5L1501.6,752.4L1502.8,752.1L1504,753.4L1505.2,752.7L1506.4,752.9L1507.6,752.9L1508.8,753.6L1510,752.6L1511.2,753.2L1512.4,753L1513.6,753.1L1514.8,753.6L1516,753.2L1517.2,753.7L1518.4,753.4L1519.6,753.2L1520.8,753.1L1522,753.1L1523.2,753.2L1524.4,752.3L1525.6,753L1526.8,753.6L1528,753.4L1529.2,753.4L1530.4,753.3L1531.6,753.4L1532.8,753.5L1534,752.6L1535.2,753.2L1536.4,753.4L1537.6,753.3L1538.8,753.3L1540,752.7L1541.2,753.1L1542.4,752.8L1543.6,754.5L1544.8,753.1L1546,752.9L1547.2,752.5L1548.4,753.3L1549.6,753.9L1550.8,753L1552,753.5L1553.2,753.9L1554.4,753.5L1555.6,752.8L1556.8,752.8L1558,752.9L1559.2,753.6L1560.4,752.2L1561.6,753.6L1562.8,753.2L1564,753.6L1565.2,752.5L1566.4,752.8L1567.6,752.6L1568.8,752.8L1570,752.8L1571.2,752.6L1572.4,753.3L1573.6,752L1574.8,751.8L1576,752L1577.2,751.5L1578.4,751L1579.6,750L1580.8,749.8L1582,749.4L1583.2,749.3L1584.4,749.6L1585.6,749.5L1586.8,749.8L1588,750.5L1589.2,750.9L1590.4,751.1L1591.6,751.6L1592.8,752L1594,752.1L1595.2,752.5L1596.4,752.7L1597.6,752.6L1598.8,753.6L1600,752.5L1601.2,753.5L1602.4,752.8L1603.6,753.1L1604.8,752.8L1606,753.2L1607.2,753.6L1608.4,752.9L1609.6,753.2L1610.8,753.3L1612,753.3L1613.2,753L1614.4,753.1L1615.6,753.3L1616.8,754L1618,753.6L1619.2,753.4L1620.4,752.8L1621.6,753.3L1622.8,753.5L1624,753L1625.2,753.5L1626.4,753.5L1627.6,753.4L1628.8,754.1L1630,753.1L1631.2,753.3L1632.4,753.6L1633.6,753.9L1634.8,753.4L1636,753L1637.2,753.8L1638.4,753.9L1639.6,753.4L1640.8,754.1L1642,754.4L1643.2,753.7L1644.4,753.8L1645.6,753.6L1646.8,753.7L1648,753.4L1649.2,753.6L1650.4,753.8L1651.6,753.7L1652.8,753.3L1654,753.2L1655.2,753.2L1656.4,753.3L1657.6,754.8L1658.8,753.9L1660,753.7L1661.2,753.5L1662.4,754.2L1663.6,753L1664.8,753.4L1666,753.8L1667.2,753.5L1668.4,753.7L1669.6,753.8L1670.8,753.4L1672,753.7L1673.2,754.1L1674.4,753.8L1675.6,753.6L1676.8,754L1678,753.1L1679.2,754L1680.4,752.9L1681.6,753.2L1682.8,753.9L1684,753.5L1685.2,753.1L1686.4,753.6L1687.6,754L1688.8,753.5L1690,752.8L1691.2,754.1L1692.4,753.4L1693.6,753.6L1694.8,753.6L1696,753.7L1697.2,753.7L1698.4,753.2L1699.6,753.4L1700.8,754L1702,753L1703.2,754.1L1704.4,753.3L1705.6,753.5L1706.8,753.1L1708,753.4L1709.2,753.2L1710.4,753.6L1711.6,753.2L1712.8,753.5L1714,752.8L1715.2,753.8L1716.4,753.1L1717.6,753.4L1718.8,753.5L1720,753.8L1721.2,753.4L1722.4,754.1L1723.6,754.1L1724.8,753.3L1726,754.2L1727.2,753L1728.4,753.7L1729.6,753.5L1730.8,753.6L1732,753.4L1733.2,753.7L1734.4,753.7L1735.6,753.6L1736.8,753.2L1738,753.2L1739.2,753.1L1740.4,753.4L1741.6,753.7L1742.8,754.2L1744,753.3L1745.2,753.3L1746.4,753.7L1747.6,753.3L1748.8,753.1L1750,753.6L1751.2,753.2L1752.4,753.5L1753.6,754.3L1754.8,753.8L1756,753.7L1757.2,753.4L1758.4,753.9L1759.6,753.8L1760.8,754L1762,753.6L1763.2,753.6L1764.4,753.2L1765.6,753.3L1766.8,753.5L1768,753.5L1769.2,753.6L1770.4,753.6L1771.6,753L1772.8,754.5L1772.8,757.2L1771.6,755.7L1770.4,756.3L1769.2,756.3L1768,756.2L1766.8,756.2L1765.6,756L1764.4,755.9L1763.2,756.3L1762,756.3L1760.8,756.7L1759.6,756.5L1758.4,756.6L1757.2,756.1L1756,756.4L1754.8,756.5L1753.6,757L1752.4,756.2L1751.2,755.9L1750,756.3L1748.8,755.8L1747.6,756L1746.4,756.4L1745.2,756L1744,756L1742.8,756.9L1741.6,756.4L1740.4,756.1L1739.2,755.8L1738,755.9L1736.8,755.9L1735.6,756.3L1734.4,756.4L1733.2,756.4L1732,756.1L1730.8,756.3L1729.6,756.2L1728.4,756.4L1727.2,755.7L1726,756.9L1724.8,756L1723.6,756.8L1722.4,756.8L1721.2,756.1L1720,756.5L1718.8,756.2L1717.6,756.1L1716.4,755.8L1715.2,756.5L1714,755.5L1712.8,756.2L1711.6,755.9L1710.4,756.3L1709.2,755.9L1708,756.1L1706.8,755.8L1705.6,756.2L1704.4,756L1703.2,756.8L1702,755.7L1700.8,756.7L1699.6,756.1L1698.4,755.9L1697.2,756.4L1696,756.4L1694.8,756.3L1693.6,756.3L1692.4,756.1L1691.2,756.8L1690,755.5L1688.8,756.2L1687.6,756.7L1686.4,756.3L1685.2,755.8L1684,756.2L1682.8,756.6L1681.6,755.9L1680.4,755.6L1679.2,756.7L1678,755.8L1676.8,756.7L1675.6,756.3L1674.4,756.5L1673.2,756.8L1672,756.4L1670.8,756.1L1669.6,756.5L1668.4,756.4L1667.2,756.2L1666,756.5L1664.8,756.1L1663.6,755.7L1662.4,756.9L1661.2,756.2L1660,756.4L1658.8,756.6L1657.6,757.5L1656.4,756L1655.2,755.9L1654,755.9L1652.8,756L1651.6,756.4L1650.4,756.5L1649.2,756.3L1648,756.1L1646.8,756.4L1645.6,756.3L1644.4,756.5L1643.2,756.4L1642,757.1L1640.8,756.8L1639.6,756.1L1638.4,756.6L1637.2,756.5L1636,755.7L1634.8,756.1L1633.6,756.6L1632.4,756.3L1631.2,756L1630,755.8L1628.8,756.8L1627.6,756.1L1626.4,756.2L1625.2,756.2L1624,755.7L1622.8,756.2L1621.6,756L1620.4,755.5L1619.2,756.1L1618,756.3L1616.8,756.7L1615.6,756L1614.4,755.8L1613.2,755.7L1612,756L1610.8,756L1609.6,755.9L1608.4,755.6L1607.2,756.3L1606,755.9L1604.8,755.5L1603.6,755.8L1602.4,755.5L1601.2,756.2L1600,755.2L1598.8,756.3L1597.6,755.3L1596.4,755.4L1595.2,755.2L1594,754.8L1592.8,754.7L1591.6,754.3L1590.4,753.8L1589.2,753.6L1588,753.2L1586.8,752.5L1585.6,752.2L1584.4,752.3L1583.2,752L1582,752.1L1580.8,752.5L1579.6,752.7L1578.4,753.7L1577.2,754.2L1576,754.7L1574.8,754.5L1573.6,754.7L1572.4,756L1571.2,755.3L1570,755.5L1568.8,755.5L1567.6,755.3L1566.4,755.5L1565.2,755.2L1564,756.3L1562.8,755.9L1561.6,756.3L1560.4,754.9L1559.2,756.3L1558,755.6L1556.8,755.5L1555.6,755.5L1554.4,756.2L1553.2,756.6L1552,756.2L1550.8,755.7L1549.6,756.6L1548.4,756L1547.2,755.2L1546,755.6L1544.8,755.8L1543.6,757.2L1542.4,755.5L1541.2,755.8L1540,755.4L1538.8,756L1537.6,756L1536.4,756.1L1535.2,755.9L1534,755.3L1532.8,756.2L1531.6,756.1L1530.4,756L1529.2,756.1L1528,756.1L1526.8,756.3L1525.6,755.7L1524.4,755L1523.2,755.9L1522,755.8L1520.8,755.8L1519.6,755.9L1518.4,756.1L1517.2,756.4L1516,755.9L1514.8,756.3L1513.6,755.8L1512.4,755.7L1511.2,755.9L1510,755.3L1508.8,756.3L1507.6,755.6L1506.4,755.6L1505.2,755.4L1504,756.1L1502.8,754.8L1501.6,755.1L1500.4,755.2L1499.2,754.9L1498,754.8L1496.8,754.4L1495.6,754.8L1494.4,754.5L1493.2,754.6L1492,753.6L1490.8,754.2L1489.6,754L1488.4,753.2L1487.2,754.3L1486,753.8L1484.8,753.4L1483.6,753L1482.4,752.5L1481.2,752.3L1480,751.1L1478.8,751.4L1477.6,750.1L1476.4,749.5L1476,748.7L1475.6,748.3L1475.2,748L1474.8,747.8L1474.4,747.2L1474,746.6L1473.6,746.1L1473.2,745.6L1472.8,744.6L1472.4,744L1472,743.4L1471.6,742.5L1471.2,741.7L1470.8,740.6L1470.4,739.4L1470,738.2L1469.6,736.8L1469.2,735.3L1468.8,733.6L1468.4,731.6L1468,729.4L1467.6,727L1467.2,724.2L1466.8,721.2L1466.4,717.8L1466,714L1465.6,710L1465.2,705.7L1464.8,701.3L1464.4,697L1464,693.2L1463.6,690.1L1463.2,688L1462.8,687.3L1462.4,688L1462,690.1L1461.6,693.2L1461.2,697L1460.8,701.3L1460.4,705.7L1460,710L1459.6,714L1459.2,717.8L1458.8,721.2L1458.4,724.2L1458,726.9L1457.6,729.4L1457.2,731.6L1456.8,733.5L1456.4,735.2L1456,736.8L1455.6,738.1L1455.2,739.5L1454.8,740.7L1454.4,741.7L1454,742.5L1453.6,743.4L1453.2,744L1452.8,744.8L1452.4,745.5L1452,746.1L1451.6,746.5L1451.2,747.3L1450.8,747.6L1450.4,748.1L1450,748.5L1449.6,748.8L1449.2,749.1L1448.8,749.3L1447.6,750.5L1446.4,750.6L1445.2,751.2L1444,751.8L1442.8,752.1L1441.6,752.2L1440.4,752.9L1439.2,753.4L1438,754L1436.8,754.1L1435.6,754.3L1434.4,754.6L1433.2,754.2L1432,754.4L1430.8,755L1429.6,754.6L1428.4,754.4L1427.2,755L1426,755L1424.8,755.1L1423.6,754.8L1422.4,755.6L1421.2,755L1420,754.7L1418.8,755.2L1417.6,754.9L1416.4,754.9L1415.2,755.7L1414,755L1412.8,755.4L1411.6,755.5L1410.4,755.1L1409.2,755.4L1408,755.4L1406.8,755.6L1405.6,756.4L1404.4,755.8L1403.2,755.6L1402,755.9L1400.8,756L1399.6,755.5L1398.4,756.2L1397.2,756.3L1396,755.9L1394.8,755.6L1393.6,756.4L1392.4,755.9L1391.2,755.8L1390,756L1388.8,755.6L1387.6,756.2L1386.4,755.8L1385.2,755.4L1384,756.4L1382.8,756.1L1381.6,755.3L1380.4,756.4L1379.2,756.1L1378,756.1L1376.8,756L1375.6,756.8L1374.4,757L1373.2,756.3L1372,756.5L1370.8,757L1369.6,756.1L1368.4,756.8L1367.2,755.7L1366,756.1L1364.8,756.3L1363.6,756.4L1362.4,756.7L1361.2,756.4L1360,756.1L1358.8,756.3L1357.6,756L1356.4,756.3L1355.2,756.2L1354,756L1352.8,756.1L1351.6,756.2L1350.4,755.8L1349.2,756.6L1348,756.2L1346.8,755.9L1345.6,756.5L1344.4,755.7L1343.2,756.6L1342,756.1L1340.8,756.2L1339.6,755.6L1338.4,756.2L1337.2,756.9L1336,756.4L1334.8,756.5L1333.6,756.2L1332.4,756.4L1331.2,756L1330,756.2L1328.8,756.2L1327.6,757L1326.4,756.2L1325.2,756.5L1324,756.7L1322.8,756.5L1321.6,756.1L1320.4,755.6L1319.2,755.8L1318,756.2L1316.8,756.2L1315.6,756.9L1314.4,756.1L1313.2,757L1312,756.7L1310.8,756.2L1309.6,756.3L1308.4,756.4L1307.2,756.4L1306,756.3L1304.8,755.4L1303.6,756.2L1302.4,756.2L1301.2,756.1L1300,755.9L1298.8,756L1297.6,756.1L1296.4,755.9L1295.2,756L1294,755.8L1292.8,756L1291.6,756.4L1290.4,756.5L1289.2,756L1288,756.4L1286.8,756.3L1285.6,756.9L1284.4,756.4L1283.2,756L1282,756.4L1280.8,756.1L1279.6,756.6L1278.4,756.1L1277.2,756.9L1276,756.8L1274.8,756.3L1273.6,756.4L1272.4,757.1L1271.2,756.3L1270,756.5L1268.8,756.1L1267.6,756.4L1266.4,756.8L1265.2,756.5L1264,756.4L1262.8,756.4L1261.6,756.7L1260.4,756.5L1259.2,756.2L1258,756.2L1256.8,755.9L1255.6,755.5L1254.4,757.1L1253.2,756.5L1252,756L1250.8,756L1249.6,756.3L1248.4,756.4L1247.2,756.4L1246,756L1244.8,756L1243.6,756.3L1242.4,756.4L1241.2,756.6L1240,756.8L1238.8,755.7L1237.6,756.8L1236.4,756.5L1235.2,756.7L1234,756.7L1232.8,756.2L1231.6,756.7L1230.4,756.3L1229.2,756.3L1228,755.9L1226.8,757.2L1225.6,755.9L1224.4,756.2L1223.2,756.7L1222,755.5L1220.8,756.6L1219.6,755.9L1218.4,755.8L1217.2,756.7L1216,756.3L1214.8,755.7L1213.6,756.9L1212.4,756.1L1211.2,756.7L1210,756.1L1208.8,756.1L1207.6,756.1L1206.4,756.9L1205.2,756L1204,756.2L1202.8,756.8L1201.6,756.3L1200.4,756.2L1199.2,755.6L1198,755.8L1196.8,756.6L1195.6,757L1194.4,756L1193.2,756.3L1192,756L1190.8,756.1L1189.6,756.5L1188.4,756.2L1187.2,756.3L1186,756.1L1184.8,756.2L1183.6,756.1L1182.4,756.9L1181.2,756.6L1180,756L1178.8,756.3L1177.6,755.7L1176.4,755.6L1175.2,756.2L1174,756.7L1172.8,756L1171.6,755.9L1170.4,756.5L1169.2,756.1L1168,756.4L1166.8,756.8L1165.6,756.2L1164.4,756L1163.2,756.3L1162,756.4L1160.8,756.4L1159.6,756.2L1158.4,756.7L1157.2,756.4L1156,755.1L1154.8,756.3L1153.6,756.4L1152.4,756.2L1151.2,756.4L1150,757.3L1148.8,756.1L1147.6,755.8L1146.4,755.6L1145.2,756.3L1144,756.8L1142.8,756L1141.6,756.3L1140.4,757L1139.2,755.7L1138,756.1L1136.8,756.2L1135.6,756.5L1134.4,757L1133.2,755.6L1132,756.5L1130.8,757.5L1129.6,756.2L1128.4,756.3L1127.2,755.9L1126,755.9L1124.8,756.7L1123.6,755.6L1122.4,755.9L1121.2,756L1120,756L1118.8,756.7L1117.6,756.3L1116.4,755.5L1115.2,756.5L1114,756.4L1112.8,756.2L1111.6,756.5L1110.4,756.7L1109.2,756.3L1108,756.8L1106.8,756L1105.6,756.9L1104.4,756.1L1103.2,756.7L1102,757.2L1100.8,755.8L1099.6,756.5L1098.4,756L1097.2,756.3L1096,756.1L1094.8,756.5L1093.6,756.3L1092.4,756.8L1091.2,756.4L1090,756L1088.8,756L1087.6,757L1086.4,756.2L1085.2,756.5L1084,756.5L1082.8,756.8L1081.6,757L1080.4,756.1L1079.2,756.1L1078,756.6L1076.8,756L1075.6,756.5L1074.4,756.6L1073.2,756.5L1072,756.9L1070.8,756L1069.6,756.8L1068.4,756.3L1067.2,756.2L1066,756.2L1064.8,757L1063.6,756.9L1062.4,755.9L1061.2,756.8L1060,756.1L1058.8,757.2L1057.6,756.5L1056.4,756.1L1055.2,756.4L1054,755.8L1052.8,756.6L1051.6,756.5L1050.4,755.8L1049.2,756.6L1048,756.1L1046.8,756.5L1045.6,756.5L1044.4,756.2L1043.2,756.1L1042,755.9L1040.8,755.6L1039.6,757L1038.4,756.6L1037.2,756.8L1036,756L1034.8,756.6L1033.6,756.7L1032.4,755.6L1031.2,755.7L1030,755.6L1028.8,756.5L1027.6,756.5L1026.4,756.3L1025.2,756L1024,757L1022.8,756.1L1021.6,756L1020.4,756.5L1019.2,756.2L1018,755.9L1016.8,756.7L1015.6,756.4L1014.4,756.3L1013.2,755.6L1012,756L1010.8,756.2L1009.6,757L1008.4,756.9L1007.2,756.5L1006,756.7L1004.8,756.2L1003.6,755.7L1002.4,756.3L1001.2,755.9L1000,756.4L998.8,756L997.6,756.2L996.4,757L995.2,756.5L994,756.4L992.8,755.5L991.6,756L990.4,756.3L989.2,756.3L988,756.4L986.8,757L985.6,756.9L984.4,755.7L983.2,756.5L982,756.3L980.8,756.7L979.6,756.6L978.4,756L977.2,755.8L976,756.6L974.8,756.6L973.6,756.5L972.4,756.1L971.2,756.9L970,756L968.8,756.1L967.6,755.9L966.4,756.4L965.2,756.4L964,756.2L962.8,756.6L961.6,756.4L960.4,756.3L959.2,756.1L958,756.2L956.8,755.8L955.6,756.1L954.4,756.4L953.2,756.4L952,756L950.8,756.1L949.6,756.9L948.4,756.3L947.2,755.9L946,756.8L944.8,757.1L943.6,757.2L942.4,756.1L941.2,756.5L940,756.4L938.8,756.7L937.6,756.1L936.4,756.8L935.2,756.9L934,755.8L932.8,755.7L931.6,756.6L930.4,756.7L929.2,756.1L928,756.5L926.8,756.9L925.6,756.4L924.4,756.2L923.2,756.7L922,756.7L920.8,756.4L919.6,756.5L918.4,756.8L917.2,755.8L916,755.9L914.8,756.4L913.6,756.1L912.4,756.6L911.2,756.3L910,756.2L908.8,755.9L907.6,756.7L906.4,755.6L905.2,756.3L904,756.5L902.8,755.7L901.6,756.6L900.4,755.8L899.2,755.6L898,755.6L896.8,756L895.6,756.7L894.4,756.3L893.2,756.4L892,756.3L890.8,756.2L889.6,756.3L888.4,755.8L887.2,756L886,756.2L884.8,756L883.6,756.2L882.4,755.9L881.2,756.2L880,756.7L878.8,755.3L877.6,756.2L876.4,756.3L875.2,755.8L874,755.8L872.8,756L871.6,756.4L870.4,756.2L869.2,756.1L868,756.6L866.8,755.9L865.6,756L864.4,756.4L863.2,755.4L862,756.1L860.8,756.2L859.6,756.3L858.4,756L857.2,755.9L856,756.3L854.8,756.5L853.6,756.7L852.4,756.4L851.2,756L850,756.6L848.8,756.2L847.6,756.3L846.4,756.3L845.2,756.5L844,756.8L842.8,756.3L841.6,754.9L840.4,756.4L839.2,756.3L838,756.1L836.8,755.9L835.6,756.8L834.4,756.1L833.2,756L832,756.7L830.8,755.6L829.6,756L828.4,756.4L827.2,756L826,756.7L824.8,755.9L823.6,757.2L822.4,755.7L821.2,755.8L820,756L818.8,755.8L817.6,756.3L816.4,756.1L815.2,756.3L814,756L812.8,755.6L811.6,755.9L810.4,755.4L809.2,755.2L808,755.9L806.8,755.1L805.6,755.7L804.4,755.7L803.2,755.6L802,755.3L800.8,755.9L799.6,755.6L798.4,755.4L797.2,754.9L796,755.5L794.8,755.6L793.6,755.6L792.4,755L791.2,754.5L790,754.5L788.8,754.9L787.6,754.8L786.4,754.9L785.2,754.4L784,754L782.8,753.8L781.6,753.4L780.4,753.3L779.2,752.6L778,752.5L776.8,752.5L776.4,751.6L776,751.7L775.6,751.3L775.2,750.7L774.8,750.6L774.4,750.4L774,750L773.6,749.4L773.2,748.9L772.8,748.8L772.4,748.1L772,747.5L771.6,747L771.2,746.3L770.8,745.5L770.4,744.6L770,743.7L769.6,742.5L769.2,741.3L768.8,739.9L768.4,738.3L768,736.4L767.6,734.3L767.2,731.8L766.8,729L766.4,725.7L766,721.9L765.6,717.7L765.2,713.2L764.8,708.4L764.4,703.8L764,699.9L763.6,697.2L763.2,696.3L762.8,697.2L762.4,699.9L762,703.8L761.6,708.4L761.2,713.2L760.8,717.7L760.4,721.9L760,725.7L759.6,729L759.2,731.8L758.8,734.3L758.4,736.4L758,738.3L757.6,739.9L757.2,741.3L756.8,742.6L756.4,743.7L756,744.6L755.6,745.5L755.2,746.3L754.8,747L754.4,747.7L754,748.1L753.6,748.6L753.2,749.2L752.8,749.4L752.4,750.1L752,750L751.6,750.5L751.2,750.5L750.8,751.4L750.4,751.4L750,751.9L749.6,751.8L749.2,752.3L748,753L746.8,753.9L745.6,753.9L744.4,753.3L743.2,754.8L742,754.2L740.8,754.6L739.6,754.5L738.4,754.7L737.2,755.2L736,754.8L734.8,755.1L733.6,754.7L732.4,755.8L731.2,755.1L730,755.3L728.8,755.9L727.6,755.2L726.4,755L725.2,755.4L724,755.1L722.8,755.5L721.6,755.6L720.4,755.5L719.2,756.1L718,755.6L716.8,756.1L715.6,755.3L714.4,755.6L713.2,756.3L712,755.6L710.8,756.1L709.6,756.7L708.4,755.3L707.2,756.4L706,756.1L704.8,756L703.6,756.1L702.4,755.6L701.2,756.1L700,756.3L698.8,756.2L697.6,755.9L696.4,756L695.2,756.1L694,755.3L692.8,755.4L691.6,756.1L690.4,755.3L689.2,756.2L688,756.2L686.8,755.5L685.6,755.3L684.4,755.9L683.2,755.9L682,755.9L680.8,756.2L679.6,756.2L678.4,756.3L677.2,755.7L676,755.8L674.8,755.6L673.6,756.6L672.4,755.8L671.2,756L670,756.1L668.8,755.5L667.6,756L666.4,756.3L665.2,755.7L664,755.4L662.8,755.9L661.6,756.3L660.4,756.1L659.2,756.4L658,755.3L656.8,755.4L655.6,755.6L654.4,755.4L653.2,755.5L652,755.8L650.8,755.9L649.6,755.6L648.4,754.9L647.2,756L646,755.6L644.8,755.5L643.6,756.1L642.4,755.4L641.2,755.5L640,755.1L638.8,756.1L637.6,755.3L636.4,755.4L635.2,755.6L634,755.1L632.8,755.6L631.6,755.7L630.4,755.5L629.2,755.7L628,755.7L626.8,754.9L625.6,755.9L624.4,755.4L623.2,756L622,755.3L620.8,755.1L619.6,755.6L618.4,755.4L617.2,755.3L616,755.2L614.8,755.4L613.6,755.4L612.4,755.6L611.2,754.8L610,754.8L608.8,754.9L607.6,754.6L606.4,754.4L605.2,754.5L604,754.5L602.8,754.5L601.6,754.3L600.4,753.9L599.2,753.6L598,753.3L596.8,753.6L595.6,752.8L594.4,752.9L593.2,753.3L592,752.2L590.8,751.3L589.6,751.3L588.4,751.2L587.2,750L586,749.7L584.8,748.9L583.6,748.2L582.4,746.9L581.2,746.3L580,746.1L578.8,745.2L577.6,745.3L576.4,744.8L575.2,745.2L574,744.8L572.8,744.4L571.6,744.1L570.4,743L569.2,741.8L568,740.9L567.2,739.3L566.8,738.9L566.4,738L566,736.9L565.6,736.2L565.2,734.9L564.8,734.1L564.4,732.9L564,731.4L563.6,730.3L563.2,728.5L562.8,726.5L562.4,724.7L562,722.5L561.6,720.2L561.2,717.4L560.8,714.4L560.4,710.9L560,707L559.6,702.7L559.2,697.6L558.8,691.8L558.4,685.1L558,677.4L557.6,668.5L557.2,658.1L556.8,646L556.4,632.2L556,616.5L555.6,599.2L555.2,581.1L554.8,563.4L554.4,548.1L554,537.6L553.6,533.8L553.2,537.6L552.8,548.2L552.4,563.5L552,581.2L551.6,599.4L551.2,616.7L550.8,632.4L550.4,646.3L550,658.3L549.6,668.8L549.2,677.8L548.8,685.5L548.4,692.2L548,698L547.6,703.1L547.2,707.5L546.8,711.5L546.4,714.9L546,718L545.6,720.8L545.2,723.2L544.8,725.5L544.4,727.4L544,729.3L543.6,730.9L543.2,732.4L542.8,733.9L542.4,735.2L542,736.3L541.6,737.8L541.2,738.3L540.8,739L540.4,740.1L540,741.1L539.6,741.2L539.2,742.4L538,744.2L536.8,745.4L535.6,746.5L534.4,747.8L533.2,748.9L532,749.8L530.8,750.5L529.6,751.9L528.4,750.9L527.2,751.3L526,751.8L524.8,752.5L523.6,752.3L522.4,752.6L521.2,753L520,753.4L518.8,753.6L517.6,753.4L516.4,753.4L515.2,754.2L514,754.2L512.8,753.2L511.6,754.5L510.4,754.2L509.2,754.6L508,755L506.8,754.5L505.6,754.4L504.4,754.6L503.2,754.6L502,755.2L500.8,755L499.6,755.3L498.4,755.3L497.2,754.7L496,755.7L494.8,755.1L493.6,754.7L492.4,754.9L491.2,755.6L490,755L488.8,755.1L487.6,755.7L486.4,755.3L485.2,755.6L484,756.1L482.8,757L481.6,755.7L480.4,755.6L479.2,755.8L478,754.8L476.8,755.3L475.6,755.5L474.4,755.4L473.2,755.8L472,755.4L470.8,755.5L469.6,755.2L468.4,756.2L467.2,756.1L466,755.8L464.8,756.2L463.6,756L462.4,756L461.2,756.6L460,755.7L458.8,756.2L457.6,756L456.4,755.8L455.2,755.7L454,756.3L452.8,756.4L451.6,756.1L450.4,756.1L449.2,755.2L448,756.2L446.8,756.1L445.6,755.8L444.4,756.2L443.2,755.9L442,756.4L440.8,757L439.6,755.5L438.4,756.5L437.2,756.2L436,755.8L434.8,756.3L433.6,755.5L432.4,756.4L431.2,756.1L430,756L428.8,756L427.6,756.3L426.4,757L425.2,756.3L424,755.4L422.8,756.1L421.6,755.9L420.4,756.3L419.2,756.5L418,756.1L416.8,756L415.6,755.9L414.4,755.7L413.2,755.6L412,756.5L410.8,755.6L409.6,755.4L408.4,756.3L407.2,756.7L406,755.8L404.8,756.3L403.6,757L402.4,755.4L401.2,755.9L400,755.9L398.8,756.5L397.6,756.2L396.4,755.8L395.2,756L394,755.7L392.8,756.1L391.6,755.6L390.4,756.4L389.2,755.7L388,756.8L386.8,755.8L385.6,756.2L384.4,756.4L383.2,756.3L382,756.5L380.8,756.1L379.6,755.8L378.4,756.9L377.2,755.4L376,756.2L374.8,756.2L373.6,756.5L372.4,756.4L371.2,756.6L370,755.9L368.8,755.5L367.6,756.3L366.4,756.3L365.2,756.4L364,755.8L362.8,756.1L361.6,756.1L360.4,756.3L359.2,756.2L358,755.9L356.8,756.9L355.6,755.9L354.4,756.6L353.2,756.8L352,756.3L350.8,756.3L349.6,756.5L348.4,756L347.2,755.8L346,756.2L344.8,756.1L343.6,756.5L342.4,756.4L341.2,756L340,756.6L338.8,756.7L337.6,755.9L336.4,756.1L335.2,756.8L334,757.1L332.8,756.3L331.6,756.7L330.4,756.1L329.2,756.5L328,756.7L326.8,756.7L325.6,756.1L324.4,756L323.2,756.7L322,756.8L320.8,756.6L319.6,756.6L318.4,756.1L317.2,756.5L316,756.8L314.8,756.4L313.6,755.9L312.4,756L311.2,756L310,757L308.8,757.1L307.6,756L306.4,756.7L305.2,756.4L304,756L302.8,756.1L301.6,756.7L300.4,756.6L299.2,756.8L298,756.8L296.8,756.6L295.6,756.8L294.4,756.2L293.2,756.7L292,756L290.8,755.9L289.6,756.4L288.4,756.4L287.2,756.1L286,755.4L284.8,756.4L283.6,756.1L282.4,756.6L281.2,755.8L280,756.2L278.8,756.5L277.6,756.9L276.4,755.6L275.2,755.8L274,756.4L272.8,756.5L271.6,755.8L270.4,755.8L269.2,756.3L268,756.9L266.8,756.2L265.6,756.5L264.4,756.2L263.2,756.2L262,756.1L260.8,756.2L259.6,756.9L258.4,756.8L257.2,756.5L256,756.5L254.8,755.9L253.6,755.7L252.4,756.8L251.2,756.2L250,756.6L248.8,757L247.6,755.9L246.4,756.7L245.2,756.3L244,756.1L242.8,754.8L241.6,755.9L240.4,756.4L239.2,756.7L238,756.2L236.8,756.4L235.6,756.1L234.4,756L233.2,756.5L232,755.9L230.8,756.8L229.6,756L228.4,756.6L227.2,756L226,755.7L224.8,756.4L223.6,756.8L222.4,756.8L221.2,756.5L220,756L218.8,756.3L217.6,756.3L216.4,756.7L215.2,756.5L214,756.7L212.8,756.5L211.6,756.4L210.4,756.8L209.2,756.7L208,756L206.8,756.8L205.6,756.1L204.4,755.8L203.2,756.9L202,756.5L200.8,755.7L199.6,756.4L198.4,756.9L197.2,755.6L196,756.3L194.8,756L193.6,756.1L192.4,756.5L191.2,756.3L190,756.4L188.8,756.2L187.6,756.1L186.4,756.4L185.2,756.4L184,755.9L182.8,756.1L181.6,756.2L180.4,755.9L179.2,757.1L178,756.3L176.8,756.5L175.6,756L174.4,756.8L173.2,756.5L172,756.6L170.8,755.8L169.6,757L168.4,756.8L167.2,757.2L166,756L164.8,756.5L163.6,756.5L162.4,756.6L161.2,757L160,756.7L158.8,756.2L157.6,756.3L156.4,755.6L155.2,756.5L154,756.1L152.8,756.1L151.6,756.8L150.4,756.3L149.2,756.5L148,756.7Z" fill="#32aa69" stroke="#32aa69" stroke-width="8.0" stroke-linejoin="round"/>
<path d="M550.1,533.0H557.1V709.3L553.6,697.3L550.1,709.3Z" fill="#32aa69"/>
<path d="M759.7,695.0H766.7V752.0L763.2,740.0L759.7,752.0Z" fill="#32aa69"/>
<path d="M1459.3,686.0H1466.3V744.2L1462.8,732.2L1459.3,744.2Z" fill="#32aa69"/>
<path d="M148,608.1L149.2,607.9L150.4,607.6L151.6,608.4L152.8,607.9L154,607.7L155.2,608.2L156.4,608.7L157.6,608.1L158.8,608.4L160,607.7L161.2,608.3L162.4,607.3L163.6,607.9L164.8,608.3L166,608.2L167.2,608.4L168.4,607.8L169.6,607.4L170.8,608.1L172,607.6L173.2,608.3L174.4,607.9L175.6,607.1L176.8,608.5L178,607.5L179.2,607.5L180.4,608.7L181.6,608.5L182.8,608.4L184,607.6L185.2,608.2L186.4,608.1L187.6,607.7L188.8,607.9L190,607.9L191.2,608.1L192.4,607.6L193.6,608.3L194.8,607.4L196,608.1L197.2,608.3L198.4,607.7L199.6,607.8L200.8,608.7L202,607.9L203.2,608.5L204.4,608.3L205.6,607.7L206.8,608.3L208,607.9L209.2,608.1L210.4,607.3L211.6,608L212.8,608.4L214,608.4L215.2,608.3L216.4,607.9L217.6,608L218.8,607.6L220,607.9L221.2,607.9L222.4,607.9L223.6,608L224.8,607.9L226,607.7L227.2,607.7L228.4,608.2L229.6,608.7L230.8,608.3L232,607.9L233.2,608.9L234.4,608.2L235.6,607.8L236.8,608.2L238,608.4L239.2,607.3L240.4,607.5L241.6,608.1L242.8,607.5L244,607.5L245.2,608.4L246.4,607L247.6,608.3L248.8,608.1L250,608.4L251.2,608L252.4,608.5L253.6,608L254.8,607.6L256,607.9L257.2,608.1L258.4,607.4L259.6,608.3L260.8,607.6L262,608.1L263.2,607.9L264.4,608L265.6,607.9L266.8,608L268,608.3L269.2,608.2L270.4,607.8L271.6,608L272.8,608.4L274,608.2L275.2,608.2L276.4,608L277.6,607.9L278.8,607.9L280,608.2L281.2,608L282.4,608.5L283.6,609.1L284.8,608L286,608.6L287.2,608.3L288.4,608.4L289.6,607.7L290.8,608.4L292,607.9L293.2,608.2L294.4,608.4L295.6,608.6L296.8,607.8L298,607.8L299.2,607.7L300.4,607.3L301.6,607.9L302.8,607.9L304,608L305.2,607.9L306.4,608.1L307.6,608.3L308.8,607.2L310,608.7L311.2,607.9L312.4,607.8L313.6,607.9L314.8,608.3L316,608L317.2,608.1L318.4,608.4L319.6,608L320.8,608.1L322,608.2L323.2,607.7L324.4,608.4L325.6,607.8L326.8,608.2L328,607.8L329.2,607.9L330.4,607.9L331.6,608.3L332.8,608.3L334,608.3L335.2,607.9L336.4,607.7L337.6,607.6L338.8,608.2L340,607.9L341.2,608.6L342.4,608.8L343.6,608.3L344.8,608.2L346,608.5L347.2,608.6L348.4,607.8L349.6,608.3L350.8,608.6L352,607.1L353.2,607.9L354.4,608.1L355.6,607.7L356.8,608.2L358,607.3L359.2,608.5L360.4,608.4L361.6,608L362.8,608.2L364,607.4L365.2,608.6L366.4,608.2L367.6,607.9L368.8,607.7L370,607.6L371.2,607.8L372.4,607.1L373.6,608.1L374.8,607.9L376,607.6L377.2,608.1L378.4,608L379.6,608.1L380.8,608.2L382,608.4L383.2,608.1L384.4,608.5L385.6,607.8L386.8,608.5L388,607.1L389.2,607.3L390.4,607.5L391.6,608L392.8,608.1L394,607.4L395.2,607.8L396.4,607.7L397.6,608.2L398.8,607.5L400,608.2L401.2,607.9L402.4,608.5L403.6,608.1L404.8,607.7L406,608.1L407.2,608.1L408.4,607.6L409.6,607.9L410.8,607.4L412,608.8L413.2,607.7L414.4,607.7L415.6,608.4L416.8,608.4L418,607.5L419.2,608.3L420.4,608.1L421.6,607.6L422.8,608L424,607.7L425.2,608.2L426.4,607.7L427.6,607.4L428.8,607.7L430,608.6L431.2,607.6L432.4,607.8L433.6,608.1L434.8,607.3L436,608.5L437.2,607.1L438.4,608L439.6,607.2L440.8,607.8L442,608.3L443.2,607.7L444.4,607.6L445.6,607.5L446.8,607.3L448,608.1L449.2,607.5L450.4,607.4L451.6,607.8L452.8,608.1L454,608L455.2,607.4L456.4,607.4L457.6,608L458.8,608.2L460,607.2L461.2,608.2L462.4,607.6L463.6,607.9L464.8,608.3L466,607.5L467.2,607.6L468.4,607L469.6,606.7L470.8,607.6L472,607.1L473.2,607.1L474.4,607.7L475.6,607.8L476.8,606.8L478,607.6L479.2,607.4L480.4,607.5L481.6,607.4L482.8,607.6L484,607L485.2,606.8L486.4,607.4L487.6,607.8L488.8,607.2L490,607.7L491.2,607.4L492.4,606.6L493.6,606.2L494.8,606.9L496,607.4L497.2,606.6L498.4,607.7L499.6,607.1L500.8,606.2L502,606.4L503.2,607.2L504.4,607.2L505.6,606.2L506.8,606.5L508,606.6L509.2,606.1L510.4,606.4L511.6,606.8L512.8,605.7L514,606.1L515.2,606.1L516.4,606.1L517.6,605.3L518.8,605.5L520,604.8L521.2,604.9L522.4,604.2L523.6,604.5L524.8,604.3L526,604.4L527.2,603.7L528.4,602.6L529.6,601.2L530.8,602.3L532,601.6L533.2,600.3L534.4,599.4L535.6,598.8L536.8,597.3L538,596.4L539.2,594.1L539.6,593.1L540,592.2L540.4,591.8L540.8,591L541.2,589.9L541.6,588.8L542,587.9L542.4,586.9L542.8,585.4L543.2,584L543.6,582.7L544,581.1L544.4,579.1L544.8,577.1L545.2,574.8L545.6,572.4L546,569.6L546.4,566.5L546.8,563.1L547.2,559.1L547.6,554.7L548,549.6L548.4,543.8L548.8,537.1L549.2,529.3L549.6,520.3L550,509.9L550.4,497.8L550.8,483.9L551.2,468.2L551.6,450.9L552,432.8L552.4,415L552.8,399.7L553.2,389.1L553.6,385.3L554,389.1L554.4,399.6L554.8,414.9L555.2,432.6L555.6,450.7L556,468L556.4,483.7L556.8,497.5L557.2,509.5L557.6,519.9L558,528.9L558.4,536.6L558.8,543.2L559.2,549L559.6,554.1L560,558.5L560.4,562.4L560.8,565.7L561.2,568.8L561.6,571.5L562,574L562.4,576.1L562.8,577.9L563.2,579.8L563.6,581.4L564,582.7L564.4,584.3L564.8,585.3L565.2,586.3L565.6,587.6L566,588.5L566.4,589.1L566.8,589.9L567.2,590.6L568,591.7L569.2,593.1L570.4,594.5L571.6,595.1L572.8,595L574,594.9L575.2,594.8L576.4,595.5L577.6,594.7L578.8,594.9L580,595.5L581.2,595.9L582.4,596.7L583.6,597.3L584.8,599.4L586,599.8L587.2,600.9L588.4,601.8L589.6,601.9L590.8,602.6L592,603.8L593.2,604L594.4,604.1L595.6,605.1L596.8,604.5L598,605.1L599.2,605.2L600.4,605.3L601.6,605L602.8,605.8L604,606.1L605.2,605.4L606.4,606.4L607.6,606.5L608.8,606.9L610,606L611.2,606.4L612.4,606.4L613.6,606.6L614.8,606.8L616,607.1L617.2,607.1L618.4,606.7L619.6,606.9L620.8,606.4L622,607.3L623.2,607.2L624.4,607.5L625.6,606.6L626.8,607.6L628,606.9L629.2,606.7L630.4,607.3L631.6,607L632.8,608.1L634,607.5L635.2,608L636.4,607.3L637.6,607.4L638.8,607.7L640,607L641.2,607.3L642.4,607.6L643.6,607.6L644.8,608L646,607.5L647.2,606.7L648.4,607.8L649.6,607.3L650.8,607.7L652,607.2L653.2,607.4L654.4,607.6L655.6,608.2L656.8,607.8L658,607.1L659.2,607.7L660.4,607.3L661.6,607.8L662.8,608.3L664,607.4L665.2,607.5L666.4,607.8L667.6,607.8L668.8,607.5L670,607.8L671.2,607.5L672.4,607.7L673.6,608.5L674.8,607.7L676,607.9L677.2,608L678.4,607.5L679.6,607.8L680.8,607.4L682,607.2L683.2,607.6L684.4,608.2L685.6,607.9L686.8,607.3L688,607.7L689.2,607.9L690.4,607.7L691.6,607.4L692.8,607.5L694,607.4L695.2,607.9L696.4,607.7L697.6,607.7L698.8,607.6L700,608.4L701.2,607.7L702.4,608.1L703.6,607L704.8,607L706,606.9L707.2,607.2L708.4,607.7L709.6,607.2L710.8,607.6L712,607.3L713.2,607.8L714.4,607.7L715.6,607.3L716.8,606.7L718,607.4L719.2,606.5L720.4,606.3L721.6,607.8L722.8,607.3L724,607.6L725.2,607.2L726.4,607.3L727.6,607.1L728.8,606.7L730,606.6L731.2,606.8L732.4,606.8L733.6,606.7L734.8,606.6L736,606.3L737.2,606.4L738.4,606.1L739.6,606.6L740.8,605.6L742,605L743.2,605.3L744.4,605.6L745.6,604.3L746.8,604.4L748,604.7L748.7,603.5L749.1,603L749.2,603L749.5,602.6L749.9,602.5L750.3,602.4L750.4,602.7L750.7,602.3L751.1,601.7L751.5,601.3L751.6,601.4L751.9,601.1L752.3,600.5L752.7,600.3L752.8,600.2L753.1,599.6L753.5,599L753.9,598.4L754,598.4L754.3,597.7L754.7,597L755.1,596.1L755.2,595.9L755.5,595.1L755.9,594.1L756.3,592.9L756.4,592.5L756.7,591.5L757.1,589.9L757.5,588.2L757.6,587.7L757.9,586.1L758.3,583.8L758.7,581.1L758.8,580.3L759.1,577.9L759.5,574.3L759.9,570.2L760,569.1L760.3,565.6L760.7,560.5L761.1,555.3L761.2,554L761.5,550.3L761.9,545.9L762.3,543L762.4,542.5L762.7,542L763.1,543L763.5,546L763.6,546.9L763.9,550.3L764.3,555.3L764.7,560.5L764.8,561.8L765.1,565.6L765.5,570.2L765.9,574.3L766,575.3L766.3,577.9L766.7,581.1L767.1,583.8L767.2,584.4L767.5,586.1L767.9,588.2L768.3,589.9L768.4,590.4L768.7,591.5L769.1,592.8L769.5,594.1L769.6,594.4L769.9,595.2L770.3,596.1L770.7,597L770.8,596.9L771.1,597.7L771.5,598.3L771.9,598.9L772,599.2L772.3,599.5L772.7,599.9L773.1,600.6L773.2,600.7L773.5,600.9L773.9,601.6L774.3,601.9L774.4,601.8L774.7,602L775.1,602.6L775.5,602.8L775.6,602.8L775.9,603L776.3,603L776.8,603.5L778,604L779.2,605.1L780.4,605.3L781.6,605.2L782.8,606.2L784,605.7L785.2,606.3L786.4,606.5L787.6,606.1L788.8,606.8L790,606.9L791.2,607L792.4,606.8L793.6,605.9L794.8,607.8L796,607.1L797.2,607.2L798.4,606.8L799.6,607.4L800.8,608.2L802,606.8L803.2,607.8L804.4,607.4L805.6,607.9L806.8,607.9L808,607.7L809.2,607.2L810.4,607.2L811.6,607.8L812.8,607.4L814,607.7L815.2,607.6L816.4,607.6L817.6,607.4L818.8,607.9L820,607.7L821.2,607.6L822.4,607.7L823.6,608L824.8,607.1L826,607.9L827.2,607.5L828.4,607.7L829.6,607.3L830.8,608.6L832,607L833.2,607.9L834.4,608.3L835.6,607.8L836.8,607L838,607.6L839.2,608.3L840.4,608L841.6,607.3L842.8,608.4L844,607.9L845.2,608L846.4,607L847.6,608L848.8,607.4L850,608.1L851.2,608.2L852.4,607.5L853.6,607.6L854.8,608.5L856,607.6L857.2,607.7L858.4,608.1L859.6,607.8L860.8,607.8L862,608.1L863.2,608.1L864.4,608.2L865.6,608L866.8,608.4L868,607.9L869.2,608.5L870.4,607.9L871.6,608L872.8,608.3L874,607.6L875.2,607.2L876.4,607.4L877.6,608.5L878.8,607.5L880,607.9L881.2,608L882.4,608.2L883.6,608L884.8,607.4L886,607.7L887.2,608.1L888.4,608.2L889.6,608.1L890.8,607.7L892,607.3L893.2,608.4L894.4,608L895.6,608.1L896.8,608.2L898,607.8L899.2,607.8L900.4,608.5L901.6,608.4L902.8,607.5L904,607.9L905.2,607.8L906.4,608.2L907.6,608.1L908.8,607.8L910,608.2L911.2,608.4L912.4,608L913.6,607.6L914.8,608.4L916,607.6L917.2,607.7L918.4,608.3L919.6,608L920.8,608L922,607.7L923.2,607.7L924.4,608.5L925.6,608.5L926.8,607.6L928,607.9L929.2,607.8L930.4,607.9L931.6,607.4L932.8,608.4L934,607.6L935.2,608.3L936.4,607.7L937.6,607.5L938.8,608.5L940,607.8L941.2,608.1L942.4,608.1L943.6,608L944.8,608.4L946,608.4L947.2,607.8L948.4,607.7L949.6,608.2L950.8,608.5L952,607.1L953.2,607.6L954.4,607.9L955.6,608.4L956.8,608.2L958,607.9L959.2,608.4L960.4,607.4L961.6,608L962.8,607.9L964,608.4L965.2,608.3L966.4,608.3L967.6,607.9L968.8,608.1L970,608.1L971.2,607.9L972.4,607.9L973.6,607.5L974.8,608.1L976,608.4L977.2,608L978.4,607.5L979.6,608.2L980.8,608L982,608.1L983.2,607.9L984.4,607.9L985.6,608.3L986.8,608.1L988,607.7L989.2,607.6L990.4,607.7L991.6,607.7L992.8,608.1L994,608.2L995.2,607.7L996.4,608.5L997.6,608L998.8,608.7L1000,608.2L1001.2,608.3L1002.4,608.5L1003.6,607.8L1004.8,608.3L1006,608.2L1007.2,608.1L1008.4,608.3L1009.6,607.5L1010.8,608.2L1012,607.9L1013.2,608.5L1014.4,608.2L1015.6,608.1L1016.8,608.1L1018,608.2L1019.2,608L1020.4,607.4L1021.6,608.1L1022.8,608.1L1024,608.2L1025.2,607.1L1026.4,607.4L1027.6,607.8L1028.8,607.8L1030,608.3L1031.2,608.1L1032.4,607.9L1033.6,608L1034.8,608.3L1036,608.3L1037.2,607.8L1038.4,607.9L1039.6,608.8L1040.8,608L1042,607.5L1043.2,608.3L1044.4,607.9L1045.6,608.6L1046.8,607.7L1048,608.4L1049.2,608.5L1050.4,608.1L1051.6,607.1L1052.8,608.3L1054,608.5L1055.2,607.9L1056.4,607.9L1057.6,607.4L1058.8,608.5L1060,608.6L1061.2,608.1L1062.4,607.9L1063.6,607.9L1064.8,607.6L1066,608.6L1067.2,608.3L1068.4,608.1L1069.6,607.7L1070.8,607.8L1072,608.2L1073.2,608.4L1074.4,607.7L1075.6,607.7L1076.8,607L1078,608.1L1079.2,607.4L1080.4,608.5L1081.6,608.2L1082.8,608.3L1084,608.2L1085.2,608.4L1086.4,608.2L1087.6,608L1088.8,608.2L1090,607.8L1091.2,608.1L1092.4,608L1093.6,607.5L1094.8,607.9L1096,608L1097.2,608L1098.4,608L1099.6,607.8L1100.8,608.3L1102,607.6L1103.2,607.4L1104.4,607.6L1105.6,608.2L1106.8,608.6L1108,608.2L1109.2,608L1110.4,607.7L1111.6,608.1L1112.8,608.1L1114,607.5L1115.2,608.3L1116.4,607.6L1117.6,607.7L1118.8,608.5L1120,607.9L1121.2,608.2L1122.4,608.4L1123.6,608.7L1124.8,608.6L1126,607.9L1127.2,608.2L1128.4,607.9L1129.6,608.4L1130.8,608.1L1132,608.1L1133.2,608.6L1134.4,608.6L1135.6,607.9L1136.8,608L1138,608.4L1139.2,608.1L1140.4,607.8L1141.6,607.3L1142.8,608.4L1144,607.8L1145.2,607.2L1146.4,608L1147.6,607.5L1148.8,609L1150,607.5L1151.2,608L1152.4,608.7L1153.6,607.7L1154.8,607.6L1156,607.6L1157.2,607.6L1158.4,608L1159.6,608.3L1160.8,608.2L1162,608L1163.2,607.9L1164.4,608.2L1165.6,608L1166.8,607.7L1168,607.9L1169.2,607.2L1170.4,607.2L1171.6,608.5L1172.8,608.2L1174,608.5L1175.2,608.5L1176.4,607.8L1177.6,608.4L1178.8,608.4L1180,608.1L1181.2,607.7L1182.4,608.2L1183.6,608.2L1184.8,607.7L1186,607.8L1187.2,607.9L1188.4,607.7L1189.6,608.4L1190.8,607.9L1192,608.3L1193.2,607.6L1194.4,607.7L1195.6,608.4L1196.8,607.5L1198,608.5L1199.2,607.6L1200.4,607.9L1201.6,608.3L1202.8,608.4L1204,608.1L1205.2,608L1206.4,608.3L1207.6,607.8L1208.8,608.5L1210,608L1211.2,608L1212.4,608.7L1213.6,607.9L1214.8,608.5L1216,609L1217.2,608.3L1218.4,608.1L1219.6,607.7L1220.8,608.2L1222,607.5L1223.2,607.5L1224.4,607.6L1225.6,607.5L1226.8,607.9L1228,608.2L1229.2,607.8L1230.4,607.7L1231.6,607.9L1232.8,608.1L1234,608.6L1235.2,607.8L1236.4,607.9L1237.6,608.5L1238.8,608L1240,607.7L1241.2,608.1L1242.4,607.7L1243.6,607.7L1244.8,608.6L1246,608.1L1247.2,607.8L1248.4,607.7L1249.6,607.5L1250.8,608.7L1252,608L1253.2,607.7L1254.4,607.6L1255.6,607.4L1256.8,608.4L1258,608.2L1259.2,608.4L1260.4,607.7L1261.6,608.5L1262.8,607.6L1264,607.7L1265.2,607.8L1266.4,608.8L1267.6,608.3L1268.8,607.7L1270,608.5L1271.2,608.1L1272.4,608L1273.6,607.7L1274.8,607.9L1276,607.9L1277.2,608.2L1278.4,608L1279.6,608.1L1280.8,607.7L1282,608.1L1283.2,607.6L1284.4,608.6L1285.6,607.5L1286.8,608.1L1288,607.6L1289.2,608L1290.4,607.7L1291.6,607.4L1292.8,608.2L1294,608L1295.2,608.1L1296.4,607.9L1297.6,608.6L1298.8,608.1L1300,608.1L1301.2,608.3L1302.4,608.1L1303.6,608.6L1304.8,607.5L1306,607.8L1307.2,607.3L1308.4,608.3L1309.6,608.4L1310.8,607.9L1312,608.6L1313.2,607.9L1314.4,608.2L1315.6,608.1L1316.8,607.9L1318,608L1319.2,607.3L1320.4,607.7L1321.6,608.5L1322.8,607.6L1324,608.5L1325.2,607.9L1326.4,608.4L1327.6,608.3L1328.8,607.5L1330,608.2L1331.2,608.2L1332.4,608.2L1333.6,608.1L1334.8,607.4L1336,608.4L1337.2,608.4L1338.4,607.7L1339.6,608.5L1340.8,608.1L1342,607.5L1343.2,607.9L1344.4,608.1L1345.6,608.2L1346.8,608.3L1348,608.2L1349.2,607.9L1350.4,607.5L1351.6,607.6L1352.8,608.1L1354,608.2L1355.2,607.7L1356.4,608.6L1357.6,608.1L1358.8,608L1360,608.3L1361.2,608.3L1362.4,607.8L1363.6,608.5L1364.8,608.2L1366,608.1L1367.2,607.9L1368.4,608.4L1369.6,607.5L1370.8,608L1372,608L1373.2,608L1374.4,608.1L1375.6,608.2L1376.8,607.4L1378,607.8L1379.2,607.9L1380.4,607.5L1381.6,608.1L1382.8,607.6L1384,607.8L1385.2,608.1L1386.4,607.5L1387.6,608.4L1388.8,607.5L1390,608.1L1391.2,607.6L1392.4,607.2L1393.6,607.5L1394.8,608L1396,607.7L1397.2,607.8L1398.4,608.1L1399.6,608.1L1400.8,607.7L1402,607.5L1403.2,608.3L1404.4,607.6L1405.6,607.4L1406.8,607.5L1408,607.9L1409.2,607.2L1410.4,608L1411.6,607.3L1412.8,606.9L1414,608.2L1415.2,607.3L1416.4,607.3L1417.6,607.3L1418.8,607.6L1420,607.4L1421.2,607.7L1422.4,607.1L1423.6,606.9L1424.8,607.3L1426,607.3L1427.2,607.1L1428.4,606.8L1429.6,606.7L1430.8,606.7L1432,606.5L1433.2,606.9L1434.4,607.3L1435.6,605.9L1436.8,605.5L1438,606.3L1439.2,605.8L1440.4,605.2L1441.6,604.7L1442.8,604.5L1444,603.9L1445.2,603.9L1446.4,603.2L1447.6,602.6L1448.8,602.1L1449.2,601.4L1449.6,601.2L1450,600.8L1450.4,600.8L1450.8,600.1L1451.2,600.1L1451.6,599.4L1452,599.3L1452.4,598.6L1452.8,597.8L1453.2,597.3L1453.6,596.6L1454,595.9L1454.4,594.9L1454.8,594.1L1455.2,593.1L1455.6,592L1456,590.8L1456.4,589.4L1456.8,587.9L1457.2,586.2L1457.6,584.2L1458,582.1L1458.4,579.6L1458.8,576.9L1459.2,573.9L1459.6,570.6L1460,567L1460.4,563.3L1460.8,559.4L1461.2,555.6L1461.6,552.2L1462,549.5L1462.4,547.7L1462.8,547L1463.2,547.7L1463.6,549.5L1464,552.2L1464.4,555.6L1464.8,559.4L1465.2,563.3L1465.6,567L1466,570.6L1466.4,573.9L1466.8,576.9L1467.2,579.6L1467.6,582.1L1468,584.2L1468.4,586.2L1468.8,587.8L1469.2,589.4L1469.6,590.8L1470,591.9L1470.4,593.1L1470.8,594L1471.2,595L1471.6,595.8L1472,596.6L1472.4,597.2L1472.8,598L1473.2,598.6L1473.6,598.9L1474,599.7L1474.4,600L1474.8,600.2L1475.2,600.8L1475.6,601.3L1476,601.7L1476.4,601.7L1477.6,602.6L1478.8,603.1L1480,603.8L1481.2,603.5L1482.4,604.8L1483.6,605.7L1484.8,605.2L1486,605.5L1487.2,605.7L1488.4,606.5L1489.6,605.7L1490.8,606.3L1492,606.4L1493.2,607.1L1494.4,606.4L1495.6,606.7L1496.8,606.3L1498,607L1499.2,607.4L1500.4,607L1501.6,607.4L1502.8,607L1504,607.6L1505.2,607.3L1506.4,607.4L1507.6,607.3L1508.8,607.5L1510,607.7L1511.2,607.4L1512.4,607.7L1513.6,607.4L1514.8,607.6L1516,608.3L1517.2,607.6L1518.4,607L1519.6,607.5L1520.8,607.4L1522,607.4L1523.2,607.8L1524.4,608.1L1525.6,607.4L1526.8,607.3L1528,607.5L1529.2,607.5L1530.4,607.6L1531.6,607.7L1532.8,607.6L1534,607.7L1535.2,607.6L1536.4,608.1L1537.6,608L1538.8,607.5L1540,607.9L1541.2,608.6L1542.4,607.7L1543.6,608.6L1544.8,607.1L1546,607.5L1547.2,607.5L1548.4,608L1549.6,608.2L1550.8,607.8L1552,607.7L1553.2,608L1554.4,607.7L1555.6,607.5L1556.8,607.5L1558,608.1L1559.2,608.5L1560.4,607.7L1561.6,607.9L1562.8,607.5L1564,607L1565.2,607L1566.4,607.4L1567.6,607.1L1568.8,606.8L1570,607.3L1571.2,607.2L1572.4,606.8L1573.6,607L1574.8,607L1576,606.9L1577.2,606.4L1578.4,606.4L1579.6,605.5L1580.8,605.6L1582,604.7L1583.2,604.6L1584.4,605.4L1585.6,604.7L1586.8,605.5L1588,605.2L1589.2,605.9L1590.4,606.4L1591.6,606.4L1592.8,607L1594,606.9L1595.2,607L1596.4,607.3L1597.6,607.2L1598.8,607.8L1600,607.3L1601.2,608L1602.4,607.4L1603.6,607.5L1604.8,607.4L1606,607.9L1607.2,606.6L1608.4,607.9L1609.6,607.7L1610.8,608.1L1612,607.3L1613.2,608L1614.4,607.5L1615.6,608.2L1616.8,607.8L1618,608L1619.2,607.6L1620.4,608L1621.6,608.2L1622.8,607.7L1624,608.3L1625.2,608.3L1626.4,607.7L1627.6,608.6L1628.8,607.7L1630,608.1L1631.2,608.3L1632.4,607.9L1633.6,607.7L1634.8,608.2L1636,608L1637.2,607.7L1638.4,607.7L1639.6,608L1640.8,608.2L1642,608.3L1643.2,608.2L1644.4,607.7L1645.6,607.8L1646.8,607.9L1648,607.5L1649.2,608.1L1650.4,608.1L1651.6,608.1L1652.8,607.3L1654,608.7L1655.2,607.9L1656.4,607.8L1657.6,608L1658.8,607.2L1660,607.6L1661.2,607.7L1662.4,608.3L1663.6,607.8L1664.8,608.1L1666,608L1667.2,607.9L1668.4,608.2L1669.6,607.8L1670.8,607.4L1672,607.6L1673.2,607.9L1674.4,608.7L1675.6,607.6L1676.8,607.6L1678,608.1L1679.2,608.2L1680.4,607.8L1681.6,608.3L1682.8,607.7L1684,608.4L1685.2,608.3L1686.4,608L1687.6,608.5L1688.8,608L1690,607.8L1691.2,608.5L1692.4,607.7L1693.6,608.2L1694.8,607.8L1696,607.9L1697.2,608.2L1698.4,608.2L1699.6,608.6L1700.8,608.3L1702,608.3L1703.2,607.4L1704.4,607.6L1705.6,608.5L1706.8,607.7L1708,607.9L1709.2,608.1L1710.4,607.8L1711.6,607.7L1712.8,608.2L1714,608.1L1715.2,608L1716.4,608.4L1717.6,608L1718.8,608L1720,608.3L1721.2,608.3L1722.4,607.9L1723.6,607.7L1724.8,607.9L1726,608.3L1727.2,607.8L1728.4,608L1729.6,607.8L1730.8,607.6L1732,608.3L1733.2,608.1L1734.4,608.2L1735.6,608.3L1736.8,607.3L1738,607.7L1739.2,608.6L1740.4,607.9L1741.6,608.2L1742.8,607.6L1744,608L1745.2,608.1L1746.4,608L1747.6,607.9L1748.8,608L1750,608.1L1751.2,608.1L1752.4,607.8L1753.6,608.4L1754.8,608L1756,608.1L1757.2,608.2L1758.4,607.8L1759.6,608.5L1760.8,608.2L1762,608.3L1763.2,607.8L1764.4,608.2L1765.6,608L1766.8,607.9L1768,608.6L1769.2,607.9L1770.4,608.3L1771.6,608.1L1772.8,608.1L1772.8,610.8L1771.6,610.8L1770.4,611L1769.2,610.6L1768,611.3L1766.8,610.6L1765.6,610.7L1764.4,610.9L1763.2,610.5L1762,611L1760.8,610.9L1759.6,611.2L1758.4,610.5L1757.2,610.9L1756,610.8L1754.8,610.7L1753.6,611.1L1752.4,610.5L1751.2,610.8L1750,610.8L1748.8,610.7L1747.6,610.6L1746.4,610.7L1745.2,610.8L1744,610.7L1742.8,610.3L1741.6,610.9L1740.4,610.6L1739.2,611.3L1738,610.4L1736.8,610L1735.6,611L1734.4,610.9L1733.2,610.8L1732,611L1730.8,610.3L1729.6,610.5L1728.4,610.7L1727.2,610.5L1726,611L1724.8,610.6L1723.6,610.4L1722.4,610.6L1721.2,611L1720,611L1718.8,610.7L1717.6,610.7L1716.4,611.1L1715.2,610.7L1714,610.8L1712.8,610.9L1711.6,610.4L1710.4,610.5L1709.2,610.8L1708,610.6L1706.8,610.4L1705.6,611.2L1704.4,610.3L1703.2,610.1L1702,611L1700.8,611L1699.6,611.3L1698.4,610.9L1697.2,610.9L1696,610.6L1694.8,610.5L1693.6,610.9L1692.4,610.4L1691.2,611.2L1690,610.5L1688.8,610.7L1687.6,611.2L1686.4,610.7L1685.2,611L1684,611.1L1682.8,610.4L1681.6,611L1680.4,610.5L1679.2,610.9L1678,610.8L1676.8,610.3L1675.6,610.3L1674.4,611.4L1673.2,610.6L1672,610.3L1670.8,610.1L1669.6,610.5L1668.4,610.9L1667.2,610.6L1666,610.7L1664.8,610.8L1663.6,610.5L1662.4,611L1661.2,610.4L1660,610.3L1658.8,609.9L1657.6,610.7L1656.4,610.5L1655.2,610.6L1654,611.4L1652.8,610L1651.6,610.8L1650.4,610.8L1649.2,610.8L1648,610.2L1646.8,610.6L1645.6,610.5L1644.4,610.4L1643.2,610.9L1642,611L1640.8,610.9L1639.6,610.7L1638.4,610.4L1637.2,610.4L1636,610.7L1634.8,610.9L1633.6,610.4L1632.4,610.6L1631.2,611L1630,610.8L1628.8,610.4L1627.6,611.3L1626.4,610.4L1625.2,611L1624,611L1622.8,610.4L1621.6,610.9L1620.4,610.7L1619.2,610.3L1618,610.7L1616.8,610.5L1615.6,610.9L1614.4,610.2L1613.2,610.7L1612,610L1610.8,610.8L1609.6,610.4L1608.4,610.6L1607.2,609.3L1606,610.6L1604.8,610.1L1603.6,610.2L1602.4,610.1L1601.2,610.7L1600,610L1598.8,610.5L1597.6,609.9L1596.4,610L1595.2,609.7L1594,609.6L1592.8,609.7L1591.6,609.1L1590.4,609.1L1589.2,608.6L1588,607.9L1586.8,608.2L1585.6,607.4L1584.4,608.1L1583.2,607.3L1582,607.4L1580.8,608.3L1579.6,608.2L1578.4,609.1L1577.2,609.1L1576,609.6L1574.8,609.7L1573.6,609.7L1572.4,609.5L1571.2,609.9L1570,610L1568.8,609.5L1567.6,609.8L1566.4,610.1L1565.2,609.7L1564,609.7L1562.8,610.2L1561.6,610.6L1560.4,610.4L1559.2,611.2L1558,610.8L1556.8,610.2L1555.6,610.2L1554.4,610.4L1553.2,610.7L1552,610.4L1550.8,610.5L1549.6,610.9L1548.4,610.7L1547.2,610.2L1546,610.2L1544.8,609.8L1543.6,611.3L1542.4,610.4L1541.2,611.3L1540,610.6L1538.8,610.2L1537.6,610.7L1536.4,610.8L1535.2,610.3L1534,610.4L1532.8,610.3L1531.6,610.4L1530.4,610.3L1529.2,610.2L1528,610.2L1526.8,610L1525.6,610.1L1524.4,610.8L1523.2,610.5L1522,610.1L1520.8,610.1L1519.6,610.2L1518.4,609.7L1517.2,610.3L1516,611L1514.8,610.3L1513.6,610.1L1512.4,610.4L1511.2,610.1L1510,610.4L1508.8,610.2L1507.6,610L1506.4,610.1L1505.2,610L1504,610.3L1502.8,609.7L1501.6,610.1L1500.4,609.7L1499.2,610.1L1498,609.7L1496.8,609L1495.6,609.4L1494.4,609.1L1493.2,609.8L1492,609.1L1490.8,609L1489.6,608.4L1488.4,609.2L1487.2,608.4L1486,608.2L1484.8,607.9L1483.6,608.4L1482.4,607.5L1481.2,606.2L1480,606.5L1478.8,605.8L1477.6,605.3L1476.4,604.4L1476,604.4L1475.6,604L1475.2,603.5L1474.8,602.9L1474.4,602.7L1474,602.4L1473.6,601.6L1473.2,601.3L1472.8,600.7L1472.4,599.9L1472,599.3L1471.6,598.5L1471.2,597.7L1470.8,596.7L1470.4,595.8L1470,594.6L1469.6,593.5L1469.2,592.1L1468.8,590.5L1468.4,588.9L1468,586.9L1467.6,584.8L1467.2,582.3L1466.8,579.6L1466.4,576.6L1466,573.3L1465.6,569.7L1465.2,566L1464.8,562.1L1464.4,558.3L1464,554.9L1463.6,552.2L1463.2,550.4L1462.8,549.7L1462.4,550.4L1462,552.2L1461.6,554.9L1461.2,558.3L1460.8,562.1L1460.4,566L1460,569.7L1459.6,573.3L1459.2,576.6L1458.8,579.6L1458.4,582.3L1458,584.8L1457.6,586.9L1457.2,588.9L1456.8,590.6L1456.4,592.1L1456,593.5L1455.6,594.7L1455.2,595.8L1454.8,596.8L1454.4,597.6L1454,598.6L1453.6,599.3L1453.2,600L1452.8,600.5L1452.4,601.3L1452,602L1451.6,602.1L1451.2,602.8L1450.8,602.8L1450.4,603.5L1450,603.5L1449.6,603.9L1449.2,604.1L1448.8,604.8L1447.6,605.3L1446.4,605.9L1445.2,606.6L1444,606.6L1442.8,607.2L1441.6,607.4L1440.4,607.9L1439.2,608.5L1438,609L1436.8,608.2L1435.6,608.6L1434.4,610L1433.2,609.6L1432,609.2L1430.8,609.4L1429.6,609.4L1428.4,609.5L1427.2,609.8L1426,610L1424.8,610L1423.6,609.6L1422.4,609.8L1421.2,610.4L1420,610.1L1418.8,610.3L1417.6,610L1416.4,610L1415.2,610L1414,610.9L1412.8,609.6L1411.6,610L1410.4,610.7L1409.2,609.9L1408,610.6L1406.8,610.2L1405.6,610.1L1404.4,610.3L1403.2,611L1402,610.2L1400.8,610.4L1399.6,610.8L1398.4,610.8L1397.2,610.5L1396,610.4L1394.8,610.7L1393.6,610.2L1392.4,609.9L1391.2,610.3L1390,610.8L1388.8,610.2L1387.6,611.1L1386.4,610.2L1385.2,610.8L1384,610.5L1382.8,610.3L1381.6,610.8L1380.4,610.2L1379.2,610.6L1378,610.5L1376.8,610.1L1375.6,610.9L1374.4,610.8L1373.2,610.7L1372,610.7L1370.8,610.7L1369.6,610.2L1368.4,611.1L1367.2,610.6L1366,610.8L1364.8,610.9L1363.6,611.2L1362.4,610.5L1361.2,611L1360,611L1358.8,610.7L1357.6,610.8L1356.4,611.3L1355.2,610.4L1354,610.9L1352.8,610.8L1351.6,610.3L1350.4,610.2L1349.2,610.6L1348,610.9L1346.8,611L1345.6,610.9L1344.4,610.8L1343.2,610.6L1342,610.2L1340.8,610.8L1339.6,611.2L1338.4,610.4L1337.2,611.1L1336,611.1L1334.8,610.1L1333.6,610.8L1332.4,610.9L1331.2,610.9L1330,610.9L1328.8,610.2L1327.6,611L1326.4,611.1L1325.2,610.6L1324,611.2L1322.8,610.3L1321.6,611.2L1320.4,610.4L1319.2,610L1318,610.7L1316.8,610.6L1315.6,610.8L1314.4,610.9L1313.2,610.6L1312,611.3L1310.8,610.6L1309.6,611.1L1308.4,611L1307.2,610L1306,610.5L1304.8,610.2L1303.6,611.3L1302.4,610.8L1301.2,611L1300,610.8L1298.8,610.8L1297.6,611.3L1296.4,610.6L1295.2,610.8L1294,610.7L1292.8,610.9L1291.6,610.1L1290.4,610.4L1289.2,610.7L1288,610.3L1286.8,610.8L1285.6,610.2L1284.4,611.3L1283.2,610.3L1282,610.8L1280.8,610.4L1279.6,610.8L1278.4,610.7L1277.2,610.9L1276,610.6L1274.8,610.6L1273.6,610.4L1272.4,610.7L1271.2,610.8L1270,611.2L1268.8,610.4L1267.6,611L1266.4,611.5L1265.2,610.5L1264,610.4L1262.8,610.3L1261.6,611.2L1260.4,610.4L1259.2,611.1L1258,610.9L1256.8,611.1L1255.6,610.1L1254.4,610.3L1253.2,610.4L1252,610.7L1250.8,611.4L1249.6,610.2L1248.4,610.4L1247.2,610.5L1246,610.8L1244.8,611.3L1243.6,610.4L1242.4,610.4L1241.2,610.8L1240,610.4L1238.8,610.7L1237.6,611.2L1236.4,610.6L1235.2,610.5L1234,611.3L1232.8,610.8L1231.6,610.6L1230.4,610.4L1229.2,610.5L1228,610.9L1226.8,610.6L1225.6,610.2L1224.4,610.3L1223.2,610.2L1222,610.2L1220.8,610.9L1219.6,610.4L1218.4,610.8L1217.2,611L1216,611.7L1214.8,611.2L1213.6,610.6L1212.4,611.4L1211.2,610.7L1210,610.7L1208.8,611.2L1207.6,610.5L1206.4,611L1205.2,610.7L1204,610.8L1202.8,611.1L1201.6,611L1200.4,610.6L1199.2,610.3L1198,611.2L1196.8,610.2L1195.6,611.1L1194.4,610.4L1193.2,610.3L1192,611L1190.8,610.6L1189.6,611.1L1188.4,610.4L1187.2,610.6L1186,610.5L1184.8,610.4L1183.6,610.9L1182.4,610.9L1181.2,610.4L1180,610.8L1178.8,611.1L1177.6,611.1L1176.4,610.5L1175.2,611.2L1174,611.2L1172.8,610.9L1171.6,611.2L1170.4,609.9L1169.2,609.9L1168,610.6L1166.8,610.4L1165.6,610.7L1164.4,610.9L1163.2,610.6L1162,610.7L1160.8,610.9L1159.6,611L1158.4,610.7L1157.2,610.3L1156,610.3L1154.8,610.3L1153.6,610.4L1152.4,611.4L1151.2,610.7L1150,610.2L1148.8,611.7L1147.6,610.2L1146.4,610.7L1145.2,609.9L1144,610.5L1142.8,611.1L1141.6,610L1140.4,610.5L1139.2,610.8L1138,611.1L1136.8,610.7L1135.6,610.6L1134.4,611.3L1133.2,611.3L1132,610.8L1130.8,610.8L1129.6,611.1L1128.4,610.6L1127.2,610.9L1126,610.6L1124.8,611.3L1123.6,611.4L1122.4,611.1L1121.2,610.9L1120,610.6L1118.8,611.2L1117.6,610.4L1116.4,610.3L1115.2,611L1114,610.2L1112.8,610.8L1111.6,610.8L1110.4,610.4L1109.2,610.7L1108,610.9L1106.8,611.3L1105.6,610.9L1104.4,610.3L1103.2,610.1L1102,610.3L1100.8,611L1099.6,610.5L1098.4,610.7L1097.2,610.7L1096,610.7L1094.8,610.6L1093.6,610.2L1092.4,610.7L1091.2,610.8L1090,610.5L1088.8,610.9L1087.6,610.7L1086.4,610.9L1085.2,611.1L1084,610.9L1082.8,611L1081.6,610.9L1080.4,611.2L1079.2,610.1L1078,610.8L1076.8,609.7L1075.6,610.4L1074.4,610.4L1073.2,611.1L1072,610.9L1070.8,610.5L1069.6,610.4L1068.4,610.8L1067.2,611L1066,611.3L1064.8,610.3L1063.6,610.6L1062.4,610.6L1061.2,610.8L1060,611.3L1058.8,611.2L1057.6,610.1L1056.4,610.6L1055.2,610.6L1054,611.2L1052.8,611L1051.6,609.8L1050.4,610.8L1049.2,611.2L1048,611.1L1046.8,610.4L1045.6,611.3L1044.4,610.6L1043.2,611L1042,610.2L1040.8,610.7L1039.6,611.5L1038.4,610.6L1037.2,610.5L1036,611L1034.8,611L1033.6,610.7L1032.4,610.6L1031.2,610.8L1030,611L1028.8,610.5L1027.6,610.5L1026.4,610.1L1025.2,609.8L1024,610.9L1022.8,610.8L1021.6,610.8L1020.4,610.1L1019.2,610.7L1018,610.9L1016.8,610.8L1015.6,610.8L1014.4,610.9L1013.2,611.2L1012,610.6L1010.8,610.9L1009.6,610.2L1008.4,611L1007.2,610.8L1006,610.9L1004.8,611L1003.6,610.5L1002.4,611.2L1001.2,611L1000,610.9L998.8,611.4L997.6,610.7L996.4,611.2L995.2,610.4L994,610.9L992.8,610.8L991.6,610.4L990.4,610.4L989.2,610.3L988,610.4L986.8,610.8L985.6,611L984.4,610.6L983.2,610.6L982,610.8L980.8,610.7L979.6,610.9L978.4,610.2L977.2,610.7L976,611.1L974.8,610.8L973.6,610.2L972.4,610.6L971.2,610.6L970,610.8L968.8,610.8L967.6,610.6L966.4,611L965.2,611L964,611.1L962.8,610.6L961.6,610.7L960.4,610.1L959.2,611.1L958,610.6L956.8,610.9L955.6,611.1L954.4,610.6L953.2,610.3L952,609.8L950.8,611.2L949.6,610.9L948.4,610.4L947.2,610.5L946,611.1L944.8,611.1L943.6,610.7L942.4,610.8L941.2,610.8L940,610.5L938.8,611.2L937.6,610.2L936.4,610.4L935.2,611L934,610.3L932.8,611.1L931.6,610.1L930.4,610.6L929.2,610.5L928,610.6L926.8,610.3L925.6,611.2L924.4,611.2L923.2,610.4L922,610.4L920.8,610.7L919.6,610.7L918.4,611L917.2,610.4L916,610.3L914.8,611.1L913.6,610.3L912.4,610.7L911.2,611.1L910,610.9L908.8,610.5L907.6,610.8L906.4,610.9L905.2,610.5L904,610.6L902.8,610.2L901.6,611.1L900.4,611.2L899.2,610.5L898,610.5L896.8,610.9L895.6,610.8L894.4,610.7L893.2,611.1L892,610L890.8,610.4L889.6,610.8L888.4,610.9L887.2,610.8L886,610.4L884.8,610.1L883.6,610.7L882.4,610.9L881.2,610.7L880,610.6L878.8,610.2L877.6,611.2L876.4,610.1L875.2,609.9L874,610.3L872.8,611L871.6,610.7L870.4,610.6L869.2,611.2L868,610.6L866.8,611.1L865.6,610.7L864.4,610.9L863.2,610.8L862,610.8L860.8,610.5L859.6,610.5L858.4,610.8L857.2,610.4L856,610.3L854.8,611.2L853.6,610.3L852.4,610.2L851.2,610.9L850,610.8L848.8,610.1L847.6,610.7L846.4,609.7L845.2,610.7L844,610.6L842.8,611.1L841.6,610L840.4,610.7L839.2,611L838,610.3L836.8,609.7L835.6,610.5L834.4,611L833.2,610.6L832,609.7L830.8,611.3L829.6,610L828.4,610.4L827.2,610.2L826,610.6L824.8,609.8L823.6,610.7L822.4,610.4L821.2,610.3L820,610.4L818.8,610.6L817.6,610.1L816.4,610.3L815.2,610.3L814,610.4L812.8,610.1L811.6,610.5L810.4,609.9L809.2,609.9L808,610.4L806.8,610.6L805.6,610.6L804.4,610.1L803.2,610.5L802,609.5L800.8,610.9L799.6,610.1L798.4,609.5L797.2,609.9L796,609.8L794.8,610.5L793.6,608.6L792.4,609.5L791.2,609.7L790,609.6L788.8,609.5L787.6,608.8L786.4,609.2L785.2,609L784,608.4L782.8,608.9L781.6,607.9L780.4,608L779.2,607.8L778,606.7L776.8,606.2L776.3,605.7L775.9,605.7L775.6,605.5L775.5,605.5L775.1,605.3L774.7,604.7L774.4,604.5L774.3,604.6L773.9,604.3L773.5,603.6L773.2,603.4L773.1,603.3L772.7,602.6L772.3,602.2L772,601.9L771.9,601.6L771.5,601L771.1,600.4L770.8,599.6L770.7,599.7L770.3,598.8L769.9,597.9L769.6,597.1L769.5,596.8L769.1,595.5L768.7,594.2L768.4,593.1L768.3,592.6L767.9,590.9L767.5,588.8L767.2,587.1L767.1,586.5L766.7,583.8L766.3,580.6L766,578L765.9,577L765.5,572.9L765.1,568.3L764.8,564.5L764.7,563.2L764.3,558L763.9,553L763.6,549.6L763.5,548.7L763.1,545.7L762.7,544.7L762.4,545.2L762.3,545.7L761.9,548.6L761.5,553L761.2,556.7L761.1,558L760.7,563.2L760.3,568.3L760,571.8L759.9,572.9L759.5,577L759.1,580.6L758.8,583L758.7,583.8L758.3,586.5L757.9,588.8L757.6,590.4L757.5,590.9L757.1,592.6L756.7,594.2L756.4,595.2L756.3,595.6L755.9,596.8L755.5,597.8L755.2,598.6L755.1,598.8L754.7,599.7L754.3,600.4L754,601.1L753.9,601.1L753.5,601.7L753.1,602.3L752.8,602.9L752.7,603L752.3,603.2L751.9,603.8L751.6,604.1L751.5,604L751.1,604.4L750.7,605L750.4,605.4L750.3,605.1L749.9,605.2L749.5,605.3L749.2,605.7L749.1,605.7L748.7,606.2L748,607.4L746.8,607.1L745.6,607L744.4,608.3L743.2,608L742,607.7L740.8,608.3L739.6,609.3L738.4,608.8L737.2,609.1L736,609L734.8,609.3L733.6,609.4L732.4,609.5L731.2,609.5L730,609.3L728.8,609.4L727.6,609.8L726.4,610L725.2,609.9L724,610.3L722.8,610L721.6,610.5L720.4,609L719.2,609.2L718,610.1L716.8,609.4L715.6,610L714.4,610.4L713.2,610.5L712,610L710.8,610.3L709.6,609.9L708.4,610.4L707.2,609.9L706,609.6L704.8,609.7L703.6,609.7L702.4,610.8L701.2,610.4L700,611.1L698.8,610.3L697.6,610.4L696.4,610.4L695.2,610.6L694,610.1L692.8,610.2L691.6,610.1L690.4,610.4L689.2,610.6L688,610.4L686.8,610L685.6,610.6L684.4,610.9L683.2,610.3L682,609.9L680.8,610.1L679.6,610.5L678.4,610.2L677.2,610.7L676,610.6L674.8,610.4L673.6,611.2L672.4,610.4L671.2,610.2L670,610.5L668.8,610.2L667.6,610.5L666.4,610.5L665.2,610.2L664,610.1L662.8,611L661.6,610.5L660.4,610L659.2,610.4L658,609.8L656.8,610.5L655.6,610.9L654.4,610.3L653.2,610.1L652,609.9L650.8,610.4L649.6,610L648.4,610.5L647.2,609.4L646,610.2L644.8,610.7L643.6,610.3L642.4,610.3L641.2,610L640,609.7L638.8,610.4L637.6,610.1L636.4,610L635.2,610.7L634,610.2L632.8,610.8L631.6,609.7L630.4,610L629.2,609.4L628,609.6L626.8,610.3L625.6,609.3L624.4,610.2L623.2,609.9L622,610L620.8,609.1L619.6,609.6L618.4,609.4L617.2,609.8L616,609.8L614.8,609.5L613.6,609.3L612.4,609.1L611.2,609.1L610,608.7L608.8,609.6L607.6,609.2L606.4,609.1L605.2,608.1L604,608.8L602.8,608.5L601.6,607.7L600.4,608L599.2,607.9L598,607.8L596.8,607.2L595.6,607.8L594.4,606.8L593.2,606.7L592,606.5L590.8,605.3L589.6,604.6L588.4,604.5L587.2,603.6L586,602.5L584.8,602.1L583.6,600L582.4,599.4L581.2,598.6L580,598.2L578.8,597.6L577.6,597.4L576.4,598.2L575.2,597.5L574,597.6L572.8,597.7L571.6,597.8L570.4,597.2L569.2,595.8L568,594.4L567.2,593.3L566.8,592.6L566.4,591.8L566,591.2L565.6,590.3L565.2,589L564.8,588L564.4,587L564,585.4L563.6,584.1L563.2,582.5L562.8,580.6L562.4,578.8L562,576.7L561.6,574.2L561.2,571.5L560.8,568.4L560.4,565.1L560,561.2L559.6,556.8L559.2,551.7L558.8,545.9L558.4,539.3L558,531.6L557.6,522.6L557.2,512.2L556.8,500.2L556.4,486.4L556,470.7L555.6,453.4L555.2,435.3L554.8,417.6L554.4,402.3L554,391.8L553.6,388L553.2,391.8L552.8,402.4L552.4,417.7L552,435.5L551.6,453.6L551.2,470.9L550.8,486.6L550.4,500.5L550,512.6L549.6,523L549.2,532L548.8,539.8L548.4,546.5L548,552.3L547.6,557.4L547.2,561.8L546.8,565.8L546.4,569.2L546,572.3L545.6,575.1L545.2,577.5L544.8,579.8L544.4,581.8L544,583.8L543.6,585.4L543.2,586.7L542.8,588.1L542.4,589.6L542,590.6L541.6,591.5L541.2,592.6L540.8,593.7L540.4,594.5L540,594.9L539.6,595.8L539.2,596.8L538,599.1L536.8,600L535.6,601.5L534.4,602.1L533.2,603L532,604.3L530.8,605L529.6,603.9L528.4,605.3L527.2,606.4L526,607.1L524.8,607L523.6,607.2L522.4,606.9L521.2,607.6L520,607.5L518.8,608.2L517.6,608L516.4,608.8L515.2,608.8L514,608.8L512.8,608.4L511.6,609.5L510.4,609.1L509.2,608.8L508,609.3L506.8,609.2L505.6,608.9L504.4,609.9L503.2,609.9L502,609.1L500.8,608.9L499.6,609.8L498.4,610.4L497.2,609.3L496,610.1L494.8,609.6L493.6,608.9L492.4,609.3L491.2,610.1L490,610.4L488.8,609.9L487.6,610.5L486.4,610.1L485.2,609.5L484,609.7L482.8,610.3L481.6,610.1L480.4,610.2L479.2,610.1L478,610.3L476.8,609.5L475.6,610.5L474.4,610.4L473.2,609.8L472,609.8L470.8,610.3L469.6,609.4L468.4,609.7L467.2,610.3L466,610.2L464.8,611L463.6,610.6L462.4,610.3L461.2,610.9L460,609.9L458.8,610.9L457.6,610.7L456.4,610.1L455.2,610.1L454,610.7L452.8,610.8L451.6,610.5L450.4,610.1L449.2,610.2L448,610.8L446.8,610L445.6,610.2L444.4,610.3L443.2,610.4L442,611L440.8,610.5L439.6,609.9L438.4,610.7L437.2,609.8L436,611.2L434.8,610L433.6,610.8L432.4,610.5L431.2,610.3L430,611.3L428.8,610.4L427.6,610.1L426.4,610.4L425.2,610.9L424,610.4L422.8,610.7L421.6,610.3L420.4,610.8L419.2,611L418,610.2L416.8,611.1L415.6,611.1L414.4,610.4L413.2,610.4L412,611.5L410.8,610.1L409.6,610.6L408.4,610.3L407.2,610.8L406,610.8L404.8,610.4L403.6,610.8L402.4,611.2L401.2,610.6L400,610.9L398.8,610.2L397.6,610.9L396.4,610.4L395.2,610.5L394,610.1L392.8,610.8L391.6,610.7L390.4,610.2L389.2,610L388,609.8L386.8,611.2L385.6,610.5L384.4,611.2L383.2,610.8L382,611.1L380.8,610.9L379.6,610.8L378.4,610.7L377.2,610.8L376,610.3L374.8,610.6L373.6,610.8L372.4,609.8L371.2,610.5L370,610.3L368.8,610.4L367.6,610.6L366.4,610.9L365.2,611.3L364,610.1L362.8,610.9L361.6,610.7L360.4,611.1L359.2,611.2L358,610L356.8,610.9L355.6,610.4L354.4,610.8L353.2,610.6L352,609.8L350.8,611.3L349.6,611L348.4,610.5L347.2,611.3L346,611.2L344.8,610.9L343.6,611L342.4,611.5L341.2,611.3L340,610.6L338.8,610.9L337.6,610.3L336.4,610.4L335.2,610.6L334,611L332.8,611L331.6,611L330.4,610.6L329.2,610.6L328,610.5L326.8,610.9L325.6,610.5L324.4,611.1L323.2,610.4L322,610.9L320.8,610.8L319.6,610.7L318.4,611.1L317.2,610.8L316,610.7L314.8,611L313.6,610.6L312.4,610.5L311.2,610.6L310,611.4L308.8,609.9L307.6,611L306.4,610.8L305.2,610.6L304,610.7L302.8,610.6L301.6,610.6L300.4,610L299.2,610.4L298,610.5L296.8,610.5L295.6,611.3L294.4,611.1L293.2,610.9L292,610.6L290.8,611.1L289.6,610.4L288.4,611.1L287.2,611L286,611.3L284.8,610.7L283.6,611.8L282.4,611.2L281.2,610.7L280,610.9L278.8,610.6L277.6,610.6L276.4,610.7L275.2,610.9L274,610.9L272.8,611.1L271.6,610.7L270.4,610.5L269.2,610.9L268,611L266.8,610.7L265.6,610.6L264.4,610.7L263.2,610.6L262,610.8L260.8,610.3L259.6,611L258.4,610.1L257.2,610.8L256,610.6L254.8,610.3L253.6,610.7L252.4,611.2L251.2,610.7L250,611.1L248.8,610.8L247.6,611L246.4,609.7L245.2,611.1L244,610.2L242.8,610.2L241.6,610.8L240.4,610.2L239.2,610L238,611.1L236.8,610.9L235.6,610.5L234.4,610.9L233.2,611.6L232,610.6L230.8,611L229.6,611.4L228.4,610.9L227.2,610.4L226,610.4L224.8,610.6L223.6,610.7L222.4,610.6L221.2,610.6L220,610.6L218.8,610.3L217.6,610.7L216.4,610.6L215.2,611L214,611.1L212.8,611.1L211.6,610.7L210.4,610L209.2,610.8L208,610.6L206.8,611L205.6,610.4L204.4,611L203.2,611.2L202,610.6L200.8,611.4L199.6,610.5L198.4,610.4L197.2,611L196,610.8L194.8,610.1L193.6,611L192.4,610.3L191.2,610.8L190,610.6L188.8,610.6L187.6,610.4L186.4,610.8L185.2,610.9L184,610.3L182.8,611.1L181.6,611.2L180.4,611.4L179.2,610.2L178,610.2L176.8,611.2L175.6,609.8L174.4,610.6L173.2,611L172,610.3L170.8,610.8L169.6,610.1L168.4,610.5L167.2,611.1L166,610.9L164.8,611L163.6,610.6L162.4,610L161.2,611L160,610.4L158.8,611.1L157.6,610.8L156.4,611.4L155.2,610.9L154,610.4L152.8,610.6L151.6,611.1L150.4,610.3L149.2,610.6L148,610.8Z" fill="#b470da" stroke="#b470da" stroke-width="8.0" stroke-linejoin="round"/>
<path d="M550.1,387.4H557.1V563.7L553.6,551.7L550.1,563.7Z" fill="#b470da"/>
<path d="M759.2,543.4H766.2V604.9L762.7,592.9L759.2,604.9Z" fill="#b470da"/>
<path d="M1459.3,548.4H1466.3V603.1L1462.8,591.1L1459.3,603.1Z" fill="#b470da"/>
<path d="M148,471.6L149.2,471.7L150.4,471.3L151.6,471.9L152.8,472.1L154,472.1L155.2,471.7L156.4,471.3L157.6,471.8L158.8,472.1L160,471.8L161.2,471.8L162.4,471.9L163.6,472.2L164.8,472.8L166,472.1L167.2,471.5L168.4,471.8L169.6,472.7L170.8,471.9L172,472.6L173.2,471.2L174.4,471.8L175.6,472.3L176.8,471.6L178,472.2L179.2,471.7L180.4,471.9L181.6,472.3L182.8,471.7L184,472.4L185.2,471.4L186.4,471.9L187.6,472.3L188.8,472.5L190,471.3L191.2,471.4L192.4,472.4L193.6,471.3L194.8,471.8L196,472L197.2,471.9L198.4,472L199.6,471.4L200.8,471.8L202,472.6L203.2,471.2L204.4,471.6L205.6,472.3L206.8,472L208,472.2L209.2,471.9L210.4,471.8L211.6,471.8L212.8,472.1L214,472.2L215.2,471.6L216.4,471.9L217.6,471.1L218.8,472.2L220,471.6L221.2,471.9L222.4,472.2L223.6,471.4L224.8,471.9L226,472.2L227.2,472L228.4,471.5L229.6,472.3L230.8,471.4L232,471.7L233.2,472L234.4,471.4L235.6,471.3L236.8,471.7L238,471.8L239.2,471.2L240.4,471.4L241.6,472.2L242.8,472L244,472L245.2,472L246.4,472.4L247.6,471.6L248.8,471.9L250,471.9L251.2,471.4L252.4,472.1L253.6,471.9L254.8,471.8L256,472L257.2,471.9L258.4,471.6L259.6,471.9L260.8,471.4L262,472.1L263.2,471.8L264.4,472.4L265.6,471.9L266.8,472.1L268,471.4L269.2,471.6L270.4,471.7L271.6,471.2L272.8,471.4L274,471.6L275.2,472.1L276.4,472.4L277.6,471.9L278.8,472L280,472.1L281.2,472L282.4,472.5L283.6,471.3L284.8,472.3L286,472.1L287.2,471.7L288.4,472.5L289.6,471.5L290.8,471.5L292,472L293.2,472.3L294.4,472L295.6,472.5L296.8,471.4L298,471.8L299.2,472.1L300.4,472.2L301.6,471.7L302.8,471.3L304,472.3L305.2,472.1L306.4,472.5L307.6,471.6L308.8,471.8L310,471L311.2,471.9L312.4,472L313.6,472.1L314.8,471.5L316,472.4L317.2,471.6L318.4,471.8L319.6,472L320.8,472.2L322,471.5L323.2,471.2L324.4,472L325.6,471.6L326.8,471.2L328,472.1L329.2,471.9L330.4,472.3L331.6,471.9L332.8,471.9L334,472L335.2,472.1L336.4,472.4L337.6,472.3L338.8,472.2L340,471.6L341.2,472L342.4,472.1L343.6,471.6L344.8,471.6L346,472.1L347.2,472L348.4,471.6L349.6,471.7L350.8,472.1L352,471.7L353.2,471.8L354.4,471.4L355.6,472.1L356.8,471.5L358,471.6L359.2,472.2L360.4,471.4L361.6,471.5L362.8,472.3L364,471.1L365.2,472.2L366.4,472.1L367.6,471.9L368.8,471.5L370,471.6L371.2,471.8L372.4,471.3L373.6,471.6L374.8,471.3L376,470.7L377.2,471.7L378.4,472.7L379.6,471.9L380.8,472.2L382,471.7L383.2,471.7L384.4,472.2L385.6,472.2L386.8,471.8L388,471.8L389.2,472.7L390.4,471.4L391.6,471.7L392.8,471.7L394,471.6L395.2,472.1L396.4,471.7L397.6,471.3L398.8,471.3L400,471.5L401.2,471.8L402.4,472L403.6,471.2L404.8,471.5L406,471.9L407.2,472.5L408.4,472L409.6,472.4L410.8,471.2L412,471.6L413.2,471.9L414.4,471.8L415.6,470.7L416.8,471.2L418,472.2L419.2,471.7L420.4,472.1L421.6,472.3L422.8,471.6L424,470.7L425.2,471L426.4,471.6L427.6,471.7L428.8,471.5L430,471.2L431.2,472.1L432.4,472.3L433.6,470.9L434.8,471.5L436,471L437.2,471.5L438.4,471L439.6,471.8L440.8,471.3L442,470.9L443.2,471.1L444.4,471.7L445.6,471.2L446.8,471.7L448,472L449.2,471.3L450.4,470.9L451.6,471.1L452.8,471.9L454,471.1L455.2,471.1L456.4,471.6L457.6,472.3L458.8,471L460,471L461.2,471.1L462.4,472L463.6,471.9L464.8,470.9L466,471L467.2,471.1L468.4,471.3L469.6,471.1L470.8,471.4L472,471.3L473.2,471.5L474.4,471L475.6,471.2L476.8,470.7L478,470.8L479.2,471.3L480.4,470.3L481.6,471.4L482.8,470.7L484,470.5L485.2,470.4L486.4,471.6L487.6,470.4L488.8,470.3L490,470.1L491.2,471.5L492.4,470.8L493.6,470.6L494.8,470.6L496,469.9L497.2,470.6L498.4,469.8L499.6,470L500.8,470.7L502,470.4L503.2,470.1L504.4,469.8L505.6,469.4L506.8,469.7L508,469.2L509.2,470L510.4,470.4L511.6,469.3L512.8,468.8L514,468.9L515.2,469L516.4,468.2L517.6,467.4L518.8,467.9L520,467.9L521.2,467.6L522.4,466.2L523.6,466.6L524.8,465.9L526,465.2L527.2,464.7L528.4,464.9L529.6,463.5L530.8,462.7L532,461.9L533.2,460.7L534.4,460L535.6,458.3L536.8,456.7L538,454.1L539.2,452L539.6,450.7L540,450L540.4,448.6L540.8,447.5L541.2,446.1L541.6,444.6L542,443.1L542.4,441.4L542.8,439.9L543.2,437.4L543.6,435.4L544,433L544.4,430.4L544.8,427.4L545.2,424.3L545.6,420.6L546,416.6L546.4,412.2L546.8,407.2L547.2,401.6L547.6,395.2L548,387.8L548.4,379.5L548.8,369.8L549.2,358.6L549.6,345.7L550,330.6L550.4,313.2L550.8,293.2L551.2,270.6L551.6,245.7L552,219.5L552.4,193.9L552.8,171.8L553.2,156.6L553.6,151.1L554,156.6L554.4,171.7L554.8,193.8L555.2,219.3L555.6,245.5L556,270.3L556.4,292.9L556.8,312.9L557.2,330.2L557.6,345.2L558,358.1L558.4,369.2L558.8,378.8L559.2,387.2L559.6,394.4L560,400.8L560.4,406.4L560.8,411.3L561.2,415.7L561.6,419.6L562,423.1L562.4,426.2L562.8,429.1L563.2,431.6L563.6,433.9L564,436L564.4,438L564.8,439.6L565.2,441.1L565.6,442.7L565.7,443L566,444L566.1,444.5L566.4,445.2L566.5,445.3L566.8,446.4L566.9,446.9L567.2,447.3L567.3,447.7L567.7,448.2L568,449.1L568.1,449.3L568.5,450.1L568.9,450.7L569.2,451.2L569.3,451.4L569.7,451.8L570.1,452.3L570.4,452.4L570.5,452.7L570.9,453L571.3,453.3L571.6,453.5L571.7,453.4L572.1,453.7L572.5,453.6L572.8,453.7L572.9,453.6L573.3,453.5L573.7,453.4L574,453.2L574.1,453.1L574.5,452.8L574.9,452.3L575.2,451.9L575.3,451.7L575.7,451L576.1,450.2L576.4,449.5L576.5,449.2L576.9,448.1L577.3,447L577.6,446.1L577.7,445.8L578.1,444.6L578.5,443.5L578.8,442.9L578.9,442.7L579.3,442.2L579.7,442.2L580,442.5L580.1,442.6L580.5,443.5L580.9,444.7L581.2,445.8L581.3,446.1L581.7,447.7L582.1,449.3L582.4,450.5L582.5,450.9L582.9,452.4L583.3,453.8L583.6,454.8L583.7,455.1L584.1,456.2L584.5,457.2L584.8,458L584.9,458.2L585.3,459L585.7,459.8L586,460.3L586.1,460.4L586.5,461.1L586.9,461.6L587.2,462L587.3,462.2L587.7,462.6L588.1,463.2L588.4,463.3L588.5,463.4L588.9,463.9L589.3,464.2L589.6,464.1L589.7,464.4L590.1,464.8L590.5,464.8L590.8,465.3L590.9,465.3L591.3,465.6L591.7,465.8L592,465.7L592.1,465.8L592.5,466.3L592.9,466.4L593.2,466.4L593.3,466.6L594.4,467L595.6,467.6L596.8,468L598,468L599.2,468.7L600.4,468.4L601.6,468.8L602.8,469.3L604,469.4L605.2,469.5L606.4,469.5L607.6,469.5L608.8,469.8L610,470.1L611.2,469.4L612.4,469.7L613.6,470L614.8,469.8L616,470.1L617.2,470.4L618.4,470.3L619.6,469.4L620.8,470.1L622,470.2L623.2,470.7L624.4,470.4L625.6,469.8L626.8,470.6L628,470.4L629.2,470.3L630.4,470.6L631.6,470.3L632.8,470.8L634,470.7L635.2,471.2L636.4,470L637.6,470.9L638.8,471L640,470.5L641.2,471.3L642.4,471.1L643.6,471.4L644.8,471.1L646,471.3L647.2,471L648.4,471.2L649.6,471.4L650.8,471.3L652,471.3L653.2,471.4L654.4,470.9L655.6,471L656.8,471.2L658,471.7L659.2,471.1L660.4,471.8L661.6,471.2L662.8,471.3L664,471.6L665.2,471.6L666.4,471.6L667.6,470.6L668.8,471.5L670,471.4L671.2,471L672.4,471.2L673.6,471L674.8,471.8L676,471.8L677.2,470.2L678.4,471.4L679.6,471.5L680.8,471.3L682,471L683.2,471.8L684.4,471.3L685.6,471.4L686.8,471.2L688,471.3L689.2,471.6L690.4,471.7L691.6,472.3L692.8,471L694,471.9L695.2,471.5L696.4,470.8L697.6,471.5L698.8,471.1L700,471.4L701.2,471.1L702.4,471.3L703.6,471.5L704.8,470.8L706,471.4L707.2,471.8L708.4,471.4L709.6,471.1L710.8,471.7L712,471L713.2,470.9L714.4,470.4L715.6,471.4L716.8,470.9L718,471.7L719.2,471.2L720.4,471L721.6,470.9L722.8,471L724,471L725.2,471.1L726.4,471L727.6,470.7L728.8,470.5L730,470.4L731.2,470.2L732.4,470L733.6,471L734.8,470.5L736,470.2L737.2,470.2L738.4,469.4L739.6,469.4L740.8,469.5L742,469.1L743.2,468.4L744.4,468.6L745.6,468.2L746.8,467.3L748,466.8L748.7,466.2L749.1,466.2L749.2,466L749.5,466.2L749.9,465.9L750.3,465.4L750.4,465.8L750.7,465L751.1,464.5L751.5,464.2L751.6,464.2L751.9,463.6L752.3,463.3L752.7,462.6L752.8,462.4L753.1,462.1L753.5,461.4L753.9,460.8L754,460.6L754.3,460L754.7,459.1L755.1,458.1L755.2,458L755.5,457.1L755.9,455.8L756.3,454.5L756.4,454.1L756.7,452.9L757.1,451.1L757.5,449L757.6,448.5L757.9,446.7L758.3,444L758.7,440.8L758.8,440L759.1,437.2L759.5,433.1L759.9,428.3L760,427.1L760.3,423L760.7,417.2L761.1,411.2L761.2,409.7L761.5,405.4L761.9,400.4L762.3,397L762.4,396.5L762.7,395.8L763.1,397L763.5,400.4L763.6,401.5L763.9,405.4L764.3,411.2L764.7,417.2L764.8,418.7L765.1,423L765.5,428.3L765.9,433.1L766,434.2L766.3,437.2L766.7,440.9L767.1,444L767.2,444.7L767.5,446.7L767.9,449.1L768.3,451.1L768.4,451.6L768.7,452.9L769.1,454.5L769.5,455.8L769.6,456.2L769.9,457.1L770.3,458.2L770.7,459.1L770.8,459.3L771.1,460L771.5,460.8L771.9,461.6L772,461.8L772.3,462.3L772.7,462.8L773.1,463.2L773.2,463.4L773.5,463.5L773.9,464.3L774.3,465L774.4,464.6L774.7,464.9L775.1,465.7L775.5,466.1L775.6,465.8L775.9,465.9L776.3,466.6L776.8,466.8L778,467.6L779.2,468.3L780.4,468.8L781.6,468.7L782.8,469.2L784,469.6L785.2,470.5L786.4,469.2L787.6,470.3L788.8,470.2L790,470.7L791.2,470.3L792.4,471.1L793.6,470.6L794.8,470.8L796,470.4L797.2,471.2L798.4,471.1L799.6,471.1L800.8,470.3L802,471.6L803.2,471L804.4,471.4L805.6,471.1L806.8,471L808,471.2L809.2,471.2L810.4,471.2L811.6,471.6L812.8,471.5L814,472L815.2,471.6L816.4,471.7L817.6,471.6L818.8,471.2L820,471.4L821.2,471.3L822.4,471.1L823.6,472.4L824.8,471.4L826,471.6L827.2,471.6L828.4,472.1L829.6,471.4L830.8,471.2L832,471.2L833.2,471.7L834.4,471.4L835.6,471.3L836.8,471L838,471.2L839.2,471.6L840.4,471.6L841.6,471.6L842.8,471.6L844,471.9L845.2,471.4L846.4,472L847.6,472L848.8,471.6L850,471.9L851.2,471.8L852.4,472.5L853.6,471.4L854.8,471.7L856,471.8L857.2,471.6L858.4,471.7L859.6,472L860.8,471L862,471.9L863.2,471.4L864.4,471.1L865.6,472L866.8,471.7L868,472.1L869.2,471.4L870.4,471.9L871.6,472.2L872.8,471.3L874,471.5L875.2,472.1L876.4,471.4L877.6,471.7L878.8,470.8L880,471.2L881.2,472L882.4,471.9L883.6,472.1L884.8,471.8L886,471.8L887.2,471.5L888.4,471.8L889.6,472.4L890.8,472.1L892,471.3L893.2,471.4L894.4,471.9L895.6,471.9L896.8,471.9L898,471.8L899.2,472.4L900.4,471.5L901.6,472.1L902.8,471.8L904,472.8L905.2,471.8L906.4,471.4L907.6,472.7L908.8,471.3L910,471.7L911.2,472.1L912.4,472.4L913.6,471.4L914.8,471.8L916,471.6L917.2,472L918.4,472.1L919.6,471.5L920.8,472.2L922,471.5L923.2,472.5L924.4,472.2L925.6,472.4L926.8,471.4L928,472.5L929.2,472.3L930.4,471.6L931.6,471.8L932.8,471.1L934,471.2L935.2,471.6L936.4,471.6L937.6,472.5L938.8,472.2L940,472L941.2,471.9L942.4,472.4L943.6,472.2L944.8,472.2L946,471.5L947.2,471.7L948.4,472L949.6,472L950.8,471.8L952,472.1L953.2,472L954.4,472.5L955.6,471.6L956.8,471.5L958,471.7L959.2,471.7L960.4,471.7L961.6,471.1L962.8,471.8L964,472.4L965.2,472.3L966.4,471.6L967.6,471.5L968.8,471.6L970,471.6L971.2,471.8L972.4,472.4L973.6,472.1L974.8,472.5L976,472L977.2,472.4L978.4,471.9L979.6,472L980.8,472.6L982,471.6L983.2,471.6L984.4,472.4L985.6,471.8L986.8,471.6L988,472L989.2,471.6L990.4,471.8L991.6,471.5L992.8,471.8L994,472L995.2,471.7L996.4,471.6L997.6,471.8L998.8,472.1L1000,472.2L1001.2,472L1002.4,472.1L1003.6,471.8L1004.8,471.8L1006,471.9L1007.2,471.9L1008.4,471.8L1009.6,471.3L1010.8,471.5L1012,472.1L1013.2,471.7L1014.4,472L1015.6,471.9L1016.8,472L1018,472.1L1019.2,472.4L1020.4,472.8L1021.6,471.8L1022.8,471.5L1024,472.2L1025.2,471.7L1026.4,472L1027.6,471.8L1028.8,472.2L1030,472L1031.2,471.9L1032.4,472.8L1033.6,471.8L1034.8,472L1036,472.8L1037.2,471.7L1038.4,471.9L1039.6,471.8L1040.8,471.8L1042,472.1L1043.2,472.3L1044.4,472.1L1045.6,472.1L1046.8,471.1L1048,471.2L1049.2,472.1L1050.4,472.1L1051.6,471.8L1052.8,471.7L1054,472.2L1055.2,472.3L1056.4,471.2L1057.6,471.5L1058.8,472.5L1060,472.6L1061.2,472.2L1062.4,471.8L1063.6,471.7L1064.8,472L1066,472.5L1067.2,471.8L1068.4,471.7L1069.6,471.9L1070.8,472.1L1072,471.7L1073.2,471.9L1074.4,472.3L1075.6,471.9L1076.8,472.4L1078,471.6L1079.2,471.7L1080.4,472.3L1081.6,471.8L1082.8,471.5L1084,472.7L1085.2,472L1086.4,471.3L1087.6,472.5L1088.8,472L1090,472.4L1091.2,471.9L1092.4,472.8L1093.6,472.5L1094.8,472.1L1096,471.9L1097.2,471.8L1098.4,471.8L1099.6,471.5L1100.8,471.7L1102,471.6L1103.2,472.3L1104.4,472L1105.6,470.7L1106.8,471.1L1108,471.6L1109.2,471.6L1110.4,471.6L1111.6,472.1L1112.8,471.2L1114,472.1L1115.2,472L1116.4,471.1L1117.6,472.7L1118.8,471.8L1120,472.6L1121.2,472.2L1122.4,472L1123.6,472.1L1124.8,471.9L1126,472.2L1127.2,472L1128.4,472.4L1129.6,472.1L1130.8,472.4L1132,471.7L1133.2,472.4L1134.4,471.7L1135.6,472.1L1136.8,472L1138,471.5L1139.2,471.9L1140.4,472.6L1141.6,471.7L1142.8,473L1144,471.8L1145.2,472.1L1146.4,472.5L1147.6,471.9L1148.8,472L1150,471.2L1151.2,472.1L1152.4,471.2L1153.6,471.4L1154.8,472.2L1156,472.2L1157.2,471.4L1158.4,472L1159.6,471.9L1160.8,472L1162,472.4L1163.2,472.1L1164.4,472.3L1165.6,472.5L1166.8,472L1168,471.3L1169.2,471.3L1170.4,471.9L1171.6,471.9L1172.8,471.7L1174,471.4L1175.2,471.8L1176.4,472.1L1177.6,472.1L1178.8,471.5L1180,470.9L1181.2,472.2L1182.4,472.7L1183.6,471.6L1184.8,472L1186,471.9L1187.2,471.5L1188.4,471.9L1189.6,472.4L1190.8,472.7L1192,471.9L1193.2,472.4L1194.4,471.8L1195.6,472.4L1196.8,472.1L1198,472.5L1199.2,472.1L1200.4,472.1L1201.6,471.7L1202.8,471.4L1204,472L1205.2,472.3L1206.4,471.2L1207.6,471.8L1208.8,471.7L1210,471.7L1211.2,471.4L1212.4,471.5L1213.6,471.7L1214.8,471.6L1216,472.2L1217.2,472.2L1218.4,472L1219.6,471.9L1220.8,471.9L1222,471.8L1223.2,471.9L1224.4,472.1L1225.6,472.5L1226.8,471.6L1228,471.7L1229.2,472.3L1230.4,471.7L1231.6,471.8L1232.8,471.9L1234,472.6L1235.2,472.4L1236.4,472.1L1237.6,471.3L1238.8,472.2L1240,472.1L1241.2,472.3L1242.4,472.1L1243.6,471.8L1244.8,472.7L1246,473L1247.2,471.7L1248.4,471.9L1249.6,472.1L1250.8,471.6L1252,471.5L1253.2,472.7L1254.4,472L1255.6,471.5L1256.8,472.2L1258,472L1259.2,471.6L1260.4,472L1261.6,472.4L1262.8,472.2L1264,472.4L1265.2,471.7L1266.4,472.6L1267.6,471.5L1268.8,472.5L1270,471.9L1271.2,472.5L1272.4,472L1273.6,471.5L1274.8,471.5L1276,471.4L1277.2,471.9L1278.4,471.9L1279.6,471.8L1280.8,471.7L1282,472.1L1283.2,471.5L1284.4,471.8L1285.6,471.5L1286.8,471.7L1288,471.7L1289.2,472.2L1290.4,472.1L1291.6,472.4L1292.8,472L1294,472L1295.2,471.6L1296.4,472.4L1297.6,470.7L1298.8,472L1300,471.4L1301.2,471.5L1302.4,472.9L1303.6,472L1304.8,471.3L1306,472.8L1307.2,471.6L1308.4,472.2L1309.6,472.1L1310.8,471.8L1312,472.6L1313.2,471.8L1314.4,472.1L1315.6,472.2L1316.8,471.6L1318,470.6L1319.2,471.8L1320.4,471.7L1321.6,471.9L1322.8,472.2L1324,471.8L1325.2,471.3L1326.4,471.8L1327.6,471.5L1328.8,472L1330,470.9L1331.2,472.5L1332.4,471.7L1333.6,471.7L1334.8,471.8L1336,472.3L1337.2,472.3L1338.4,472L1339.6,471.8L1340.8,472.3L1342,472.3L1343.2,471.7L1344.4,471.5L1345.6,472.1L1346.8,472.1L1348,472.1L1349.2,470.9L1350.4,471.7L1351.6,471.9L1352.8,471.5L1354,471L1355.2,471.4L1356.4,472.4L1357.6,471.9L1358.8,472L1360,472L1361.2,472.3L1362.4,472L1363.6,472.3L1364.8,471.7L1366,471.8L1367.2,472.4L1368.4,472.5L1369.6,472L1370.8,471.6L1372,471.6L1373.2,471.8L1374.4,473.1L1375.6,472L1376.8,472.1L1378,471.9L1379.2,472.3L1380.4,472L1381.6,472L1382.8,470.8L1384,471.5L1385.2,471.9L1386.4,471.8L1387.6,471.8L1388.8,471.7L1390,471.9L1391.2,471.8L1392.4,471.3L1393.6,471.4L1394.8,471.6L1396,471.2L1397.2,471.6L1398.4,472.1L1399.6,472.4L1400.8,471.9L1402,471.7L1403.2,471.5L1404.4,471.2L1405.6,471.9L1406.8,471.9L1408,471.3L1409.2,471.1L1410.4,471.8L1411.6,471.4L1412.8,471L1414,471.4L1415.2,471.5L1416.4,472.3L1417.6,470.9L1418.8,471.2L1420,471.4L1421.2,471.5L1422.4,471.8L1423.6,471.3L1424.8,471.3L1426,470.8L1427.2,471.6L1428.4,470.6L1429.6,471L1430.8,470.5L1432,471.3L1433.2,470.7L1434.4,470.3L1435.6,470.6L1436.8,471.1L1438,470.5L1439.2,470.1L1440.4,470.6L1441.6,470.5L1442.8,469.6L1444,469.8L1445.2,468.9L1446.4,469.2L1447.6,469L1448.8,468.1L1449.2,467.3L1449.6,467.7L1450,467.2L1450.4,466.9L1450.8,466.9L1451.2,466.3L1451.6,466.1L1452,465.8L1452.4,465.7L1452.8,465.3L1453.2,464.9L1453.6,464.2L1454,463.7L1454.4,463.1L1454.8,462.5L1455.2,461.9L1455.6,461.2L1456,460.3L1456.4,459.4L1456.8,458.4L1457.2,457.2L1457.6,455.9L1458,454.5L1458.4,452.8L1458.8,451L1459.2,449L1459.6,446.8L1460,444.4L1460.4,441.8L1460.8,439.2L1461.2,436.7L1461.6,434.4L1462,432.6L1462.4,431.3L1462.8,430.9L1463.2,431.3L1463.6,432.6L1464,434.4L1464.4,436.7L1464.8,439.2L1465.2,441.8L1465.6,444.4L1466,446.8L1466.4,449L1466.8,451L1467.2,452.8L1467.6,454.5L1468,455.9L1468.4,457.2L1468.8,458.4L1469.2,459.4L1469.6,460.3L1470,461.1L1470.4,461.9L1470.8,462.6L1471.2,463.1L1471.6,463.7L1472,464.3L1472.4,464.6L1472.8,465.1L1473.2,465.5L1473.6,466L1474,466.3L1474.4,466.6L1474.8,466.6L1475.2,466.9L1475.6,467.1L1476,467.5L1476.4,467.8L1477.6,467.6L1478.8,469.3L1480,468.6L1481.2,469.2L1482.4,469.6L1483.6,470L1484.8,470.1L1486,470.7L1487.2,470.9L1488.4,470.5L1489.6,471.2L1490.8,470.4L1492,470.4L1493.2,472.2L1494.4,471.5L1495.6,470.9L1496.8,471L1498,471.1L1499.2,471L1500.4,470.9L1501.6,470.9L1502.8,470.6L1504,471.3L1505.2,471L1506.4,472L1507.6,471.5L1508.8,471.9L1510,470.9L1511.2,470.6L1512.4,471.3L1513.6,472L1514.8,471.6L1516,471.5L1517.2,471.5L1518.4,471.2L1519.6,471.2L1520.8,472.6L1522,471.1L1523.2,471.8L1524.4,471.8L1525.6,471.1L1526.8,471.7L1528,472.2L1529.2,472.1L1530.4,471.6L1531.6,471.3L1532.8,471.1L1534,471.7L1535.2,471.8L1536.4,471L1537.6,471.8L1538.8,471.1L1540,471.6L1541.2,471.6L1542.4,471.7L1543.6,471.5L1544.8,471.8L1546,471.9L1547.2,471.7L1548.4,471.9L1549.6,471.5L1550.8,471.6L1552,471.7L1553.2,471.7L1554.4,471.7L1555.6,470.9L1556.8,471.5L1558,471.7L1559.2,471.6L1560.4,471.2L1561.6,471.5L1562.8,471.4L1564,471.4L1565.2,471.2L1566.4,471L1567.6,470.9L1568.8,471.6L1570,471.3L1571.2,471.7L1572.4,470.2L1573.6,469.8L1574.8,469.4L1576,469.4L1577.2,468.5L1578.4,468.2L1579.6,467.3L1580.8,466.9L1582,465.5L1583.2,464.8L1584.4,464.1L1585.6,464.3L1586.8,466.1L1588,466.8L1589.2,467.8L1590.4,469L1591.6,470L1592.8,470.1L1594,470.7L1595.2,470.5L1596.4,470.7L1597.6,470.9L1598.8,471L1600,470.9L1601.2,471.5L1602.4,470.9L1603.6,472L1604.8,471.4L1606,471.3L1607.2,471.8L1608.4,472.1L1609.6,471.3L1610.8,471.8L1612,471.3L1613.2,471.3L1614.4,471.7L1615.6,471.7L1616.8,471.3L1618,471.6L1619.2,472.1L1620.4,471.7L1621.6,471.5L1622.8,471.7L1624,471.7L1625.2,471.8L1626.4,471.8L1627.6,472.1L1628.8,472.3L1630,471.4L1631.2,472L1632.4,471.7L1633.6,472.4L1634.8,471.7L1636,472.1L1637.2,470.7L1638.4,472.2L1639.6,472.2L1640.8,471.4L1642,471.4L1643.2,472.6L1644.4,471.7L1645.6,471.5L1646.8,472.3L1648,471.5L1649.2,472L1650.4,472.2L1651.6,471.9L1652.8,471.9L1654,472.3L1655.2,470.9L1656.4,471.9L1657.6,472L1658.8,471.3L1660,471.7L1661.2,471.1L1662.4,471.6L1663.6,471.3L1664.8,471.3L1666,471.1L1667.2,471L1668.4,470.6L1669.6,469.5L1670.8,469.9L1672,469.3L1673.2,469L1674.4,469L1675.6,469.6L1676.8,470L1678,471.2L1679.2,470.9L1680.4,471.3L1681.6,471.5L1682.8,471.4L1684,472.3L1685.2,471.5L1686.4,471.6L1687.6,472.2L1688.8,471.8L1690,471.2L1691.2,471.9L1692.4,471.6L1693.6,471.9L1694.8,472.1L1696,472.2L1697.2,472L1698.4,471.4L1699.6,471.5L1700.8,472.1L1702,471.5L1703.2,471.9L1704.4,472.1L1705.6,471.7L1706.8,472.2L1708,472.5L1709.2,471.4L1710.4,472.6L1711.6,471.7L1712.8,472.5L1714,471.9L1715.2,472L1716.4,472.1L1717.6,472.7L1718.8,471.9L1720,471.9L1721.2,472.2L1722.4,471.9L1723.6,471.5L1724.8,472.2L1726,471.8L1727.2,472.3L1728.4,471.8L1729.6,471.7L1730.8,471L1732,471.6L1733.2,471.8L1734.4,471.4L1735.6,472.3L1736.8,471.5L1738,472.1L1739.2,472.2L1740.4,471.5L1741.6,471.8L1742.8,471.4L1744,472.5L1745.2,471.8L1746.4,472.1L1747.6,472L1748.8,472.6L1750,471.6L1751.2,471.8L1752.4,472.3L1753.6,472.4L1754.8,472.3L1756,471.4L1757.2,472L1758.4,472.1L1759.6,471.7L1760.8,471.9L1762,471.8L1763.2,471.6L1764.4,471.8L1765.6,471.6L1766.8,472.4L1768,471.9L1769.2,472.1L1770.4,471.9L1771.6,471.9L1772.8,472.2L1772.8,474.9L1771.6,474.6L1770.4,474.6L1769.2,474.8L1768,474.6L1766.8,475.1L1765.6,474.3L1764.4,474.5L1763.2,474.3L1762,474.5L1760.8,474.6L1759.6,474.4L1758.4,474.8L1757.2,474.7L1756,474.1L1754.8,475L1753.6,475.1L1752.4,475L1751.2,474.5L1750,474.3L1748.8,475.3L1747.6,474.7L1746.4,474.8L1745.2,474.5L1744,475.2L1742.8,474.1L1741.6,474.5L1740.4,474.2L1739.2,474.9L1738,474.8L1736.8,474.2L1735.6,475L1734.4,474.1L1733.2,474.5L1732,474.3L1730.8,473.7L1729.6,474.4L1728.4,474.5L1727.2,475L1726,474.5L1724.8,474.9L1723.6,474.2L1722.4,474.6L1721.2,474.9L1720,474.6L1718.8,474.6L1717.6,475.4L1716.4,474.8L1715.2,474.7L1714,474.6L1712.8,475.2L1711.6,474.4L1710.4,475.3L1709.2,474.1L1708,475.2L1706.8,474.9L1705.6,474.4L1704.4,474.8L1703.2,474.6L1702,474.2L1700.8,474.8L1699.6,474.2L1698.4,474.1L1697.2,474.7L1696,474.9L1694.8,474.8L1693.6,474.6L1692.4,474.3L1691.2,474.6L1690,473.9L1688.8,474.5L1687.6,474.9L1686.4,474.3L1685.2,474.2L1684,475L1682.8,474.1L1681.6,474.2L1680.4,474L1679.2,473.6L1678,473.9L1676.8,472.7L1675.6,472.3L1674.4,471.7L1673.2,471.7L1672,472L1670.8,472.6L1669.6,472.2L1668.4,473.3L1667.2,473.7L1666,473.8L1664.8,474L1663.6,474L1662.4,474.3L1661.2,473.8L1660,474.4L1658.8,474L1657.6,474.7L1656.4,474.6L1655.2,473.6L1654,475L1652.8,474.6L1651.6,474.6L1650.4,474.9L1649.2,474.7L1648,474.2L1646.8,475L1645.6,474.2L1644.4,474.4L1643.2,475.3L1642,474.1L1640.8,474.1L1639.6,474.9L1638.4,474.9L1637.2,473.4L1636,474.8L1634.8,474.4L1633.6,475.1L1632.4,474.4L1631.2,474.7L1630,474.1L1628.8,475L1627.6,474.8L1626.4,474.5L1625.2,474.5L1624,474.4L1622.8,474.4L1621.6,474.2L1620.4,474.4L1619.2,474.8L1618,474.3L1616.8,474L1615.6,474.4L1614.4,474.4L1613.2,474L1612,474L1610.8,474.5L1609.6,474L1608.4,474.8L1607.2,474.5L1606,474L1604.8,474.1L1603.6,474.7L1602.4,473.6L1601.2,474.2L1600,473.6L1598.8,473.7L1597.6,473.6L1596.4,473.4L1595.2,473.2L1594,473.4L1592.8,472.8L1591.6,472.7L1590.4,471.7L1589.2,470.5L1588,469.5L1586.8,468.8L1585.6,467L1584.4,466.8L1583.2,467.5L1582,468.2L1580.8,469.6L1579.6,470L1578.4,470.9L1577.2,471.2L1576,472.1L1574.8,472.1L1573.6,472.5L1572.4,472.9L1571.2,474.4L1570,474L1568.8,474.3L1567.6,473.6L1566.4,473.7L1565.2,473.9L1564,474.1L1562.8,474.1L1561.6,474.2L1560.4,473.9L1559.2,474.3L1558,474.4L1556.8,474.2L1555.6,473.6L1554.4,474.4L1553.2,474.4L1552,474.4L1550.8,474.3L1549.6,474.2L1548.4,474.6L1547.2,474.4L1546,474.6L1544.8,474.5L1543.6,474.2L1542.4,474.4L1541.2,474.3L1540,474.3L1538.8,473.8L1537.6,474.5L1536.4,473.7L1535.2,474.5L1534,474.4L1532.8,473.8L1531.6,474L1530.4,474.3L1529.2,474.8L1528,474.9L1526.8,474.4L1525.6,473.8L1524.4,474.5L1523.2,474.5L1522,473.8L1520.8,475.3L1519.6,473.9L1518.4,473.9L1517.2,474.2L1516,474.2L1514.8,474.3L1513.6,474.7L1512.4,474L1511.2,473.3L1510,473.6L1508.8,474.6L1507.6,474.2L1506.4,474.7L1505.2,473.7L1504,474L1502.8,473.3L1501.6,473.6L1500.4,473.6L1499.2,473.7L1498,473.8L1496.8,473.7L1495.6,473.6L1494.4,474.2L1493.2,474.9L1492,473.1L1490.8,473.1L1489.6,473.9L1488.4,473.2L1487.2,473.6L1486,473.4L1484.8,472.8L1483.6,472.7L1482.4,472.3L1481.2,471.9L1480,471.3L1478.8,472L1477.6,470.3L1476.4,470.5L1476,470.2L1475.6,469.8L1475.2,469.6L1474.8,469.3L1474.4,469.3L1474,469L1473.6,468.7L1473.2,468.2L1472.8,467.8L1472.4,467.3L1472,467L1471.6,466.4L1471.2,465.8L1470.8,465.3L1470.4,464.6L1470,463.8L1469.6,463L1469.2,462.1L1468.8,461.1L1468.4,459.9L1468,458.6L1467.6,457.2L1467.2,455.5L1466.8,453.7L1466.4,451.7L1466,449.5L1465.6,447.1L1465.2,444.5L1464.8,441.9L1464.4,439.4L1464,437.1L1463.6,435.3L1463.2,434L1462.8,433.6L1462.4,434L1462,435.3L1461.6,437.1L1461.2,439.4L1460.8,441.9L1460.4,444.5L1460,447.1L1459.6,449.5L1459.2,451.7L1458.8,453.7L1458.4,455.5L1458,457.2L1457.6,458.6L1457.2,459.9L1456.8,461.1L1456.4,462.1L1456,463L1455.6,463.9L1455.2,464.6L1454.8,465.2L1454.4,465.8L1454,466.4L1453.6,466.9L1453.2,467.6L1452.8,468L1452.4,468.4L1452,468.5L1451.6,468.8L1451.2,469L1450.8,469.6L1450.4,469.6L1450,469.9L1449.6,470.4L1449.2,470L1448.8,470.8L1447.6,471.7L1446.4,471.9L1445.2,471.6L1444,472.5L1442.8,472.3L1441.6,473.2L1440.4,473.3L1439.2,472.8L1438,473.2L1436.8,473.8L1435.6,473.3L1434.4,473L1433.2,473.4L1432,474L1430.8,473.2L1429.6,473.7L1428.4,473.3L1427.2,474.3L1426,473.5L1424.8,474L1423.6,474L1422.4,474.5L1421.2,474.2L1420,474.1L1418.8,473.9L1417.6,473.6L1416.4,475L1415.2,474.2L1414,474.1L1412.8,473.7L1411.6,474.1L1410.4,474.5L1409.2,473.8L1408,474L1406.8,474.6L1405.6,474.6L1404.4,473.9L1403.2,474.2L1402,474.4L1400.8,474.6L1399.6,475.1L1398.4,474.8L1397.2,474.3L1396,473.9L1394.8,474.3L1393.6,474.1L1392.4,474L1391.2,474.5L1390,474.6L1388.8,474.4L1387.6,474.5L1386.4,474.5L1385.2,474.6L1384,474.2L1382.8,473.5L1381.6,474.7L1380.4,474.7L1379.2,475L1378,474.6L1376.8,474.8L1375.6,474.7L1374.4,475.8L1373.2,474.5L1372,474.3L1370.8,474.3L1369.6,474.7L1368.4,475.2L1367.2,475.1L1366,474.5L1364.8,474.4L1363.6,475L1362.4,474.7L1361.2,475L1360,474.7L1358.8,474.7L1357.6,474.6L1356.4,475.1L1355.2,474.1L1354,473.7L1352.8,474.2L1351.6,474.6L1350.4,474.4L1349.2,473.6L1348,474.8L1346.8,474.8L1345.6,474.8L1344.4,474.2L1343.2,474.4L1342,475L1340.8,475L1339.6,474.5L1338.4,474.7L1337.2,475L1336,475L1334.8,474.5L1333.6,474.4L1332.4,474.4L1331.2,475.2L1330,473.6L1328.8,474.7L1327.6,474.2L1326.4,474.5L1325.2,474L1324,474.5L1322.8,474.9L1321.6,474.6L1320.4,474.4L1319.2,474.5L1318,473.3L1316.8,474.3L1315.6,474.9L1314.4,474.8L1313.2,474.5L1312,475.3L1310.8,474.5L1309.6,474.8L1308.4,474.9L1307.2,474.3L1306,475.5L1304.8,474L1303.6,474.7L1302.4,475.6L1301.2,474.2L1300,474.1L1298.8,474.7L1297.6,473.4L1296.4,475.1L1295.2,474.3L1294,474.7L1292.8,474.7L1291.6,475.1L1290.4,474.8L1289.2,474.9L1288,474.4L1286.8,474.4L1285.6,474.2L1284.4,474.5L1283.2,474.2L1282,474.8L1280.8,474.4L1279.6,474.5L1278.4,474.6L1277.2,474.6L1276,474.1L1274.8,474.2L1273.6,474.2L1272.4,474.7L1271.2,475.2L1270,474.6L1268.8,475.2L1267.6,474.2L1266.4,475.3L1265.2,474.4L1264,475.1L1262.8,474.9L1261.6,475.1L1260.4,474.7L1259.2,474.3L1258,474.7L1256.8,474.9L1255.6,474.2L1254.4,474.7L1253.2,475.4L1252,474.2L1250.8,474.3L1249.6,474.8L1248.4,474.6L1247.2,474.4L1246,475.7L1244.8,475.4L1243.6,474.5L1242.4,474.8L1241.2,475L1240,474.8L1238.8,474.9L1237.6,474L1236.4,474.8L1235.2,475.1L1234,475.3L1232.8,474.6L1231.6,474.5L1230.4,474.4L1229.2,475L1228,474.4L1226.8,474.3L1225.6,475.2L1224.4,474.8L1223.2,474.6L1222,474.5L1220.8,474.6L1219.6,474.6L1218.4,474.7L1217.2,474.9L1216,474.9L1214.8,474.3L1213.6,474.4L1212.4,474.2L1211.2,474.1L1210,474.4L1208.8,474.4L1207.6,474.5L1206.4,473.9L1205.2,475L1204,474.7L1202.8,474.1L1201.6,474.4L1200.4,474.8L1199.2,474.8L1198,475.2L1196.8,474.8L1195.6,475.1L1194.4,474.5L1193.2,475.1L1192,474.6L1190.8,475.4L1189.6,475.1L1188.4,474.6L1187.2,474.2L1186,474.6L1184.8,474.7L1183.6,474.3L1182.4,475.4L1181.2,474.9L1180,473.6L1178.8,474.2L1177.6,474.8L1176.4,474.8L1175.2,474.5L1174,474.1L1172.8,474.4L1171.6,474.6L1170.4,474.6L1169.2,474L1168,474L1166.8,474.7L1165.6,475.2L1164.4,475L1163.2,474.8L1162,475.1L1160.8,474.7L1159.6,474.6L1158.4,474.7L1157.2,474.1L1156,474.9L1154.8,474.9L1153.6,474.1L1152.4,473.9L1151.2,474.8L1150,473.9L1148.8,474.7L1147.6,474.6L1146.4,475.2L1145.2,474.8L1144,474.5L1142.8,475.7L1141.6,474.4L1140.4,475.3L1139.2,474.6L1138,474.2L1136.8,474.7L1135.6,474.8L1134.4,474.4L1133.2,475.1L1132,474.4L1130.8,475.1L1129.6,474.8L1128.4,475.1L1127.2,474.7L1126,474.9L1124.8,474.6L1123.6,474.8L1122.4,474.7L1121.2,474.9L1120,475.3L1118.8,474.5L1117.6,475.4L1116.4,473.8L1115.2,474.7L1114,474.8L1112.8,473.9L1111.6,474.8L1110.4,474.3L1109.2,474.3L1108,474.3L1106.8,473.8L1105.6,473.4L1104.4,474.7L1103.2,475L1102,474.3L1100.8,474.4L1099.6,474.2L1098.4,474.5L1097.2,474.5L1096,474.6L1094.8,474.8L1093.6,475.2L1092.4,475.5L1091.2,474.6L1090,475.1L1088.8,474.7L1087.6,475.2L1086.4,474L1085.2,474.7L1084,475.4L1082.8,474.2L1081.6,474.5L1080.4,475L1079.2,474.4L1078,474.3L1076.8,475.1L1075.6,474.6L1074.4,475L1073.2,474.6L1072,474.4L1070.8,474.8L1069.6,474.6L1068.4,474.4L1067.2,474.5L1066,475.2L1064.8,474.7L1063.6,474.4L1062.4,474.5L1061.2,474.9L1060,475.3L1058.8,475.2L1057.6,474.2L1056.4,473.9L1055.2,475L1054,474.9L1052.8,474.4L1051.6,474.5L1050.4,474.8L1049.2,474.8L1048,473.9L1046.8,473.8L1045.6,474.8L1044.4,474.8L1043.2,475L1042,474.8L1040.8,474.5L1039.6,474.5L1038.4,474.6L1037.2,474.4L1036,475.5L1034.8,474.7L1033.6,474.5L1032.4,475.5L1031.2,474.6L1030,474.7L1028.8,474.9L1027.6,474.5L1026.4,474.7L1025.2,474.4L1024,474.9L1022.8,474.2L1021.6,474.5L1020.4,475.5L1019.2,475.1L1018,474.8L1016.8,474.7L1015.6,474.6L1014.4,474.7L1013.2,474.4L1012,474.8L1010.8,474.2L1009.6,474L1008.4,474.5L1007.2,474.6L1006,474.6L1004.8,474.5L1003.6,474.5L1002.4,474.8L1001.2,474.7L1000,474.9L998.8,474.8L997.6,474.5L996.4,474.3L995.2,474.4L994,474.7L992.8,474.5L991.6,474.2L990.4,474.5L989.2,474.3L988,474.7L986.8,474.3L985.6,474.5L984.4,475.1L983.2,474.3L982,474.3L980.8,475.3L979.6,474.7L978.4,474.6L977.2,475.1L976,474.7L974.8,475.2L973.6,474.8L972.4,475.1L971.2,474.5L970,474.3L968.8,474.3L967.6,474.2L966.4,474.3L965.2,475L964,475.1L962.8,474.5L961.6,473.8L960.4,474.4L959.2,474.4L958,474.4L956.8,474.2L955.6,474.3L954.4,475.2L953.2,474.7L952,474.8L950.8,474.5L949.6,474.7L948.4,474.7L947.2,474.4L946,474.2L944.8,474.9L943.6,474.9L942.4,475.1L941.2,474.6L940,474.7L938.8,474.9L937.6,475.2L936.4,474.3L935.2,474.3L934,473.9L932.8,473.8L931.6,474.5L930.4,474.3L929.2,475L928,475.2L926.8,474.1L925.6,475.1L924.4,474.9L923.2,475.2L922,474.2L920.8,474.9L919.6,474.2L918.4,474.8L917.2,474.7L916,474.3L914.8,474.5L913.6,474.1L912.4,475.1L911.2,474.8L910,474.4L908.8,474L907.6,475.4L906.4,474.1L905.2,474.5L904,475.5L902.8,474.5L901.6,474.8L900.4,474.2L899.2,475.1L898,474.5L896.8,474.6L895.6,474.6L894.4,474.6L893.2,474.1L892,474L890.8,474.8L889.6,475.1L888.4,474.5L887.2,474.2L886,474.5L884.8,474.5L883.6,474.8L882.4,474.6L881.2,474.7L880,473.9L878.8,473.5L877.6,474.4L876.4,474.1L875.2,474.8L874,474.2L872.8,474L871.6,474.9L870.4,474.6L869.2,474.1L868,474.8L866.8,474.4L865.6,474.7L864.4,473.8L863.2,474.1L862,474.6L860.8,473.7L859.6,474.7L858.4,474.4L857.2,474.3L856,474.5L854.8,474.4L853.6,474.1L852.4,475.2L851.2,474.5L850,474.6L848.8,474.3L847.6,474.7L846.4,474.7L845.2,474.1L844,474.6L842.8,474.3L841.6,474.3L840.4,474.3L839.2,474.3L838,473.9L836.8,473.7L835.6,474L834.4,474.1L833.2,474.4L832,473.9L830.8,473.9L829.6,474.1L828.4,474.8L827.2,474.3L826,474.3L824.8,474.1L823.6,475.1L822.4,473.8L821.2,474L820,474.1L818.8,473.9L817.6,474.3L816.4,474.4L815.2,474.3L814,474.7L812.8,474.2L811.6,474.3L810.4,473.9L809.2,473.9L808,473.9L806.8,473.7L805.6,473.8L804.4,474.1L803.2,473.7L802,474.3L800.8,473L799.6,473.8L798.4,473.8L797.2,473.9L796,473.1L794.8,473.5L793.6,473.3L792.4,473.8L791.2,473L790,473.4L788.8,472.9L787.6,473L786.4,471.9L785.2,473.2L784,472.3L782.8,471.9L781.6,471.4L780.4,471.5L779.2,471L778,470.3L776.8,469.5L776.3,469.3L775.9,468.6L775.6,468.5L775.5,468.8L775.1,468.4L774.7,467.6L774.4,467.3L774.3,467.7L773.9,467L773.5,466.2L773.2,466.1L773.1,465.9L772.7,465.5L772.3,465L772,464.5L771.9,464.3L771.5,463.5L771.1,462.7L770.8,462L770.7,461.8L770.3,460.9L769.9,459.8L769.6,458.9L769.5,458.5L769.1,457.2L768.7,455.6L768.4,454.3L768.3,453.8L767.9,451.8L767.5,449.4L767.2,447.4L767.1,446.7L766.7,443.6L766.3,439.9L766,436.9L765.9,435.8L765.5,431L765.1,425.7L764.8,421.4L764.7,419.9L764.3,413.9L763.9,408.1L763.6,404.2L763.5,403.1L763.1,399.7L762.7,398.5L762.4,399.2L762.3,399.7L761.9,403.1L761.5,408.1L761.2,412.4L761.1,413.9L760.7,419.9L760.3,425.7L760,429.8L759.9,431L759.5,435.8L759.1,439.9L758.8,442.7L758.7,443.5L758.3,446.7L757.9,449.4L757.6,451.2L757.5,451.7L757.1,453.8L756.7,455.6L756.4,456.8L756.3,457.2L755.9,458.5L755.5,459.8L755.2,460.7L755.1,460.8L754.7,461.8L754.3,462.7L754,463.3L753.9,463.5L753.5,464.1L753.1,464.8L752.8,465.1L752.7,465.3L752.3,466L751.9,466.3L751.6,466.9L751.5,466.9L751.1,467.2L750.7,467.7L750.4,468.5L750.3,468.1L749.9,468.6L749.5,468.9L749.2,468.7L749.1,468.9L748.7,468.9L748,469.5L746.8,470L745.6,470.9L744.4,471.3L743.2,471.1L742,471.8L740.8,472.2L739.6,472.1L738.4,472.1L737.2,472.9L736,472.9L734.8,473.2L733.6,473.7L732.4,472.7L731.2,472.9L730,473.1L728.8,473.2L727.6,473.4L726.4,473.7L725.2,473.8L724,473.7L722.8,473.7L721.6,473.6L720.4,473.7L719.2,473.9L718,474.4L716.8,473.6L715.6,474.1L714.4,473.1L713.2,473.6L712,473.7L710.8,474.4L709.6,473.8L708.4,474.1L707.2,474.5L706,474.1L704.8,473.5L703.6,474.2L702.4,474L701.2,473.8L700,474.1L698.8,473.8L697.6,474.2L696.4,473.5L695.2,474.2L694,474.6L692.8,473.7L691.6,475L690.4,474.4L689.2,474.3L688,474L686.8,473.9L685.6,474.1L684.4,474L683.2,474.5L682,473.7L680.8,474L679.6,474.2L678.4,474.1L677.2,472.9L676,474.5L674.8,474.5L673.6,473.7L672.4,473.9L671.2,473.7L670,474.1L668.8,474.2L667.6,473.3L666.4,474.3L665.2,474.3L664,474.3L662.8,474L661.6,473.9L660.4,474.5L659.2,473.8L658,474.4L656.8,473.9L655.6,473.7L654.4,473.6L653.2,474.1L652,474L650.8,474L649.6,474.1L648.4,473.9L647.2,473.7L646,474L644.8,473.8L643.6,474.1L642.4,473.8L641.2,474L640,473.2L638.8,473.7L637.6,473.6L636.4,472.7L635.2,473.9L634,473.4L632.8,473.5L631.6,473L630.4,473.3L629.2,473L628,473.1L626.8,473.3L625.6,472.5L624.4,473.1L623.2,473.4L622,472.9L620.8,472.8L619.6,472.1L618.4,473L617.2,473.1L616,472.8L614.8,472.5L613.6,472.7L612.4,472.4L611.2,472.1L610,472.8L608.8,472.5L607.6,472.2L606.4,472.2L605.2,472.2L604,472.1L602.8,472L601.6,471.5L600.4,471.1L599.2,471.4L598,470.7L596.8,470.7L595.6,470.3L594.4,469.7L593.3,469.3L593.2,469.1L592.9,469.1L592.5,469L592.1,468.5L592,468.4L591.7,468.5L591.3,468.3L590.9,468L590.8,468L590.5,467.5L590.1,467.5L589.7,467.1L589.6,466.8L589.3,466.9L588.9,466.6L588.5,466.1L588.4,466L588.1,465.9L587.7,465.3L587.3,464.9L587.2,464.7L586.9,464.3L586.5,463.8L586.1,463.1L586,463L585.7,462.5L585.3,461.7L584.9,460.9L584.8,460.7L584.5,459.9L584.1,458.9L583.7,457.8L583.6,457.5L583.3,456.5L582.9,455.1L582.5,453.6L582.4,453.2L582.1,452L581.7,450.4L581.3,448.8L581.2,448.5L580.9,447.4L580.5,446.2L580.1,445.3L580,445.2L579.7,444.9L579.3,444.9L578.9,445.4L578.8,445.6L578.5,446.2L578.1,447.3L577.7,448.5L577.6,448.8L577.3,449.7L576.9,450.8L576.5,451.9L576.4,452.2L576.1,452.9L575.7,453.7L575.3,454.4L575.2,454.6L574.9,455L574.5,455.5L574.1,455.8L574,455.9L573.7,456.1L573.3,456.2L572.9,456.3L572.8,456.4L572.5,456.3L572.1,456.4L571.7,456.1L571.6,456.2L571.3,456L570.9,455.7L570.5,455.4L570.4,455.1L570.1,455L569.7,454.5L569.3,454.1L569.2,453.9L568.9,453.4L568.5,452.8L568.1,452L568,451.8L567.7,450.9L567.3,450.4L567.2,450L566.9,449.6L566.8,449.1L566.5,448L566.4,447.9L566.1,447.2L566,446.7L565.7,445.7L565.6,445.4L565.2,443.8L564.8,442.3L564.4,440.7L564,438.7L563.6,436.6L563.2,434.3L562.8,431.8L562.4,428.9L562,425.8L561.6,422.3L561.2,418.4L560.8,414L560.4,409.1L560,403.5L559.6,397.1L559.2,389.9L558.8,381.5L558.4,371.9L558,360.8L557.6,347.9L557.2,332.9L556.8,315.6L556.4,295.6L556,273L555.6,248.2L555.2,222L554.8,196.5L554.4,174.4L554,159.3L553.6,153.8L553.2,159.3L552.8,174.5L552.4,196.6L552,222.2L551.6,248.4L551.2,273.3L550.8,295.9L550.4,315.9L550,333.3L549.6,348.4L549.2,361.3L548.8,372.5L548.4,382.2L548,390.5L547.6,397.9L547.2,404.3L546.8,409.9L546.4,414.9L546,419.3L545.6,423.3L545.2,427L544.8,430.1L544.4,433.1L544,435.7L543.6,438.1L543.2,440.1L542.8,442.6L542.4,444.1L542,445.8L541.6,447.3L541.2,448.8L540.8,450.2L540.4,451.3L540,452.7L539.6,453.4L539.2,454.7L538,456.8L536.8,459.4L535.6,461L534.4,462.7L533.2,463.4L532,464.6L530.8,465.4L529.6,466.2L528.4,467.6L527.2,467.4L526,467.9L524.8,468.6L523.6,469.3L522.4,468.9L521.2,470.3L520,470.6L518.8,470.6L517.6,470.1L516.4,470.9L515.2,471.7L514,471.6L512.8,471.5L511.6,472L510.4,473.1L509.2,472.7L508,471.9L506.8,472.4L505.6,472.1L504.4,472.5L503.2,472.8L502,473.1L500.8,473.4L499.6,472.7L498.4,472.5L497.2,473.3L496,472.6L494.8,473.3L493.6,473.3L492.4,473.5L491.2,474.2L490,472.8L488.8,473L487.6,473.1L486.4,474.3L485.2,473.1L484,473.2L482.8,473.4L481.6,474.1L480.4,473L479.2,474L478,473.5L476.8,473.4L475.6,473.9L474.4,473.7L473.2,474.2L472,474L470.8,474.1L469.6,473.8L468.4,474L467.2,473.8L466,473.7L464.8,473.6L463.6,474.6L462.4,474.7L461.2,473.8L460,473.7L458.8,473.7L457.6,475L456.4,474.3L455.2,473.8L454,473.8L452.8,474.6L451.6,473.8L450.4,473.6L449.2,474L448,474.7L446.8,474.4L445.6,473.9L444.4,474.4L443.2,473.8L442,473.6L440.8,474L439.6,474.5L438.4,473.7L437.2,474.2L436,473.7L434.8,474.2L433.6,473.6L432.4,475L431.2,474.8L430,473.9L428.8,474.2L427.6,474.4L426.4,474.3L425.2,473.7L424,473.4L422.8,474.3L421.6,475L420.4,474.8L419.2,474.4L418,474.9L416.8,473.9L415.6,473.4L414.4,474.5L413.2,474.6L412,474.3L410.8,473.9L409.6,475.1L408.4,474.7L407.2,475.2L406,474.6L404.8,474.2L403.6,473.9L402.4,474.7L401.2,474.5L400,474.2L398.8,474L397.6,474L396.4,474.4L395.2,474.8L394,474.3L392.8,474.4L391.6,474.4L390.4,474.1L389.2,475.4L388,474.5L386.8,474.5L385.6,474.9L384.4,474.9L383.2,474.4L382,474.4L380.8,474.9L379.6,474.6L378.4,475.4L377.2,474.4L376,473.4L374.8,474L373.6,474.3L372.4,474L371.2,474.5L370,474.3L368.8,474.2L367.6,474.6L366.4,474.8L365.2,474.9L364,473.8L362.8,475L361.6,474.2L360.4,474.1L359.2,474.9L358,474.3L356.8,474.2L355.6,474.8L354.4,474.1L353.2,474.5L352,474.4L350.8,474.8L349.6,474.4L348.4,474.3L347.2,474.7L346,474.8L344.8,474.3L343.6,474.3L342.4,474.8L341.2,474.7L340,474.3L338.8,474.9L337.6,475L336.4,475.1L335.2,474.8L334,474.7L332.8,474.6L331.6,474.6L330.4,475L329.2,474.6L328,474.8L326.8,473.9L325.6,474.3L324.4,474.7L323.2,473.9L322,474.2L320.8,474.9L319.6,474.7L318.4,474.5L317.2,474.3L316,475.1L314.8,474.2L313.6,474.8L312.4,474.7L311.2,474.6L310,473.7L308.8,474.5L307.6,474.3L306.4,475.2L305.2,474.8L304,475L302.8,474L301.6,474.4L300.4,474.9L299.2,474.8L298,474.5L296.8,474.1L295.6,475.2L294.4,474.7L293.2,475L292,474.7L290.8,474.2L289.6,474.2L288.4,475.2L287.2,474.4L286,474.8L284.8,475L283.6,474L282.4,475.2L281.2,474.7L280,474.8L278.8,474.7L277.6,474.6L276.4,475.1L275.2,474.8L274,474.3L272.8,474.1L271.6,473.9L270.4,474.4L269.2,474.3L268,474.1L266.8,474.8L265.6,474.6L264.4,475.1L263.2,474.5L262,474.8L260.8,474.1L259.6,474.6L258.4,474.3L257.2,474.6L256,474.7L254.8,474.5L253.6,474.6L252.4,474.8L251.2,474.1L250,474.6L248.8,474.6L247.6,474.3L246.4,475.1L245.2,474.7L244,474.7L242.8,474.7L241.6,474.9L240.4,474.1L239.2,473.9L238,474.5L236.8,474.4L235.6,474L234.4,474.1L233.2,474.7L232,474.4L230.8,474.1L229.6,475L228.4,474.2L227.2,474.7L226,474.9L224.8,474.6L223.6,474.1L222.4,474.9L221.2,474.6L220,474.3L218.8,474.9L217.6,473.8L216.4,474.6L215.2,474.3L214,474.9L212.8,474.8L211.6,474.5L210.4,474.5L209.2,474.6L208,474.9L206.8,474.7L205.6,475L204.4,474.3L203.2,473.9L202,475.3L200.8,474.5L199.6,474.1L198.4,474.7L197.2,474.6L196,474.7L194.8,474.5L193.6,474L192.4,475.1L191.2,474.1L190,474L188.8,475.2L187.6,475L186.4,474.6L185.2,474.1L184,475.1L182.8,474.4L181.6,475L180.4,474.6L179.2,474.4L178,474.9L176.8,474.3L175.6,475L174.4,474.5L173.2,473.9L172,475.3L170.8,474.6L169.6,475.4L168.4,474.5L167.2,474.2L166,474.8L164.8,475.5L163.6,474.9L162.4,474.6L161.2,474.5L160,474.5L158.8,474.8L157.6,474.5L156.4,474L155.2,474.4L154,474.8L152.8,474.8L151.6,474.6L150.4,474L149.2,474.4L148,474.3Z" fill="#cc9a04" stroke="#cc9a04" stroke-width="8.0" stroke-linejoin="round"/>
<path d="M550.1,153.3H557.1V414.9L553.6,402.9L550.1,414.9Z" fill="#cc9a04"/>
<path d="M759.2,397.3H766.2V467.1L762.7,455.1L759.2,467.1Z" fill="#cc9a04"/>
<path d="M1459.3,432.3H1466.3V473.0L1462.8,461.0L1459.3,473.0Z" fill="#cc9a04"/>
</g>
<g fill="#000080"><rect x="552.0" y="163.5" width="3.2" height="8"/><rect x="552.0" y="187.3" width="3.2" height="8"/><rect x="552.0" y="211.2" width="3.2" height="8"/><rect x="552.0" y="235.0" width="3.2" height="8"/><rect x="552.0" y="258.9" width="3.2" height="8"/><rect x="552.0" y="282.8" width="3.2" height="8"/><rect x="552.0" y="306.6" width="3.2" height="8"/><rect x="552.0" y="330.5" width="3.2" height="8"/><rect x="552.0" y="354.3" width="3.2" height="8"/><rect x="552.0" y="378.2" width="3.2" height="8"/><rect x="552.0" y="402.0" width="3.2" height="8"/><rect x="552.0" y="425.9" width="3.2" height="8"/><rect x="552.0" y="449.7" width="3.2" height="8"/><rect x="552.0" y="473.6" width="3.2" height="8"/><rect x="552.0" y="497.4" width="3.2" height="8"/><rect x="552.0" y="521.3" width="3.2" height="8"/><rect x="552.0" y="545.1" width="3.2" height="8"/><rect x="552.0" y="569.0" width="3.2" height="8"/><rect x="552.0" y="592.8" width="3.2" height="8"/><rect x="552.0" y="616.7" width="3.2" height="8"/><rect x="552.0" y="640.5" width="3.2" height="8"/><rect x="552.0" y="664.4" width="3.2" height="8"/><rect x="552.0" y="688.2" width="3.2" height="8"/><rect x="552.0" y="712.1" width="3.2" height="8"/><rect x="552.0" y="735.9" width="3.2" height="8"/><rect x="552.0" y="759.8" width="3.2" height="8"/><rect x="552.0" y="783.6" width="3.2" height="8"/><rect x="552.0" y="807.5" width="3.2" height="8"/><rect x="552.0" y="831.3" width="3.2" height="8"/><rect x="552.0" y="855.2" width="3.2" height="8"/><rect x="552.0" y="879.0" width="3.2" height="8"/><rect x="552.0" y="902.9" width="3.2" height="8"/><rect x="552.0" y="926.7" width="3.2" height="8"/><rect x="552.0" y="950.6" width="3.2" height="8"/><rect x="552.0" y="974.4" width="3.2" height="8"/><rect x="552.0" y="998.3" width="3.2" height="8"/><rect x="552.0" y="1022.1" width="3.2" height="8"/><rect x="552.0" y="1046.0" width="3.2" height="8"/><rect x="552.0" y="1069.8" width="3.2" height="8"/><rect x="552.0" y="1093.7" width="3.2" height="8"/><rect x="552.0" y="1117.5" width="3.2" height="8"/><rect x="552.0" y="1141.4" width="3.2" height="8"/><rect x="552.0" y="1165.2" width="3.2" height="8"/><rect x="552.0" y="1189.1" width="3.2" height="8"/><rect x="552.0" y="1212.9" width="3.2" height="8"/></g>
<g fill="#000080"><rect x="577.1" y="441.7" width="5.2" height="7"/><rect x="577.1" y="465.6" width="5.2" height="7"/><rect x="577.1" y="489.4" width="5.2" height="7"/><rect x="577.1" y="513.2" width="5.2" height="7"/><rect x="577.1" y="537.1" width="5.2" height="7"/><rect x="577.1" y="561.0" width="5.2" height="7"/><rect x="577.1" y="584.8" width="5.2" height="7"/><rect x="577.1" y="608.7" width="5.2" height="7"/><rect x="577.1" y="632.5" width="5.2" height="7"/><rect x="577.1" y="656.4" width="5.2" height="7"/><rect x="577.1" y="680.2" width="5.2" height="7"/><rect x="577.1" y="704.1" width="5.2" height="7"/><rect x="577.1" y="727.9" width="5.2" height="7"/><rect x="577.1" y="751.8" width="5.2" height="7"/><rect x="577.1" y="775.6" width="5.2" height="7"/><rect x="577.1" y="799.5" width="5.2" height="7"/><rect x="577.1" y="823.3" width="5.2" height="7"/><rect x="577.1" y="847.2" width="5.2" height="7"/><rect x="577.1" y="871.0" width="5.2" height="7"/><rect x="577.1" y="894.9" width="5.2" height="7"/><rect x="577.1" y="918.7" width="5.2" height="7"/><rect x="577.1" y="942.6" width="5.2" height="7"/><rect x="577.1" y="966.4" width="5.2" height="7"/><rect x="577.1" y="990.3" width="5.2" height="7"/><rect x="577.1" y="1014.1" width="5.2" height="7"/><rect x="577.1" y="1038.0" width="5.2" height="7"/><rect x="577.1" y="1061.8" width="5.2" height="7"/><rect x="577.1" y="1085.7" width="5.2" height="7"/><rect x="577.1" y="1109.5" width="5.2" height="7"/><rect x="577.1" y="1133.4" width="5.2" height="7"/><rect x="577.1" y="1157.2" width="5.2" height="7"/><rect x="577.1" y="1181.0" width="5.2" height="7"/><rect x="577.1" y="1204.9" width="5.2" height="7"/><rect x="577.1" y="1228.7" width="5.2" height="7"/></g>
<g fill="#000080"><rect x="758.6" y="435.0" width="5.2" height="7"/><rect x="758.6" y="458.9" width="5.2" height="7"/><rect x="758.6" y="482.7" width="5.2" height="7"/><rect x="758.6" y="506.6" width="5.2" height="7"/><rect x="758.6" y="530.4" width="5.2" height="7"/><rect x="758.6" y="554.3" width="5.2" height="7"/><rect x="758.6" y="578.1" width="5.2" height="7"/><rect x="758.6" y="602.0" width="5.2" height="7"/><rect x="758.6" y="625.8" width="5.2" height="7"/><rect x="758.6" y="649.7" width="5.2" height="7"/><rect x="758.6" y="673.5" width="5.2" height="7"/><rect x="758.6" y="697.4" width="5.2" height="7"/><rect x="758.6" y="721.2" width="5.2" height="7"/><rect x="758.6" y="745.1" width="5.2" height="7"/><rect x="758.6" y="768.9" width="5.2" height="7"/><rect x="758.6" y="792.8" width="5.2" height="7"/><rect x="758.6" y="816.6" width="5.2" height="7"/><rect x="758.6" y="840.5" width="5.2" height="7"/><rect x="758.6" y="864.3" width="5.2" height="7"/><rect x="758.6" y="888.2" width="5.2" height="7"/><rect x="758.6" y="912.0" width="5.2" height="7"/><rect x="758.6" y="935.9" width="5.2" height="7"/><rect x="758.6" y="959.7" width="5.2" height="7"/><rect x="758.6" y="983.6" width="5.2" height="7"/><rect x="758.6" y="1007.4" width="5.2" height="7"/><rect x="758.6" y="1031.3" width="5.2" height="7"/><rect x="758.6" y="1055.1" width="5.2" height="7"/><rect x="758.6" y="1079.0" width="5.2" height="7"/><rect x="758.6" y="1102.8" width="5.2" height="7"/><rect x="758.6" y="1126.7" width="5.2" height="7"/><rect x="758.6" y="1150.5" width="5.2" height="7"/><rect x="758.6" y="1174.3" width="5.2" height="7"/><rect x="758.6" y="1198.2" width="5.2" height="7"/><rect x="758.6" y="1222.0" width="5.2" height="7"/></g>
<g fill="#000080"><rect x="1459.7" y="397.0" width="4.6" height="7.5"/><rect x="1459.7" y="420.9" width="4.6" height="7.5"/><rect x="1459.7" y="444.7" width="4.6" height="7.5"/><rect x="1459.7" y="468.6" width="4.6" height="7.5"/><rect x="1459.7" y="492.4" width="4.6" height="7.5"/><rect x="1459.7" y="516.3" width="4.6" height="7.5"/><rect x="1459.7" y="540.1" width="4.6" height="7.5"/><rect x="1459.7" y="564.0" width="4.6" height="7.5"/><rect x="1459.7" y="587.8" width="4.6" height="7.5"/><rect x="1459.7" y="611.7" width="4.6" height="7.5"/><rect x="1459.7" y="635.5" width="4.6" height="7.5"/><rect x="1459.7" y="659.4" width="4.6" height="7.5"/><rect x="1459.7" y="683.2" width="4.6" height="7.5"/><rect x="1459.7" y="707.1" width="4.6" height="7.5"/><rect x="1459.7" y="730.9" width="4.6" height="7.5"/><rect x="1459.7" y="754.8" width="4.6" height="7.5"/><rect x="1459.7" y="778.6" width="4.6" height="7.5"/><rect x="1459.7" y="802.5" width="4.6" height="7.5"/><rect x="1459.7" y="826.3" width="4.6" height="7.5"/><rect x="1459.7" y="850.2" width="4.6" height="7.5"/><rect x="1459.7" y="874.0" width="4.6" height="7.5"/><rect x="1459.7" y="897.9" width="4.6" height="7.5"/><rect x="1459.7" y="921.7" width="4.6" height="7.5"/><rect x="1459.7" y="945.6" width="4.6" height="7.5"/><rect x="1459.7" y="969.4" width="4.6" height="7.5"/><rect x="1459.7" y="993.3" width="4.6" height="7.5"/><rect x="1459.7" y="1017.1" width="4.6" height="7.5"/><rect x="1459.7" y="1041.0" width="4.6" height="7.5"/><rect x="1459.7" y="1064.8" width="4.6" height="7.5"/><rect x="1459.7" y="1088.7" width="4.6" height="7.5"/><rect x="1459.7" y="1112.5" width="4.6" height="7.5"/><rect x="1459.7" y="1136.4" width="4.6" height="7.5"/><rect x="1459.7" y="1160.2" width="4.6" height="7.5"/><rect x="1459.7" y="1184.0" width="4.6" height="7.5"/><rect x="1459.7" y="1207.9" width="4.6" height="7.5"/></g>
<g fill="#000080"><rect x="1670.5" y="464.3" width="5.0" height="7"/><rect x="1670.5" y="488.2" width="5.0" height="7"/><rect x="1670.5" y="512.0" width="5.0" height="7"/><rect x="1670.5" y="535.9" width="5.0" height="7"/><rect x="1670.5" y="559.7" width="5.0" height="7"/><rect x="1670.5" y="583.6" width="5.0" height="7"/><rect x="1670.5" y="607.4" width="5.0" height="7"/><rect x="1670.5" y="631.3" width="5.0" height="7"/><rect x="1670.5" y="655.1" width="5.0" height="7"/><rect x="1670.5" y="679.0" width="5.0" height="7"/><rect x="1670.5" y="702.8" width="5.0" height="7"/><rect x="1670.5" y="726.7" width="5.0" height="7"/><rect x="1670.5" y="750.5" width="5.0" height="7"/><rect x="1670.5" y="774.4" width="5.0" height="7"/><rect x="1670.5" y="798.2" width="5.0" height="7"/><rect x="1670.5" y="822.1" width="5.0" height="7"/><rect x="1670.5" y="845.9" width="5.0" height="7"/><rect x="1670.5" y="869.8" width="5.0" height="7"/><rect x="1670.5" y="893.6" width="5.0" height="7"/><rect x="1670.5" y="917.5" width="5.0" height="7"/><rect x="1670.5" y="941.3" width="5.0" height="7"/><rect x="1670.5" y="965.2" width="5.0" height="7"/><rect x="1670.5" y="989.0" width="5.0" height="7"/><rect x="1670.5" y="1012.9" width="5.0" height="7"/><rect x="1670.5" y="1036.7" width="5.0" height="7"/><rect x="1670.5" y="1060.6" width="5.0" height="7"/><rect x="1670.5" y="1084.4" width="5.0" height="7"/><rect x="1670.5" y="1108.3" width="5.0" height="7"/><rect x="1670.5" y="1132.1" width="5.0" height="7"/><rect x="1670.5" y="1156.0" width="5.0" height="7"/><rect x="1670.5" y="1179.8" width="5.0" height="7"/><rect x="1670.5" y="1203.6" width="5.0" height="7"/></g>
<text x="153.5" y="1312.8" font-family="'Liberation Serif','Noto Serif CJK SC',serif" font-weight="bold" stroke="#ffffff" stroke-width="1.1" paint-order="fill stroke" font-size="78.4" letter-spacing="-3.2" text-anchor="middle">30</text>
<text x="446.4" y="1312.8" font-family="'Liberation Serif','Noto Serif CJK SC',serif" font-weight="bold" stroke="#ffffff" stroke-width="1.1" paint-order="fill stroke" font-size="78.4" letter-spacing="-3.2" text-anchor="middle">40</text>
<text x="739.3" y="1312.8" font-family="'Liberation Serif','Noto Serif CJK SC',serif" font-weight="bold" stroke="#ffffff" stroke-width="1.1" paint-order="fill stroke" font-size="78.4" letter-spacing="-3.2" text-anchor="middle">50</text>
<text x="1032.2" y="1312.8" font-family="'Liberation Serif','Noto Serif CJK SC',serif" font-weight="bold" stroke="#ffffff" stroke-width="1.1" paint-order="fill stroke" font-size="78.4" letter-spacing="-3.2" text-anchor="middle">60</text>
<text x="1325.1" y="1312.8" font-family="'Liberation Serif','Noto Serif CJK SC',serif" font-weight="bold" stroke="#ffffff" stroke-width="1.1" paint-order="fill stroke" font-size="78.4" letter-spacing="-3.2" text-anchor="middle">70</text>
<text x="1618.0" y="1312.8" font-family="'Liberation Serif','Noto Serif CJK SC',serif" font-weight="bold" stroke="#ffffff" stroke-width="1.1" paint-order="fill stroke" font-size="78.4" letter-spacing="-3.2" text-anchor="middle">80</text>
<text x="960.0" y="1441.8" font-family="'Liberation Serif','Noto Serif CJK SC',serif" font-weight="bold" stroke="#ffffff" stroke-width="1.1" paint-order="fill stroke" font-size="79.3" text-anchor="middle">2<tspan stroke-width="3.2">θ</tspan> (°)</text>
<text transform="translate(74.2,895.0) rotate(-90)" font-family="'Liberation Serif','Noto Serif CJK SC',serif" font-weight="bold" stroke="#ffffff" stroke-width="1.1" paint-order="fill stroke" font-size="79.5" letter-spacing="-0.75">Intensity (a. u.)</text>
<text x="175.5" y="592" font-family="'Liberation Serif','Noto Serif CJK SC',serif" font-weight="bold" stroke="#ffffff" stroke-width="1.1" paint-order="fill stroke" font-size="70" letter-spacing="-1.6">1440 °C</text>
<text x="175.5" y="739" font-family="'Liberation Serif','Noto Serif CJK SC',serif" font-weight="bold" stroke="#ffffff" stroke-width="1.1" paint-order="fill stroke" font-size="70" letter-spacing="-1.6">1420 °C</text>
<text x="175.5" y="881.5" font-family="'Liberation Serif','Noto Serif CJK SC',serif" font-weight="bold" stroke="#ffffff" stroke-width="1.1" paint-order="fill stroke" font-size="70" letter-spacing="-1.6">1400 °C</text>
<text x="175.5" y="1029.2" font-family="'Liberation Serif','Noto Serif CJK SC',serif" font-weight="bold" stroke="#ffffff" stroke-width="1.1" paint-order="fill stroke" font-size="70" letter-spacing="-1.6">1380 °C</text>
<text x="177.1" y="1170" font-family="'Liberation Serif','Noto Serif CJK SC',serif" font-weight="bold" stroke="#ffffff" stroke-width="1.1" paint-order="fill stroke" font-size="70" letter-spacing="-2.4">Powder</text>
<text x="175.5" y="458.7" font-family="'Liberation Serif','Noto Serif CJK SC',serif" font-weight="bold" stroke="#ffffff" stroke-width="1.1" paint-order="fill stroke" font-size="70" letter-spacing="-1.6">1445 <tspan x="331.6" y="459.1" font-family="IPAGothic,'Noto Sans CJK SC',sans-serif" font-weight="normal" font-size="60" stroke-width="0.6">℃</tspan></text>
<text transform="translate(520.5,270) rotate(-90)" font-family="'Liberation Serif','Noto Serif CJK SC',serif" font-weight="bold" stroke="#ffffff" stroke-width="1.1" paint-order="fill stroke" font-size="79.8" letter-spacing="-1.2" style="font-kerning:none">(111)<tspan font-style="italic" font-weight="normal" font-size="83" dx="-3" dy="25.2" letter-spacing="0">γ</tspan></text>
<text transform="translate(644.5,437) rotate(-90)" font-family="'Liberation Serif','Noto Serif CJK SC',serif" font-weight="bold" stroke="#ffffff" stroke-width="1.1" paint-order="fill stroke" font-size="79.8" letter-spacing="-1.2" style="font-kerning:none">(110)<tspan font-style="italic" font-weight="normal" font-size="62" dx="0" dy="25" letter-spacing="0">δ</tspan></text>
<text transform="translate(784.5,375) rotate(-90)" font-family="'Liberation Serif','Noto Serif CJK SC',serif" font-weight="bold" stroke="#ffffff" stroke-width="1.1" paint-order="fill stroke" font-size="79.8" letter-spacing="-1.2" style="font-kerning:none">(200)<tspan font-style="italic" font-weight="normal" font-size="83" dx="-3" dy="25.2" letter-spacing="0">γ</tspan></text>
<text transform="translate(1484.5,375.4) rotate(-90)" font-family="'Liberation Serif','Noto Serif CJK SC',serif" font-weight="bold" stroke="#ffffff" stroke-width="1.1" paint-order="fill stroke" font-size="79.8" letter-spacing="-1.2" style="font-kerning:none">(220)<tspan font-style="italic" font-weight="normal" font-size="83" dx="-3" dy="25.2" letter-spacing="0">γ</tspan></text>
<text transform="translate(1694.5,437.4) rotate(-90)" font-family="'Liberation Serif','Noto Serif CJK SC',serif" font-weight="bold" stroke="#ffffff" stroke-width="1.1" paint-order="fill stroke" font-size="79.8" letter-spacing="-1.2" style="font-kerning:none">(211)<tspan font-style="italic" font-weight="normal" font-size="62" dx="0" dy="25" letter-spacing="0">δ</tspan></text>
</svg>
</body></html>
